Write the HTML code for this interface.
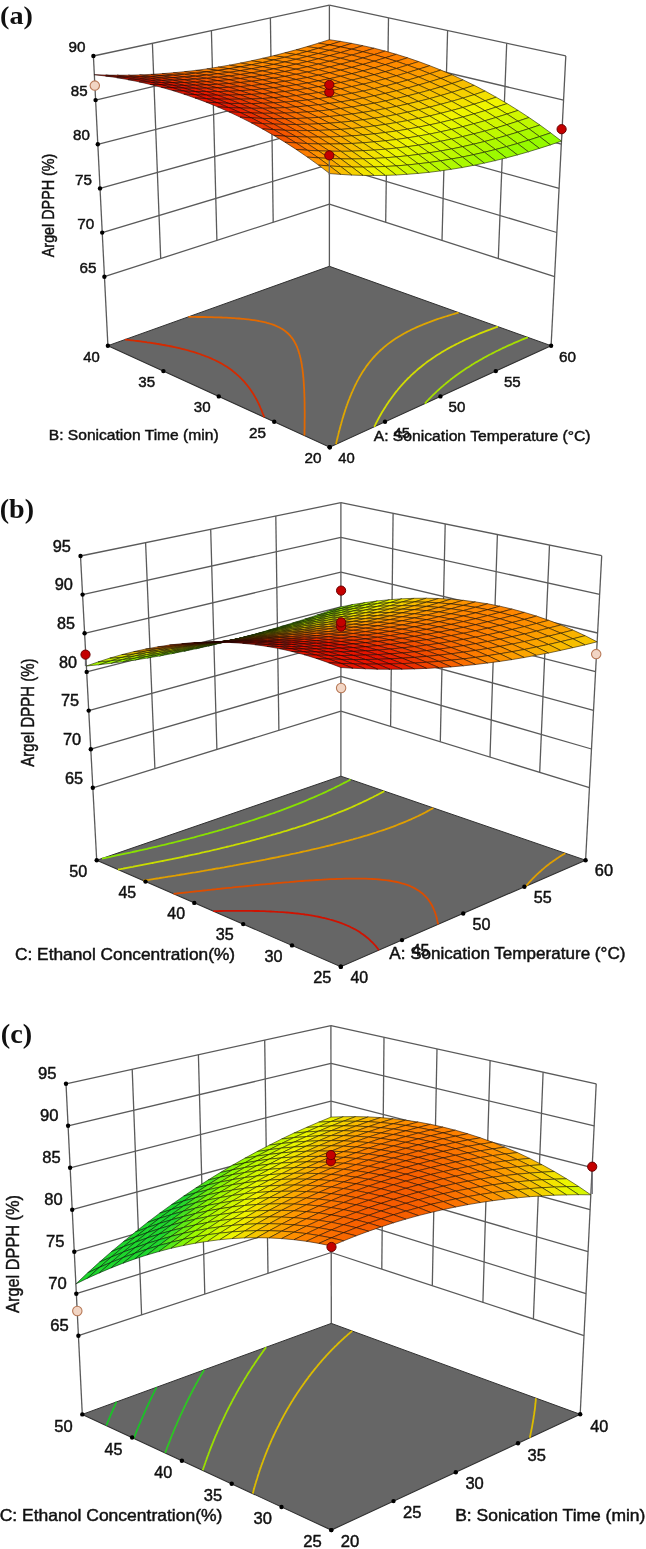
<!DOCTYPE html>
<html><head><meta charset="utf-8"><style>html,body{margin:0;padding:0;background:#fff}svg{display:block;filter:blur(0.35px)}</style></head>
<body><svg width="646" height="1549" viewBox="0 0 646 1549">
<rect width="646" height="1549" fill="#fff"/>
<polygon points="329.7,447.2 551.1,345.7 329.4,266.3 107.9,345.7" fill="#666666"/>
<line x1="160.7" y1="258.6" x2="152.4" y2="43.3" stroke="#5a5a5a" stroke-width="1.3"/>
<line x1="216.9" y1="240.4" x2="211.4" y2="30.6" stroke="#5a5a5a" stroke-width="1.3"/>
<line x1="273.2" y1="222.3" x2="270.4" y2="17.9" stroke="#5a5a5a" stroke-width="1.3"/>
<line x1="498.3" y1="258.6" x2="506.7" y2="43.2" stroke="#5a5a5a" stroke-width="1.3"/>
<line x1="442" y1="240.4" x2="447.6" y2="30.5" stroke="#5a5a5a" stroke-width="1.3"/>
<line x1="385.7" y1="222.3" x2="388.5" y2="17.9" stroke="#5a5a5a" stroke-width="1.3"/>
<line x1="104.4" y1="276.7" x2="329.4" y2="204.1" stroke="#5a5a5a" stroke-width="1.3"/>
<line x1="329.4" y1="204.1" x2="554.6" y2="276.7" stroke="#5a5a5a" stroke-width="1.3"/>
<line x1="102.2" y1="232.6" x2="329.4" y2="164.3" stroke="#5a5a5a" stroke-width="1.3"/>
<line x1="329.4" y1="164.3" x2="556.8" y2="232.5" stroke="#5a5a5a" stroke-width="1.3"/>
<line x1="100" y1="188.4" x2="329.4" y2="124.6" stroke="#5a5a5a" stroke-width="1.3"/>
<line x1="329.4" y1="124.6" x2="559.1" y2="188.4" stroke="#5a5a5a" stroke-width="1.3"/>
<line x1="97.8" y1="144.3" x2="329.4" y2="84.8" stroke="#5a5a5a" stroke-width="1.3"/>
<line x1="329.4" y1="84.8" x2="561.3" y2="144.2" stroke="#5a5a5a" stroke-width="1.3"/>
<line x1="95.6" y1="100.1" x2="329.4" y2="45" stroke="#5a5a5a" stroke-width="1.3"/>
<line x1="329.4" y1="45" x2="563.6" y2="100.1" stroke="#5a5a5a" stroke-width="1.3"/>
<line x1="93.4" y1="56" x2="329.4" y2="5.2" stroke="#5a5a5a" stroke-width="1.3"/>
<line x1="329.4" y1="5.2" x2="565.8" y2="55.9" stroke="#5a5a5a" stroke-width="1.3"/>
<line x1="107.9" y1="345.7" x2="93.4" y2="56" stroke="#5a5a5a" stroke-width="1.3"/>
<line x1="329.4" y1="266.3" x2="329.4" y2="5.2" stroke="#5a5a5a" stroke-width="1.3"/>
<line x1="551.1" y1="345.7" x2="565.8" y2="55.9" stroke="#5a5a5a" stroke-width="1.3"/>
<polyline points="107.9,345.7 329.7,447.2 551.1,345.7" fill="none" stroke="#303030" stroke-width="1.1"/>
<polyline points="107.9,345.7 329.4,266.3 551.1,345.7" fill="none" stroke="#303030" stroke-width="1.0"/>
<polyline points="424.8,403.6 425.3,403.1 426.3,401.9 427.3,400.8 427.4,400.7 428.5,399.6 429.6,398.4 430.1,398 430.7,397.3 431.9,396.2 433,395 433,395 434.2,393.9 435.3,392.8 436.2,392 436.5,391.7 437.7,390.6 438.9,389.5 439.6,388.8 440.1,388.4 441.4,387.3 442.6,386.2 443.4,385.6 443.8,385.1 445.1,384.1 446.4,383 447.5,382.1 447.7,382 449,380.9 450.3,379.9 451.6,378.8 452.2,378.4 453,377.8 454.4,376.8 455.7,375.8 457.1,374.7 457.5,374.4 458.5,373.7 459.9,372.7 461.4,371.7 462.8,370.8 463.9,370 464.3,369.8 465.7,368.8 467.2,367.8 468.7,366.9 470.2,365.9 471.7,365 471.7,364.9 473.3,364 474.8,363.1 476.4,362.1 478,361.2 479.6,360.3 481.2,359.4 482.7,358.5 482.8,358.4 484.4,357.5 486.1,356.6 487.7,355.7 489.4,354.8 491.1,354 492.8,353.1 494.5,352.2 496.3,351.3 498,350.5 499.8,349.6 501.5,348.8 503.3,347.9 505.1,347.1 506.9,346.2 508.8,345.4 510.6,344.6 512.5,343.8 514.3,342.9 516.2,342.1 518.1,341.3 520,340.5 521.9,339.7 523.9,338.9 525.8,338.1 527.8,337.3" fill="none" stroke="rgb(166,223,0)" stroke-width="1.8" stroke-linejoin="round"/>
<polyline points="374.3,426.8 374.8,425.6 375.4,424.6 375.5,424.3 376.2,422.9 376.4,422.5 376.9,421.6 377.6,420.3 377.6,420.2 378.3,418.9 378.8,418.1 379,417.6 379.8,416.3 380,415.9 380.5,415 381.2,413.7 381.3,413.6 382,412.3 382.5,411.5 382.8,411 383.6,409.8 383.9,409.3 384.4,408.5 385.2,407.2 385.3,407 386,405.9 386.7,404.7 386.8,404.7 387.6,403.4 388.3,402.4 388.5,402.2 389.3,400.9 389.9,400.1 390.2,399.7 391.1,398.4 391.6,397.8 392,397.2 392.9,396 393.3,395.4 393.8,394.8 394.7,393.6 395.2,392.9 395.6,392.4 396.6,391.2 397.2,390.5 397.6,390 398.5,388.8 399.2,388 399.5,387.6 400.5,386.5 401.5,385.4 401.5,385.3 402.6,384.2 403.6,383 403.8,382.8 404.7,381.9 405.7,380.7 406.4,380.1 406.8,379.6 407.9,378.5 409.1,377.4 409.2,377.3 410.2,376.3 411.3,375.2 412.2,374.4 412.5,374.1 413.7,373 414.9,372 415.5,371.4 416.1,370.9 417.3,369.8 418.5,368.8 419.2,368.2 419.8,367.7 421.1,366.7 422.3,365.7 423.5,364.8 423.6,364.7 425,363.6 426.3,362.6 427.7,361.6 428.4,361.1 429,360.6 430.4,359.7 431.8,358.7 433.2,357.7 434.3,357 434.7,356.8 436.1,355.8 437.6,354.8 439.1,353.9 440.6,353 442,352.1 442.1,352 443.7,351.1 445.2,350.2 446.8,349.3 448.4,348.4 450,347.5 451.6,346.6 453.3,345.8 453.8,345.5 455,344.9 456.6,344 458.3,343.2 460.1,342.3 461.8,341.5 463.5,340.6 465.3,339.8 467.1,339 468.9,338.2 470.7,337.4 472.5,336.6 474.4,335.8 476.3,335 478.1,334.2 480,333.4 482,332.6 483.9,331.9 485.8,331.1 487.8,330.3 489.8,329.6 491.8,328.8 493.8,328.1 494.2,328 495.8,327.4 497.9,326.6" fill="none" stroke="rgb(211,221,0)" stroke-width="1.8" stroke-linejoin="round"/>
<polyline points="336,444.3 336.2,443.4 336.4,442.4 336.5,441.9 336.8,440.6 336.9,440.4 337.2,438.8 337.3,438.7 337.6,437.3 337.7,436.8 338,435.8 338.2,434.9 338.3,434.3 338.7,433 338.7,432.8 339.1,431.3 339.1,431.2 339.5,429.9 339.6,429.3 339.9,428.4 340.1,427.4 340.3,426.9 340.6,425.5 340.7,425.4 341.1,423.9 341.2,423.6 341.5,422.5 341.7,421.7 341.9,421 342.2,419.8 342.3,419.6 342.7,418.1 342.8,417.9 343.2,416.7 343.4,416.1 343.6,415.2 344,414.2 344.1,413.8 344.5,412.4 344.6,412.3 345,411 345.2,410.4 345.4,409.5 345.8,408.5 345.9,408.1 346.4,406.7 346.5,406.5 346.9,405.3 347.1,404.6 347.4,403.9 347.8,402.7 347.9,402.5 348.4,401.1 348.6,400.8 348.9,399.8 349.3,398.9 349.5,398.4 350,397 350.1,396.9 350.6,395.7 350.9,395 351.1,394.3 351.7,393 351.7,393 352.3,391.6 352.5,391.1 352.9,390.3 353.4,389.1 353.5,389 354.1,387.6 354.3,387.1 354.7,386.3 355.3,385.1 355.3,385 356,383.7 356.3,383.1 356.6,382.4 357.3,381.1 357.3,381.1 358,379.9 358.4,379.1 358.7,378.6 359.4,377.3 359.6,377 360.1,376.1 360.8,374.9 360.9,374.8 361.6,373.6 362.1,372.8 362.4,372.3 363.2,371.1 363.4,370.7 364,369.9 364.8,368.7 364.9,368.5 365.6,367.5 366.4,366.3 366.4,366.3 367.3,365.1 368.1,364.1 368.2,363.9 369.1,362.8 369.9,361.8 370,361.6 370.9,360.5 371.8,359.5 371.9,359.3 372.9,358.2 373.9,357.1 373.9,357 374.9,356 375.9,354.9 376.2,354.5 377,353.8 378.1,352.7 378.8,351.9 379.2,351.6 380.3,350.5 381.4,349.5 381.8,349.2 382.6,348.5 383.8,347.4 385,346.4 385.2,346.3 386.2,345.4 387.5,344.4 388.8,343.4 389.2,343.1 390.1,342.4 391.4,341.5 392.8,340.5 394.2,339.6 394.3,339.4 395.6,338.6 397,337.7 398.5,336.8 400,335.9 401.5,335 401.5,335 403.1,334.1 404.6,333.2 406.2,332.4 407.8,331.5 409.5,330.7 411.2,329.8 412.9,329 414.6,328.2 416.4,327.4 418.1,326.6 418.7,326.4 419.9,325.8 421.8,325.1 423.6,324.3 425.4,323.6 425.5,323.6 427.4,322.8 429.3,322.1 431.3,321.3 433.3,320.6 435.3,319.9 437.3,319.2 439.3,318.5 441.4,317.8 443.5,317.2 445.6,316.5 447,316.1 447.7,315.8 449.9,315.2 452.1,314.5 454.3,313.9 456.5,313.2 458.7,312.6 458.7,312.6" fill="none" stroke="rgb(223,166,0)" stroke-width="1.8" stroke-linejoin="round"/>
<polyline points="188.3,316.9 189.9,316.9 192.2,316.9 193.3,316.9 196.1,316.9 196.8,317 200,317 200.4,317 203.9,317 203.9,317 207.5,317.1 207.6,317.1 211.2,317.2 211.4,317.2 214.9,317.3 215.1,317.3 218.6,317.4 218.7,317.4 222.3,317.5 222.5,317.6 225.8,317.7 226.4,317.7 229.2,317.9 230.4,317.9 232.6,318.1 234.5,318.2 235.9,318.3 238.7,318.5 239.2,318.5 242.3,318.8 243.2,318.9 245.4,319.1 247.9,319.4 248.4,319.4 251.3,319.8 253.1,320.1 254.1,320.2 256.8,320.6 259,321 259.4,321.1 261.9,321.6 264.3,322.1 266.6,322.7 266.9,322.8 268.9,323.3 271,324 273,324.7 274.9,325.4 276.7,326.2 278.4,327 280,327.8 281.6,328.7 281.8,328.8 283,329.6 284.4,330.5 285.7,331.5 286.6,332.2 286.9,332.5 288,333.5 289.1,334.6 289.3,334.8 290.1,335.6 291,336.8 291.3,337.1 291.9,337.9 292.7,339 292.9,339.2 293.5,340.2 294.1,341.2 294.3,341.4 294.9,342.6 295.2,343.2 295.6,343.9 296.2,345 296.2,345.1 296.8,346.4 297,346.9 297.3,347.7 297.7,348.7 297.8,349 298.3,350.3 298.3,350.4 298.7,351.6 298.9,352.2 299.1,353 299.4,353.9 299.5,354.3 299.9,355.6 299.9,355.7 300.2,357.1 300.3,357.3 300.6,358.5 300.7,359 300.9,359.9 301,360.7 301.2,361.3 301.4,362.3 301.4,362.7 301.7,364 301.7,364.1 301.9,365.6 301.9,365.6 302.1,367 302.2,367.3 302.4,368.5 302.4,368.9 302.6,369.9 302.6,370.5 302.7,371.4 302.8,372.2 302.9,372.9 303,373.8 303.1,374.4 303.2,375.4 303.2,375.9 303.3,377.1 303.4,377.4 303.5,378.7 303.5,378.9 303.6,380.3 303.6,380.4 303.7,381.9 303.7,381.9 303.8,383.4 303.8,383.5 303.9,385 303.9,385.1 304,386.5 304,386.8 304.1,388.1 304.1,388.4 304.2,389.6 304.2,390 304.2,391.2 304.2,391.6 304.3,392.7 304.3,393.2 304.4,394.3 304.4,394.8 304.4,395.9 304.4,396.5 304.5,397.5 304.5,398.1 304.5,399 304.5,399.7 304.5,400.6 304.5,401.3 304.6,402.2 304.6,402.9 304.6,403.8 304.6,404.5 304.6,405.4 304.6,406.2 304.6,407 304.6,407.8 304.6,408.7 304.6,409.4 304.7,410.3 304.7,411 304.7,411.9 304.7,412.7 304.7,413.5 304.7,414.3 304.7,415.2 304.7,415.9 304.7,416.8 304.7,417.6 304.7,418.4 304.6,419.2 304.6,420.1 304.6,420.8 304.6,421.7 304.6,422.5 304.6,423.4 304.6,424.1 304.6,425 304.6,425.7 304.6,426.7 304.6,427.4 304.6,428.4 304.5,429 304.5,430 304.5,430.7 304.5,431.7 304.5,432.3 304.5,433.4 304.5,434 304.4,435.1 304.4,435.6" fill="none" stroke="rgb(226,105,0)" stroke-width="1.8" stroke-linejoin="round"/>
<polyline points="125,339.6 128.2,339.9 128.3,339.9 131.3,340.3 132.7,340.4 134.5,340.7 137.3,341 137.6,341 140.6,341.4 142,341.6 143.6,341.8 146.6,342.2 146.8,342.3 149.6,342.7 151.8,343 152.5,343.1 155.3,343.5 157,343.8 158.2,344 161,344.5 162.5,344.8 163.7,345 166.4,345.5 168.3,345.8 169.1,346 171.7,346.5 174.3,347.1 174.7,347.1 176.8,347.6 179.3,348.2 181.8,348.8 181.8,348.8 184.2,349.4 186.6,350 188.9,350.6 190.4,351.1 191.2,351.3 193.4,351.9 195.6,352.6 197.7,353.3 199.9,354 201.9,354.8 203.9,355.5 204.1,355.6 205.9,356.3 207.9,357 209.8,357.8 211.6,358.6 213.4,359.5 215.2,360.3 216.9,361.2 217.4,361.4 218.6,362 220.3,362.9 221.9,363.8 223.5,364.8 225,365.7 226.5,366.6 227.9,367.6 228,367.6 229.4,368.6 230.8,369.6 232.2,370.6 233.3,371.5 233.5,371.6 234.8,372.7 236,373.7 237.2,374.8 237.3,374.8 238.4,375.8 239.6,376.9 240.4,377.8 240.7,378 241.8,379.2 242.9,380.3 243.1,380.5 244,381.4 245,382.6 245.4,383.1 246,383.8 247,385 247.4,385.6 247.9,386.1 248.8,387.3 249.3,388 249.7,388.6 250.6,389.8 250.9,390.3 251.4,391 252.2,392.3 252.4,392.5 253.1,393.5 253.8,394.7 253.8,394.8 254.6,396.1 255.1,396.9 255.3,397.4 256.1,398.7 256.2,399 256.8,400 257.4,401.1 257.4,401.3 258.1,402.6 258.4,403.2 258.8,404 259.4,405.3 259.4,405.3 260,406.7 260.3,407.3 260.6,408.1 261.1,409.3 261.2,409.4 261.8,410.8 261.9,411.3 262.3,412.2 262.7,413.3 262.8,413.6 263.4,415 263.4,415.2 263.9,416.4 264.1,417.2" fill="none" stroke="rgb(212,42,0)" stroke-width="1.8" stroke-linejoin="round"/>
<circle cx="104.4" cy="276.7" r="2.2" fill="#000"/>
<circle cx="102.2" cy="232.6" r="2.2" fill="#000"/>
<circle cx="100" cy="188.4" r="2.2" fill="#000"/>
<circle cx="97.8" cy="144.3" r="2.2" fill="#000"/>
<circle cx="95.6" cy="100.1" r="2.2" fill="#000"/>
<circle cx="93.4" cy="56" r="2.2" fill="#000"/>
<circle cx="329.7" cy="447.2" r="2.2" fill="#000"/>
<circle cx="274.2" cy="421.8" r="2.2" fill="#000"/>
<circle cx="218.8" cy="396.4" r="2.2" fill="#000"/>
<circle cx="163.4" cy="371.1" r="2.2" fill="#000"/>
<circle cx="107.9" cy="345.7" r="2.2" fill="#000"/>
<circle cx="329.7" cy="447.2" r="2.2" fill="#000"/>
<circle cx="385" cy="421.8" r="2.2" fill="#000"/>
<circle cx="440.4" cy="396.4" r="2.2" fill="#000"/>
<circle cx="495.8" cy="371.1" r="2.2" fill="#000"/>
<circle cx="551.1" cy="345.7" r="2.2" fill="#000"/>
<polygon points="329.4,44.9 340.6,41.4 329.4,39.7 318.3,43.2" fill="rgb(254,130,0)" stroke="rgb(38,20,0)" stroke-width="0.6" stroke-linejoin="round"/>
<polygon points="318.3,48.3 329.4,44.9 318.3,43.2 307.1,46.6" fill="rgb(255,135,0)" stroke="rgb(38,20,0)" stroke-width="0.6" stroke-linejoin="round"/>
<polygon points="340.6,46.9 351.7,43.4 340.6,41.4 329.4,44.9" fill="rgb(253,126,0)" stroke="rgb(38,19,0)" stroke-width="0.6" stroke-linejoin="round"/>
<polygon points="307.1,51.5 318.3,48.3 307.1,46.6 296,49.8" fill="rgb(254,139,0)" stroke="rgb(38,21,0)" stroke-width="0.6" stroke-linejoin="round"/>
<polygon points="329.4,50.3 340.6,46.9 329.4,44.9 318.3,48.3" fill="rgb(254,131,0)" stroke="rgb(38,20,0)" stroke-width="0.6" stroke-linejoin="round"/>
<polygon points="351.8,49.2 362.9,45.7 351.7,43.4 340.6,46.9" fill="rgb(252,123,0)" stroke="rgb(38,18,0)" stroke-width="0.6" stroke-linejoin="round"/>
<polygon points="362.9,51.8 374.1,48.2 362.9,45.7 351.8,49.2" fill="rgb(252,122,0)" stroke="rgb(38,18,0)" stroke-width="0.6" stroke-linejoin="round"/>
<polygon points="296,54.5 307.1,51.5 296,49.8 284.8,52.8" fill="rgb(254,142,0)" stroke="rgb(38,21,0)" stroke-width="0.6" stroke-linejoin="round"/>
<polygon points="318.3,53.5 329.4,50.3 318.3,48.3 307.1,51.5" fill="rgb(255,134,0)" stroke="rgb(38,20,0)" stroke-width="0.6" stroke-linejoin="round"/>
<polygon points="340.6,52.6 351.8,49.2 340.6,46.9 329.4,50.3" fill="rgb(253,127,0)" stroke="rgb(38,19,0)" stroke-width="0.6" stroke-linejoin="round"/>
<polygon points="284.8,57.3 296,54.5 284.8,52.8 273.7,55.7" fill="rgb(254,144,0)" stroke="rgb(38,22,0)" stroke-width="0.6" stroke-linejoin="round"/>
<polygon points="307.1,56.5 318.3,53.5 307.1,51.5 296,54.5" fill="rgb(255,137,0)" stroke="rgb(38,21,0)" stroke-width="0.6" stroke-linejoin="round"/>
<polygon points="329.5,55.7 340.6,52.6 329.4,50.3 318.3,53.5" fill="rgb(254,131,0)" stroke="rgb(38,20,0)" stroke-width="0.6" stroke-linejoin="round"/>
<polygon points="351.8,55.1 362.9,51.8 351.8,49.2 340.6,52.6" fill="rgb(253,126,0)" stroke="rgb(38,19,0)" stroke-width="0.6" stroke-linejoin="round"/>
<polygon points="374.1,54.6 385.2,51.1 374.1,48.2 362.9,51.8" fill="rgb(252,122,0)" stroke="rgb(38,18,0)" stroke-width="0.6" stroke-linejoin="round"/>
<polygon points="296,59.3 307.1,56.5 296,54.5 284.8,57.3" fill="rgb(255,139,0)" stroke="rgb(38,21,0)" stroke-width="0.6" stroke-linejoin="round"/>
<polygon points="273.7,60 284.8,57.3 273.7,55.7 262.6,58.3" fill="rgb(254,145,0)" stroke="rgb(38,22,0)" stroke-width="0.6" stroke-linejoin="round"/>
<polygon points="318.3,58.8 329.5,55.7 318.3,53.5 307.1,56.5" fill="rgb(255,133,0)" stroke="rgb(38,20,0)" stroke-width="0.6" stroke-linejoin="round"/>
<polygon points="340.6,58.3 351.8,55.1 340.6,52.6 329.5,55.7" fill="rgb(254,129,0)" stroke="rgb(38,19,0)" stroke-width="0.6" stroke-linejoin="round"/>
<polygon points="385.2,57.8 396.4,54.3 385.2,51.1 374.1,54.6" fill="rgb(253,125,0)" stroke="rgb(38,19,0)" stroke-width="0.6" stroke-linejoin="round"/>
<polygon points="362.9,58 374.1,54.6 362.9,51.8 351.8,55.1" fill="rgb(253,127,0)" stroke="rgb(38,19,0)" stroke-width="0.6" stroke-linejoin="round"/>
<polygon points="329.5,61.3 340.6,58.3 329.5,55.7 318.3,58.8" fill="rgb(254,132,0)" stroke="rgb(38,20,0)" stroke-width="0.6" stroke-linejoin="round"/>
<polygon points="262.6,62.5 273.7,60 262.6,58.3 251.4,60.8" fill="rgb(254,144,0)" stroke="rgb(38,22,0)" stroke-width="0.6" stroke-linejoin="round"/>
<polygon points="284.9,62 296,59.3 284.8,57.3 273.7,60" fill="rgb(254,139,0)" stroke="rgb(38,21,0)" stroke-width="0.6" stroke-linejoin="round"/>
<polygon points="307.2,61.6 318.3,58.8 307.1,56.5 296,59.3" fill="rgb(255,135,0)" stroke="rgb(38,20,0)" stroke-width="0.6" stroke-linejoin="round"/>
<polygon points="351.8,61.2 362.9,58 351.8,55.1 340.6,58.3" fill="rgb(254,130,0)" stroke="rgb(38,19,0)" stroke-width="0.6" stroke-linejoin="round"/>
<polygon points="374.1,61.2 385.2,57.8 374.1,54.6 362.9,58" fill="rgb(254,129,0)" stroke="rgb(38,19,0)" stroke-width="0.6" stroke-linejoin="round"/>
<polygon points="396.4,61.3 407.6,57.8 396.4,54.3 385.2,57.8" fill="rgb(254,129,0)" stroke="rgb(38,19,0)" stroke-width="0.6" stroke-linejoin="round"/>
<polygon points="251.4,64.8 262.6,62.5 251.4,60.8 240.3,63.1" fill="rgb(254,143,0)" stroke="rgb(38,21,0)" stroke-width="0.6" stroke-linejoin="round"/>
<polygon points="273.7,64.4 284.9,62 273.7,60 262.6,62.5" fill="rgb(255,138,0)" stroke="rgb(38,21,0)" stroke-width="0.6" stroke-linejoin="round"/>
<polygon points="318.3,64.1 329.5,61.3 318.3,58.8 307.2,61.6" fill="rgb(255,133,0)" stroke="rgb(38,20,0)" stroke-width="0.6" stroke-linejoin="round"/>
<polygon points="340.6,64.2 351.8,61.2 340.6,58.3 329.5,61.3" fill="rgb(254,132,0)" stroke="rgb(38,20,0)" stroke-width="0.6" stroke-linejoin="round"/>
<polygon points="362.9,64.4 374.1,61.2 362.9,58 351.8,61.2" fill="rgb(254,132,0)" stroke="rgb(38,20,0)" stroke-width="0.6" stroke-linejoin="round"/>
<polygon points="385.2,64.7 396.4,61.3 385.2,57.8 374.1,61.2" fill="rgb(255,133,0)" stroke="rgb(38,20,0)" stroke-width="0.6" stroke-linejoin="round"/>
<polygon points="296,64.2 307.2,61.6 296,59.3 284.9,62" fill="rgb(255,135,0)" stroke="rgb(38,20,0)" stroke-width="0.6" stroke-linejoin="round"/>
<polygon points="407.5,65.1 418.7,61.6 407.6,57.8 396.4,61.3" fill="rgb(255,135,0)" stroke="rgb(38,20,0)" stroke-width="0.6" stroke-linejoin="round"/>
<polygon points="240.3,66.9 251.4,64.8 240.3,63.1 229.1,65.2" fill="rgb(254,140,0)" stroke="rgb(38,21,0)" stroke-width="0.6" stroke-linejoin="round"/>
<polygon points="284.9,66.7 296,64.2 284.9,62 273.7,64.4" fill="rgb(255,134,0)" stroke="rgb(38,20,0)" stroke-width="0.6" stroke-linejoin="round"/>
<polygon points="307.2,66.8 318.3,64.1 307.2,61.6 296,64.2" fill="rgb(255,133,0)" stroke="rgb(38,20,0)" stroke-width="0.6" stroke-linejoin="round"/>
<polygon points="396.4,68.5 407.5,65.1 396.4,61.3 385.2,64.7" fill="rgb(255,139,0)" stroke="rgb(38,21,0)" stroke-width="0.6" stroke-linejoin="round"/>
<polygon points="418.7,69.2 429.8,65.7 418.7,61.6 407.5,65.1" fill="rgb(254,143,0)" stroke="rgb(38,21,0)" stroke-width="0.6" stroke-linejoin="round"/>
<polygon points="262.6,66.7 273.7,64.4 262.6,62.5 251.4,64.8" fill="rgb(255,137,0)" stroke="rgb(38,21,0)" stroke-width="0.6" stroke-linejoin="round"/>
<polygon points="329.5,67 340.6,64.2 329.5,61.3 318.3,64.1" fill="rgb(254,132,0)" stroke="rgb(38,20,0)" stroke-width="0.6" stroke-linejoin="round"/>
<polygon points="351.8,67.4 362.9,64.4 351.8,61.2 340.6,64.2" fill="rgb(255,133,0)" stroke="rgb(38,20,0)" stroke-width="0.6" stroke-linejoin="round"/>
<polygon points="374.1,67.9 385.2,64.7 374.1,61.2 362.9,64.4" fill="rgb(255,135,0)" stroke="rgb(38,20,0)" stroke-width="0.6" stroke-linejoin="round"/>
<polygon points="296,69.2 307.2,66.8 296,64.2 284.9,66.7" fill="rgb(254,132,0)" stroke="rgb(38,20,0)" stroke-width="0.6" stroke-linejoin="round"/>
<polygon points="229.1,68.7 240.3,66.9 229.1,65.2 218,67.1" fill="rgb(255,137,0)" stroke="rgb(38,21,0)" stroke-width="0.6" stroke-linejoin="round"/>
<polygon points="251.4,68.8 262.6,66.7 251.4,64.8 240.3,66.9" fill="rgb(255,134,0)" stroke="rgb(38,20,0)" stroke-width="0.6" stroke-linejoin="round"/>
<polygon points="273.7,68.9 284.9,66.7 273.7,64.4 262.6,66.7" fill="rgb(254,132,0)" stroke="rgb(38,20,0)" stroke-width="0.6" stroke-linejoin="round"/>
<polygon points="318.3,69.6 329.5,67 318.3,64.1 307.2,66.8" fill="rgb(254,132,0)" stroke="rgb(38,20,0)" stroke-width="0.6" stroke-linejoin="round"/>
<polygon points="340.6,70.2 351.8,67.4 340.6,64.2 329.5,67" fill="rgb(255,134,0)" stroke="rgb(38,20,0)" stroke-width="0.6" stroke-linejoin="round"/>
<polygon points="362.9,70.9 374.1,67.9 362.9,64.4 351.8,67.4" fill="rgb(255,137,0)" stroke="rgb(38,21,0)" stroke-width="0.6" stroke-linejoin="round"/>
<polygon points="385.2,71.7 396.4,68.5 385.2,64.7 374.1,67.9" fill="rgb(254,141,0)" stroke="rgb(38,21,0)" stroke-width="0.6" stroke-linejoin="round"/>
<polygon points="407.5,72.6 418.7,69.2 407.5,65.1 396.4,68.5" fill="rgb(254,146,0)" stroke="rgb(38,22,0)" stroke-width="0.6" stroke-linejoin="round"/>
<polygon points="429.8,73.6 440.9,70.1 429.8,65.7 418.7,69.2" fill="rgb(253,152,0)" stroke="rgb(38,23,0)" stroke-width="0.6" stroke-linejoin="round"/>
<polygon points="307.2,72.1 318.3,69.6 307.2,66.8 296,69.2" fill="rgb(254,131,0)" stroke="rgb(38,20,0)" stroke-width="0.6" stroke-linejoin="round"/>
<polygon points="351.8,73.7 362.9,70.9 351.8,67.4 340.6,70.2" fill="rgb(255,137,0)" stroke="rgb(38,21,0)" stroke-width="0.6" stroke-linejoin="round"/>
<polygon points="217.9,70.4 229.1,68.7 218,67.1 206.8,68.9" fill="rgb(254,132,0)" stroke="rgb(38,20,0)" stroke-width="0.6" stroke-linejoin="round"/>
<polygon points="240.2,70.7 251.4,68.8 240.3,66.9 229.1,68.7" fill="rgb(254,130,0)" stroke="rgb(38,20,0)" stroke-width="0.6" stroke-linejoin="round"/>
<polygon points="262.6,71 273.7,68.9 262.6,66.7 251.4,68.8" fill="rgb(254,129,0)" stroke="rgb(38,19,0)" stroke-width="0.6" stroke-linejoin="round"/>
<polygon points="284.9,71.5 296,69.2 284.9,66.7 273.7,68.9" fill="rgb(254,129,0)" stroke="rgb(38,19,0)" stroke-width="0.6" stroke-linejoin="round"/>
<polygon points="329.5,72.8 340.6,70.2 329.5,67 318.3,69.6" fill="rgb(255,134,0)" stroke="rgb(38,20,0)" stroke-width="0.6" stroke-linejoin="round"/>
<polygon points="374.1,74.7 385.2,71.7 374.1,67.9 362.9,70.9" fill="rgb(254,142,0)" stroke="rgb(38,21,0)" stroke-width="0.6" stroke-linejoin="round"/>
<polygon points="396.4,75.8 407.5,72.6 396.4,68.5 385.2,71.7" fill="rgb(253,148,0)" stroke="rgb(38,22,0)" stroke-width="0.6" stroke-linejoin="round"/>
<polygon points="440.9,78.4 452,74.8 440.9,70.1 429.8,73.6" fill="rgb(251,163,0)" stroke="rgb(38,24,0)" stroke-width="0.6" stroke-linejoin="round"/>
<polygon points="418.6,77 429.8,73.6 418.7,69.2 407.5,72.6" fill="rgb(252,155,0)" stroke="rgb(38,23,0)" stroke-width="0.6" stroke-linejoin="round"/>
<polygon points="273.7,73.5 284.9,71.5 273.7,68.9 262.6,71" fill="rgb(253,126,0)" stroke="rgb(38,19,0)" stroke-width="0.6" stroke-linejoin="round"/>
<polygon points="363,77.5 374.1,74.7 362.9,70.9 351.8,73.7" fill="rgb(254,142,0)" stroke="rgb(38,21,0)" stroke-width="0.6" stroke-linejoin="round"/>
<polygon points="385.2,78.8 396.4,75.8 385.2,71.7 374.1,74.7" fill="rgb(253,149,0)" stroke="rgb(38,22,0)" stroke-width="0.6" stroke-linejoin="round"/>
<polygon points="452,83.5 463.1,79.9 452,74.8 440.9,78.4" fill="rgb(249,176,0)" stroke="rgb(37,26,0)" stroke-width="0.6" stroke-linejoin="round"/>
<polygon points="206.7,71.9 217.9,70.4 206.8,68.9 195.6,70.4" fill="rgb(253,126,0)" stroke="rgb(38,19,0)" stroke-width="0.6" stroke-linejoin="round"/>
<polygon points="229.1,72.3 240.2,70.7 229.1,68.7 217.9,70.4" fill="rgb(253,125,0)" stroke="rgb(38,19,0)" stroke-width="0.6" stroke-linejoin="round"/>
<polygon points="251.4,72.9 262.6,71 251.4,68.8 240.2,70.7" fill="rgb(253,125,0)" stroke="rgb(38,19,0)" stroke-width="0.6" stroke-linejoin="round"/>
<polygon points="296,74.3 307.2,72.1 296,69.2 284.9,71.5" fill="rgb(254,128,0)" stroke="rgb(38,19,0)" stroke-width="0.6" stroke-linejoin="round"/>
<polygon points="318.4,75.2 329.5,72.8 318.3,69.6 307.2,72.1" fill="rgb(254,132,0)" stroke="rgb(38,20,0)" stroke-width="0.6" stroke-linejoin="round"/>
<polygon points="340.7,76.3 351.8,73.7 340.6,70.2 329.5,72.8" fill="rgb(255,137,0)" stroke="rgb(38,20,0)" stroke-width="0.6" stroke-linejoin="round"/>
<polygon points="407.5,80.2 418.6,77 407.5,72.6 396.4,75.8" fill="rgb(252,157,0)" stroke="rgb(38,24,0)" stroke-width="0.6" stroke-linejoin="round"/>
<polygon points="429.7,81.8 440.9,78.4 429.8,73.6 418.6,77" fill="rgb(251,166,0)" stroke="rgb(38,25,0)" stroke-width="0.6" stroke-linejoin="round"/>
<polygon points="195.6,73.2 206.7,71.9 195.6,70.4 184.4,71.7" fill="rgb(252,119,0)" stroke="rgb(38,18,0)" stroke-width="0.6" stroke-linejoin="round"/>
<polygon points="217.9,73.8 229.1,72.3 217.9,70.4 206.7,71.9" fill="rgb(252,119,0)" stroke="rgb(38,18,0)" stroke-width="0.6" stroke-linejoin="round"/>
<polygon points="240.2,74.5 251.4,72.9 240.2,70.7 229.1,72.3" fill="rgb(252,120,0)" stroke="rgb(38,18,0)" stroke-width="0.6" stroke-linejoin="round"/>
<polygon points="262.6,75.4 273.7,73.5 262.6,71 251.4,72.9" fill="rgb(252,122,0)" stroke="rgb(38,18,0)" stroke-width="0.6" stroke-linejoin="round"/>
<polygon points="284.9,76.4 296,74.3 284.9,71.5 273.7,73.5" fill="rgb(253,125,0)" stroke="rgb(38,19,0)" stroke-width="0.6" stroke-linejoin="round"/>
<polygon points="307.2,77.5 318.4,75.2 307.2,72.1 296,74.3" fill="rgb(254,129,0)" stroke="rgb(38,19,0)" stroke-width="0.6" stroke-linejoin="round"/>
<polygon points="329.5,78.7 340.7,76.3 329.5,72.8 318.4,75.2" fill="rgb(255,135,0)" stroke="rgb(38,20,0)" stroke-width="0.6" stroke-linejoin="round"/>
<polygon points="374.1,81.6 385.2,78.8 374.1,74.7 363,77.5" fill="rgb(253,149,0)" stroke="rgb(38,22,0)" stroke-width="0.6" stroke-linejoin="round"/>
<polygon points="396.4,83.2 407.5,80.2 396.4,75.8 385.2,78.8" fill="rgb(252,157,0)" stroke="rgb(38,24,0)" stroke-width="0.6" stroke-linejoin="round"/>
<polygon points="418.6,85 429.7,81.8 418.6,77 407.5,80.2" fill="rgb(251,167,0)" stroke="rgb(38,25,0)" stroke-width="0.6" stroke-linejoin="round"/>
<polygon points="440.8,86.9 452,83.5 440.9,78.4 429.7,81.8" fill="rgb(249,178,0)" stroke="rgb(37,27,0)" stroke-width="0.6" stroke-linejoin="round"/>
<polygon points="351.8,80.1 363,77.5 351.8,73.7 340.7,76.3" fill="rgb(254,141,0)" stroke="rgb(38,21,0)" stroke-width="0.6" stroke-linejoin="round"/>
<polygon points="463,88.9 474.2,85.3 463.1,79.9 452,83.5" fill="rgb(247,190,0)" stroke="rgb(37,29,0)" stroke-width="0.6" stroke-linejoin="round"/>
<polygon points="184.4,74.3 195.6,73.2 184.4,71.7 173.2,72.8" fill="rgb(250,111,0)" stroke="rgb(37,17,0)" stroke-width="0.6" stroke-linejoin="round"/>
<polygon points="206.7,75.1 217.9,73.8 206.7,71.9 195.6,73.2" fill="rgb(250,112,0)" stroke="rgb(37,17,0)" stroke-width="0.6" stroke-linejoin="round"/>
<polygon points="229,76 240.2,74.5 229.1,72.3 217.9,73.8" fill="rgb(250,113,0)" stroke="rgb(38,17,0)" stroke-width="0.6" stroke-linejoin="round"/>
<polygon points="251.4,77 262.6,75.4 251.4,72.9 240.2,74.5" fill="rgb(251,116,0)" stroke="rgb(38,17,0)" stroke-width="0.6" stroke-linejoin="round"/>
<polygon points="273.7,78.2 284.9,76.4 273.7,73.5 262.6,75.4" fill="rgb(252,120,0)" stroke="rgb(38,18,0)" stroke-width="0.6" stroke-linejoin="round"/>
<polygon points="296,79.5 307.2,77.5 296,74.3 284.9,76.4" fill="rgb(253,125,0)" stroke="rgb(38,19,0)" stroke-width="0.6" stroke-linejoin="round"/>
<polygon points="340.7,82.5 351.8,80.1 340.7,76.3 329.5,78.7" fill="rgb(254,139,0)" stroke="rgb(38,21,0)" stroke-width="0.6" stroke-linejoin="round"/>
<polygon points="363,84.2 374.1,81.6 363,77.5 351.8,80.1" fill="rgb(253,148,0)" stroke="rgb(38,22,0)" stroke-width="0.6" stroke-linejoin="round"/>
<polygon points="407.5,88 418.6,85 407.5,80.2 396.4,83.2" fill="rgb(251,168,0)" stroke="rgb(38,25,0)" stroke-width="0.6" stroke-linejoin="round"/>
<polygon points="429.7,90.1 440.8,86.9 429.7,81.8 418.6,85" fill="rgb(249,179,0)" stroke="rgb(37,27,0)" stroke-width="0.6" stroke-linejoin="round"/>
<polygon points="451.9,92.3 463,88.9 452,83.5 440.8,86.9" fill="rgb(247,192,0)" stroke="rgb(37,29,0)" stroke-width="0.6" stroke-linejoin="round"/>
<polygon points="474.1,94.7 485.2,91.1 474.2,85.3 463,88.9" fill="rgb(245,206,0)" stroke="rgb(37,31,0)" stroke-width="0.6" stroke-linejoin="round"/>
<polygon points="318.4,80.9 329.5,78.7 318.4,75.2 307.2,77.5" fill="rgb(254,132,0)" stroke="rgb(38,20,0)" stroke-width="0.6" stroke-linejoin="round"/>
<polygon points="385.2,86 396.4,83.2 385.2,78.8 374.1,81.6" fill="rgb(252,157,0)" stroke="rgb(38,24,0)" stroke-width="0.6" stroke-linejoin="round"/>
<polygon points="485.1,100.8 496.2,97.2 485.2,91.1 474.1,94.7" fill="rgb(243,224,0)" stroke="rgb(36,34,0)" stroke-width="0.6" stroke-linejoin="round"/>
<polygon points="173.1,75.2 184.4,74.3 173.2,72.8 162,73.7" fill="rgb(248,102,0)" stroke="rgb(37,15,0)" stroke-width="0.6" stroke-linejoin="round"/>
<polygon points="195.5,76.2 206.7,75.1 195.6,73.2 184.4,74.3" fill="rgb(248,103,0)" stroke="rgb(37,16,0)" stroke-width="0.6" stroke-linejoin="round"/>
<polygon points="217.8,77.3 229,76 217.9,73.8 206.7,75.1" fill="rgb(249,106,0)" stroke="rgb(37,16,0)" stroke-width="0.6" stroke-linejoin="round"/>
<polygon points="240.2,78.5 251.4,77 240.2,74.5 229,76" fill="rgb(249,110,0)" stroke="rgb(37,16,0)" stroke-width="0.6" stroke-linejoin="round"/>
<polygon points="262.5,79.8 273.7,78.2 262.6,75.4 251.4,77" fill="rgb(251,114,0)" stroke="rgb(38,17,0)" stroke-width="0.6" stroke-linejoin="round"/>
<polygon points="284.9,81.3 296,79.5 284.9,76.4 273.7,78.2" fill="rgb(252,121,0)" stroke="rgb(38,18,0)" stroke-width="0.6" stroke-linejoin="round"/>
<polygon points="307.2,83 318.4,80.9 307.2,77.5 296,79.5" fill="rgb(253,128,0)" stroke="rgb(38,19,0)" stroke-width="0.6" stroke-linejoin="round"/>
<polygon points="329.5,84.7 340.7,82.5 329.5,78.7 318.4,80.9" fill="rgb(255,136,0)" stroke="rgb(38,20,0)" stroke-width="0.6" stroke-linejoin="round"/>
<polygon points="351.8,86.6 363,84.2 351.8,80.1 340.7,82.5" fill="rgb(254,145,0)" stroke="rgb(38,22,0)" stroke-width="0.6" stroke-linejoin="round"/>
<polygon points="374.1,88.6 385.2,86 374.1,81.6 363,84.2" fill="rgb(252,156,0)" stroke="rgb(38,23,0)" stroke-width="0.6" stroke-linejoin="round"/>
<polygon points="396.4,90.8 407.5,88 396.4,83.2 385.2,86" fill="rgb(251,167,0)" stroke="rgb(38,25,0)" stroke-width="0.6" stroke-linejoin="round"/>
<polygon points="418.6,93.1 429.7,90.1 418.6,85 407.5,88" fill="rgb(249,180,0)" stroke="rgb(37,27,0)" stroke-width="0.6" stroke-linejoin="round"/>
<polygon points="440.8,95.5 451.9,92.3 440.8,86.9 429.7,90.1" fill="rgb(247,193,0)" stroke="rgb(37,29,0)" stroke-width="0.6" stroke-linejoin="round"/>
<polygon points="462.9,98.1 474.1,94.7 463,88.9 451.9,92.3" fill="rgb(245,208,0)" stroke="rgb(37,31,0)" stroke-width="0.6" stroke-linejoin="round"/>
<polygon points="161.9,75.9 173.1,75.2 162,73.7 150.8,74.4" fill="rgb(246,92,0)" stroke="rgb(37,14,0)" stroke-width="0.6" stroke-linejoin="round"/>
<polygon points="184.3,77 195.5,76.2 184.4,74.3 173.1,75.2" fill="rgb(246,94,0)" stroke="rgb(37,14,0)" stroke-width="0.6" stroke-linejoin="round"/>
<polygon points="229,79.7 240.2,78.5 229,76 217.8,77.3" fill="rgb(248,102,0)" stroke="rgb(37,15,0)" stroke-width="0.6" stroke-linejoin="round"/>
<polygon points="251.4,81.3 262.5,79.8 251.4,77 240.2,78.5" fill="rgb(249,108,0)" stroke="rgb(37,16,0)" stroke-width="0.6" stroke-linejoin="round"/>
<polygon points="296.1,84.8 307.2,83 296,79.5 284.9,81.3" fill="rgb(252,123,0)" stroke="rgb(38,18,0)" stroke-width="0.6" stroke-linejoin="round"/>
<polygon points="318.4,86.7 329.5,84.7 318.4,80.9 307.2,83" fill="rgb(254,132,0)" stroke="rgb(38,20,0)" stroke-width="0.6" stroke-linejoin="round"/>
<polygon points="340.7,88.8 351.8,86.6 340.7,82.5 329.5,84.7" fill="rgb(254,142,0)" stroke="rgb(38,21,0)" stroke-width="0.6" stroke-linejoin="round"/>
<polygon points="363,91.1 374.1,88.6 363,84.2 351.8,86.6" fill="rgb(253,153,0)" stroke="rgb(38,23,0)" stroke-width="0.6" stroke-linejoin="round"/>
<polygon points="407.5,95.9 418.6,93.1 407.5,88 396.4,90.8" fill="rgb(249,179,0)" stroke="rgb(37,27,0)" stroke-width="0.6" stroke-linejoin="round"/>
<polygon points="451.8,101.3 462.9,98.1 451.9,92.3 440.8,95.5" fill="rgb(245,209,0)" stroke="rgb(37,31,0)" stroke-width="0.6" stroke-linejoin="round"/>
<polygon points="474,104.2 485.1,100.8 474.1,94.7 462.9,98.1" fill="rgb(243,226,0)" stroke="rgb(36,34,0)" stroke-width="0.6" stroke-linejoin="round"/>
<polygon points="206.6,78.3 217.8,77.3 206.7,75.1 195.5,76.2" fill="rgb(247,97,0)" stroke="rgb(37,15,0)" stroke-width="0.6" stroke-linejoin="round"/>
<polygon points="273.7,82.9 284.9,81.3 273.7,78.2 262.5,79.8" fill="rgb(251,114,0)" stroke="rgb(38,17,0)" stroke-width="0.6" stroke-linejoin="round"/>
<polygon points="385.2,93.4 396.4,90.8 385.2,86 374.1,88.6" fill="rgb(251,165,0)" stroke="rgb(38,25,0)" stroke-width="0.6" stroke-linejoin="round"/>
<polygon points="429.7,98.6 440.8,95.5 429.7,90.1 418.6,93.1" fill="rgb(247,193,0)" stroke="rgb(37,29,0)" stroke-width="0.6" stroke-linejoin="round"/>
<polygon points="496,107.2 507.1,103.6 496.2,97.2 485.1,100.8" fill="rgb(240,244,0)" stroke="rgb(36,37,0)" stroke-width="0.6" stroke-linejoin="round"/>
<polygon points="150.7,76.4 161.9,75.9 150.8,74.4 139.5,74.9" fill="rgb(243,80,0)" stroke="rgb(36,12,0)" stroke-width="0.6" stroke-linejoin="round"/>
<polygon points="195.4,79.1 206.6,78.3 195.5,76.2 184.3,77" fill="rgb(245,88,0)" stroke="rgb(37,13,0)" stroke-width="0.6" stroke-linejoin="round"/>
<polygon points="217.8,80.7 229,79.7 217.8,77.3 206.6,78.3" fill="rgb(246,93,0)" stroke="rgb(37,14,0)" stroke-width="0.6" stroke-linejoin="round"/>
<polygon points="240.2,82.5 251.4,81.3 240.2,78.5 229,79.7" fill="rgb(247,100,0)" stroke="rgb(37,15,0)" stroke-width="0.6" stroke-linejoin="round"/>
<polygon points="307.2,88.5 318.4,86.7 307.2,83 296.1,84.8" fill="rgb(253,126,0)" stroke="rgb(38,19,0)" stroke-width="0.6" stroke-linejoin="round"/>
<polygon points="329.5,90.8 340.7,88.8 329.5,84.7 318.4,86.7" fill="rgb(255,138,0)" stroke="rgb(38,21,0)" stroke-width="0.6" stroke-linejoin="round"/>
<polygon points="374.1,95.8 385.2,93.4 374.1,88.6 363,91.1" fill="rgb(251,163,0)" stroke="rgb(38,24,0)" stroke-width="0.6" stroke-linejoin="round"/>
<polygon points="396.3,98.5 407.5,95.9 396.4,90.8 385.2,93.4" fill="rgb(249,177,0)" stroke="rgb(37,27,0)" stroke-width="0.6" stroke-linejoin="round"/>
<polygon points="418.5,101.4 429.7,98.6 418.6,93.1 407.5,95.9" fill="rgb(247,192,0)" stroke="rgb(37,29,0)" stroke-width="0.6" stroke-linejoin="round"/>
<polygon points="462.9,107.5 474,104.2 462.9,98.1 451.8,101.3" fill="rgb(243,226,0)" stroke="rgb(36,34,0)" stroke-width="0.6" stroke-linejoin="round"/>
<polygon points="507,114 518.1,110.4 507.1,103.6 496,107.2" fill="rgb(225,246,0)" stroke="rgb(34,37,0)" stroke-width="0.6" stroke-linejoin="round"/>
<polygon points="173,77.7 184.3,77 173.1,75.2 161.9,75.9" fill="rgb(244,83,0)" stroke="rgb(37,13,0)" stroke-width="0.6" stroke-linejoin="round"/>
<polygon points="262.5,84.4 273.7,82.9 262.5,79.8 251.4,81.3" fill="rgb(249,107,0)" stroke="rgb(37,16,0)" stroke-width="0.6" stroke-linejoin="round"/>
<polygon points="284.9,86.4 296.1,84.8 284.9,81.3 273.7,82.9" fill="rgb(251,116,0)" stroke="rgb(38,17,0)" stroke-width="0.6" stroke-linejoin="round"/>
<polygon points="351.8,93.3 363,91.1 351.8,86.6 340.7,88.8" fill="rgb(253,150,0)" stroke="rgb(38,22,0)" stroke-width="0.6" stroke-linejoin="round"/>
<polygon points="440.7,104.3 451.8,101.3 440.8,95.5 429.7,98.6" fill="rgb(245,209,0)" stroke="rgb(37,31,0)" stroke-width="0.6" stroke-linejoin="round"/>
<polygon points="484.9,110.7 496,107.2 485.1,100.8 474,104.2" fill="rgb(240,245,0)" stroke="rgb(36,37,0)" stroke-width="0.6" stroke-linejoin="round"/>
<polygon points="139.4,76.6 150.7,76.4 139.5,74.9 128.3,75.2" fill="rgb(240,68,0)" stroke="rgb(36,10,0)" stroke-width="0.6" stroke-linejoin="round"/>
<polygon points="161.8,78.1 173,77.7 161.9,75.9 150.7,76.4" fill="rgb(241,72,0)" stroke="rgb(36,11,0)" stroke-width="0.6" stroke-linejoin="round"/>
<polygon points="184.2,79.8 195.4,79.1 184.3,77 173,77.7" fill="rgb(242,77,0)" stroke="rgb(36,12,0)" stroke-width="0.6" stroke-linejoin="round"/>
<polygon points="206.6,81.6 217.8,80.7 206.6,78.3 195.4,79.1" fill="rgb(244,83,0)" stroke="rgb(37,12,0)" stroke-width="0.6" stroke-linejoin="round"/>
<polygon points="229,83.5 240.2,82.5 229,79.7 217.8,80.7" fill="rgb(245,91,0)" stroke="rgb(37,14,0)" stroke-width="0.6" stroke-linejoin="round"/>
<polygon points="251.4,85.6 262.5,84.4 251.4,81.3 240.2,82.5" fill="rgb(247,99,0)" stroke="rgb(37,15,0)" stroke-width="0.6" stroke-linejoin="round"/>
<polygon points="273.7,87.8 284.9,86.4 273.7,82.9 262.5,84.4" fill="rgb(249,109,0)" stroke="rgb(37,16,0)" stroke-width="0.6" stroke-linejoin="round"/>
<polygon points="296.1,90.1 307.2,88.5 296.1,84.8 284.9,86.4" fill="rgb(252,120,0)" stroke="rgb(38,18,0)" stroke-width="0.6" stroke-linejoin="round"/>
<polygon points="318.4,92.6 329.5,90.8 318.4,86.7 307.2,88.5" fill="rgb(254,132,0)" stroke="rgb(38,20,0)" stroke-width="0.6" stroke-linejoin="round"/>
<polygon points="340.7,95.3 351.8,93.3 340.7,88.8 329.5,90.8" fill="rgb(254,145,0)" stroke="rgb(38,22,0)" stroke-width="0.6" stroke-linejoin="round"/>
<polygon points="363,98.1 374.1,95.8 363,91.1 351.8,93.3" fill="rgb(252,159,0)" stroke="rgb(38,24,0)" stroke-width="0.6" stroke-linejoin="round"/>
<polygon points="385.2,101 396.3,98.5 385.2,93.4 374.1,95.8" fill="rgb(250,174,0)" stroke="rgb(37,26,0)" stroke-width="0.6" stroke-linejoin="round"/>
<polygon points="407.4,104 418.5,101.4 407.5,95.9 396.3,98.5" fill="rgb(247,190,0)" stroke="rgb(37,29,0)" stroke-width="0.6" stroke-linejoin="round"/>
<polygon points="429.6,107.2 440.7,104.3 429.7,98.6 418.5,101.4" fill="rgb(245,207,0)" stroke="rgb(37,31,0)" stroke-width="0.6" stroke-linejoin="round"/>
<polygon points="451.8,110.5 462.9,107.5 451.8,101.3 440.7,104.3" fill="rgb(243,226,0)" stroke="rgb(36,34,0)" stroke-width="0.6" stroke-linejoin="round"/>
<polygon points="473.9,113.9 484.9,110.7 474,104.2 462.9,107.5" fill="rgb(240,245,0)" stroke="rgb(36,37,0)" stroke-width="0.6" stroke-linejoin="round"/>
<polygon points="495.9,117.5 507,114 496,107.2 484.9,110.7" fill="rgb(224,246,0)" stroke="rgb(34,37,0)" stroke-width="0.6" stroke-linejoin="round"/>
<polygon points="517.9,121.2 529,117.5 518.1,110.4 507,114" fill="rgb(208,247,0)" stroke="rgb(31,37,0)" stroke-width="0.6" stroke-linejoin="round"/>
<polygon points="128.1,76.6 139.4,76.6 128.3,75.2 117,75.2" fill="rgb(237,54,0)" stroke="rgb(36,8,0)" stroke-width="0.6" stroke-linejoin="round"/>
<polygon points="217.8,84.3 229,83.5 217.8,80.7 206.6,81.6" fill="rgb(243,80,0)" stroke="rgb(36,12,0)" stroke-width="0.6" stroke-linejoin="round"/>
<polygon points="262.5,89 273.7,87.8 262.5,84.4 251.4,85.6" fill="rgb(247,100,0)" stroke="rgb(37,15,0)" stroke-width="0.6" stroke-linejoin="round"/>
<polygon points="440.7,113.3 451.8,110.5 440.7,104.3 429.6,107.2" fill="rgb(243,224,0)" stroke="rgb(36,34,0)" stroke-width="0.6" stroke-linejoin="round"/>
<polygon points="150.5,78.3 161.8,78.1 150.7,76.4 139.4,76.6" fill="rgb(238,59,0)" stroke="rgb(36,9,0)" stroke-width="0.6" stroke-linejoin="round"/>
<polygon points="172.9,80.2 184.2,79.8 173,77.7 161.8,78.1" fill="rgb(240,65,0)" stroke="rgb(36,10,0)" stroke-width="0.6" stroke-linejoin="round"/>
<polygon points="195.4,82.2 206.6,81.6 195.4,79.1 184.2,79.8" fill="rgb(241,72,0)" stroke="rgb(36,11,0)" stroke-width="0.6" stroke-linejoin="round"/>
<polygon points="240.2,86.6 251.4,85.6 240.2,82.5 229,83.5" fill="rgb(245,90,0)" stroke="rgb(37,13,0)" stroke-width="0.6" stroke-linejoin="round"/>
<polygon points="284.9,91.5 296.1,90.1 284.9,86.4 273.7,87.8" fill="rgb(250,112,0)" stroke="rgb(38,17,0)" stroke-width="0.6" stroke-linejoin="round"/>
<polygon points="307.2,94.2 318.4,92.6 307.2,88.5 296.1,90.1" fill="rgb(253,125,0)" stroke="rgb(38,19,0)" stroke-width="0.6" stroke-linejoin="round"/>
<polygon points="329.6,97.1 340.7,95.3 329.5,90.8 318.4,92.6" fill="rgb(254,139,0)" stroke="rgb(38,21,0)" stroke-width="0.6" stroke-linejoin="round"/>
<polygon points="351.8,100.1 363,98.1 351.8,93.3 340.7,95.3" fill="rgb(252,154,0)" stroke="rgb(38,23,0)" stroke-width="0.6" stroke-linejoin="round"/>
<polygon points="374.1,103.2 385.2,101 374.1,95.8 363,98.1" fill="rgb(250,170,0)" stroke="rgb(38,26,0)" stroke-width="0.6" stroke-linejoin="round"/>
<polygon points="396.3,106.4 407.4,104 396.3,98.5 385.2,101" fill="rgb(248,187,0)" stroke="rgb(37,28,0)" stroke-width="0.6" stroke-linejoin="round"/>
<polygon points="418.5,109.8 429.6,107.2 418.5,101.4 407.4,104" fill="rgb(245,205,0)" stroke="rgb(37,31,0)" stroke-width="0.6" stroke-linejoin="round"/>
<polygon points="462.8,117 473.9,113.9 462.9,107.5 451.8,110.5" fill="rgb(240,245,0)" stroke="rgb(36,37,0)" stroke-width="0.6" stroke-linejoin="round"/>
<polygon points="484.8,120.8 495.9,117.5 484.9,110.7 473.9,113.9" fill="rgb(224,246,0)" stroke="rgb(34,37,0)" stroke-width="0.6" stroke-linejoin="round"/>
<polygon points="506.8,124.7 517.9,121.2 507,114 495.9,117.5" fill="rgb(207,247,0)" stroke="rgb(31,37,0)" stroke-width="0.6" stroke-linejoin="round"/>
<polygon points="528.8,128.7 539.9,125 529,117.5 517.9,121.2" fill="rgb(190,248,0)" stroke="rgb(28,37,0)" stroke-width="0.6" stroke-linejoin="round"/>
<polygon points="184.1,82.5 195.4,82.2 184.2,79.8 172.9,80.2" fill="rgb(239,60,0)" stroke="rgb(36,9,0)" stroke-width="0.6" stroke-linejoin="round"/>
<polygon points="273.7,92.7 284.9,91.5 273.7,87.8 262.5,89" fill="rgb(248,104,0)" stroke="rgb(37,16,0)" stroke-width="0.6" stroke-linejoin="round"/>
<polygon points="363,105.2 374.1,103.2 363,98.1 351.8,100.1" fill="rgb(251,165,0)" stroke="rgb(38,25,0)" stroke-width="0.6" stroke-linejoin="round"/>
<polygon points="429.6,116 440.7,113.3 429.6,107.2 418.5,109.8" fill="rgb(243,222,0)" stroke="rgb(36,33,0)" stroke-width="0.6" stroke-linejoin="round"/>
<polygon points="451.7,119.8 462.8,117 451.8,110.5 440.7,113.3" fill="rgb(240,243,0)" stroke="rgb(36,36,0)" stroke-width="0.6" stroke-linejoin="round"/>
<polygon points="539.6,136.6 550.7,132.9 539.9,125 528.8,128.7" fill="rgb(170,249,0)" stroke="rgb(26,37,0)" stroke-width="0.6" stroke-linejoin="round"/>
<polygon points="116.8,76.4 128.1,76.6 117,75.2 105.7,75.1" fill="rgb(234,39,0)" stroke="rgb(35,6,0)" stroke-width="0.6" stroke-linejoin="round"/>
<polygon points="139.2,78.3 150.5,78.3 139.4,76.6 128.1,76.6" fill="rgb(235,45,0)" stroke="rgb(35,7,0)" stroke-width="0.6" stroke-linejoin="round"/>
<polygon points="161.7,80.4 172.9,80.2 161.8,78.1 150.5,78.3" fill="rgb(237,52,0)" stroke="rgb(36,8,0)" stroke-width="0.6" stroke-linejoin="round"/>
<polygon points="206.5,84.9 217.8,84.3 206.6,81.6 195.4,82.2" fill="rgb(241,69,0)" stroke="rgb(36,10,0)" stroke-width="0.6" stroke-linejoin="round"/>
<polygon points="229,87.3 240.2,86.6 229,83.5 217.8,84.3" fill="rgb(243,79,0)" stroke="rgb(36,12,0)" stroke-width="0.6" stroke-linejoin="round"/>
<polygon points="251.4,90 262.5,89 251.4,85.6 240.2,86.6" fill="rgb(245,91,0)" stroke="rgb(37,14,0)" stroke-width="0.6" stroke-linejoin="round"/>
<polygon points="296.1,95.6 307.2,94.2 296.1,90.1 284.9,91.5" fill="rgb(251,118,0)" stroke="rgb(38,18,0)" stroke-width="0.6" stroke-linejoin="round"/>
<polygon points="318.4,98.7 329.6,97.1 318.4,92.6 307.2,94.2" fill="rgb(254,133,0)" stroke="rgb(38,20,0)" stroke-width="0.6" stroke-linejoin="round"/>
<polygon points="340.7,101.9 351.8,100.1 340.7,95.3 329.6,97.1" fill="rgb(253,148,0)" stroke="rgb(38,22,0)" stroke-width="0.6" stroke-linejoin="round"/>
<polygon points="385.2,108.6 396.3,106.4 385.2,101 374.1,103.2" fill="rgb(248,183,0)" stroke="rgb(37,27,0)" stroke-width="0.6" stroke-linejoin="round"/>
<polygon points="407.4,112.2 418.5,109.8 407.4,104 396.3,106.4" fill="rgb(246,202,0)" stroke="rgb(37,30,0)" stroke-width="0.6" stroke-linejoin="round"/>
<polygon points="473.7,123.8 484.8,120.8 473.9,113.9 462.8,117" fill="rgb(225,246,0)" stroke="rgb(34,37,0)" stroke-width="0.6" stroke-linejoin="round"/>
<polygon points="495.8,128 506.8,124.7 495.9,117.5 484.8,120.8" fill="rgb(208,247,0)" stroke="rgb(31,37,0)" stroke-width="0.6" stroke-linejoin="round"/>
<polygon points="517.7,132.2 528.8,128.7 517.9,121.2 506.8,124.7" fill="rgb(189,248,0)" stroke="rgb(28,37,0)" stroke-width="0.6" stroke-linejoin="round"/>
<polygon points="105.5,76 116.8,76.4 105.7,75.1 94.3,74.7" fill="rgb(231,24,0)" stroke="rgb(35,4,0)" stroke-width="0.6" stroke-linejoin="round"/>
<polygon points="172.8,82.7 184.1,82.5 172.9,80.2 161.7,80.4" fill="rgb(236,47,0)" stroke="rgb(35,7,0)" stroke-width="0.6" stroke-linejoin="round"/>
<polygon points="195.3,85.2 206.5,84.9 195.4,82.2 184.1,82.5" fill="rgb(238,57,0)" stroke="rgb(36,8,0)" stroke-width="0.6" stroke-linejoin="round"/>
<polygon points="262.5,93.7 273.7,92.7 262.5,89 251.4,90" fill="rgb(246,94,0)" stroke="rgb(37,14,0)" stroke-width="0.6" stroke-linejoin="round"/>
<polygon points="284.9,96.8 296.1,95.6 284.9,91.5 273.7,92.7" fill="rgb(249,109,0)" stroke="rgb(37,16,0)" stroke-width="0.6" stroke-linejoin="round"/>
<polygon points="351.9,107 363,105.2 351.8,100.1 340.7,101.9" fill="rgb(252,159,0)" stroke="rgb(38,24,0)" stroke-width="0.6" stroke-linejoin="round"/>
<polygon points="374.1,110.6 385.2,108.6 374.1,103.2 363,105.2" fill="rgb(249,177,0)" stroke="rgb(37,27,0)" stroke-width="0.6" stroke-linejoin="round"/>
<polygon points="440.6,122.5 451.7,119.8 440.7,113.3 429.6,116" fill="rgb(241,240,0)" stroke="rgb(36,36,0)" stroke-width="0.6" stroke-linejoin="round"/>
<polygon points="462.7,126.7 473.7,123.8 462.8,117 451.7,119.8" fill="rgb(226,246,0)" stroke="rgb(34,37,0)" stroke-width="0.6" stroke-linejoin="round"/>
<polygon points="506.7,135.5 517.7,132.2 506.8,124.7 495.8,128" fill="rgb(190,248,0)" stroke="rgb(28,37,0)" stroke-width="0.6" stroke-linejoin="round"/>
<polygon points="528.6,140.2 539.6,136.6 528.8,128.7 517.7,132.2" fill="rgb(170,249,0)" stroke="rgb(25,37,0)" stroke-width="0.6" stroke-linejoin="round"/>
<polygon points="550.4,144.9 561.5,141.1 550.7,132.9 539.6,136.6" fill="rgb(149,250,0)" stroke="rgb(22,37,0)" stroke-width="0.6" stroke-linejoin="round"/>
<polygon points="127.9,78.1 139.2,78.3 128.1,76.6 116.8,76.4" fill="rgb(232,30,0)" stroke="rgb(35,5,0)" stroke-width="0.6" stroke-linejoin="round"/>
<polygon points="150.4,80.3 161.7,80.4 150.5,78.3 139.2,78.3" fill="rgb(234,38,0)" stroke="rgb(35,6,0)" stroke-width="0.6" stroke-linejoin="round"/>
<polygon points="217.7,87.9 229,87.3 217.8,84.3 206.5,84.9" fill="rgb(240,68,0)" stroke="rgb(36,10,0)" stroke-width="0.6" stroke-linejoin="round"/>
<polygon points="240.1,90.7 251.4,90 240.2,86.6 229,87.3" fill="rgb(243,80,0)" stroke="rgb(36,12,0)" stroke-width="0.6" stroke-linejoin="round"/>
<polygon points="307.3,100 318.4,98.7 307.2,94.2 296.1,95.6" fill="rgb(253,124,0)" stroke="rgb(38,19,0)" stroke-width="0.6" stroke-linejoin="round"/>
<polygon points="329.6,103.4 340.7,101.9 329.6,97.1 318.4,98.7" fill="rgb(254,141,0)" stroke="rgb(38,21,0)" stroke-width="0.6" stroke-linejoin="round"/>
<polygon points="396.3,114.5 407.4,112.2 396.3,106.4 385.2,108.6" fill="rgb(247,197,0)" stroke="rgb(37,30,0)" stroke-width="0.6" stroke-linejoin="round"/>
<polygon points="418.5,118.4 429.6,116 418.5,109.8 407.4,112.2" fill="rgb(244,218,0)" stroke="rgb(37,33,0)" stroke-width="0.6" stroke-linejoin="round"/>
<polygon points="484.7,131.1 495.8,128 484.8,120.8 473.7,123.8" fill="rgb(208,247,0)" stroke="rgb(31,37,0)" stroke-width="0.6" stroke-linejoin="round"/>
<polygon points="116.6,77.6 127.9,78.1 116.8,76.4 105.5,76" fill="rgb(230,20,0)" stroke="rgb(34,3,0)" stroke-width="0.6" stroke-linejoin="round"/>
<polygon points="139.1,80.1 150.4,80.3 139.2,78.3 127.9,78.1" fill="rgb(231,22,0)" stroke="rgb(35,3,0)" stroke-width="0.6" stroke-linejoin="round"/>
<polygon points="161.6,82.6 172.8,82.7 161.7,80.4 150.4,80.3" fill="rgb(233,32,0)" stroke="rgb(35,5,0)" stroke-width="0.6" stroke-linejoin="round"/>
<polygon points="184,85.4 195.3,85.2 184.1,82.5 172.8,82.7" fill="rgb(235,43,0)" stroke="rgb(35,6,0)" stroke-width="0.6" stroke-linejoin="round"/>
<polygon points="206.5,88.2 217.7,87.9 206.5,84.9 195.3,85.2" fill="rgb(238,55,0)" stroke="rgb(36,8,0)" stroke-width="0.6" stroke-linejoin="round"/>
<polygon points="251.3,94.4 262.5,93.7 251.4,90 240.1,90.7" fill="rgb(244,83,0)" stroke="rgb(37,12,0)" stroke-width="0.6" stroke-linejoin="round"/>
<polygon points="273.7,97.7 284.9,96.8 273.7,92.7 262.5,93.7" fill="rgb(247,98,0)" stroke="rgb(37,15,0)" stroke-width="0.6" stroke-linejoin="round"/>
<polygon points="296.1,101.2 307.3,100 296.1,95.6 284.9,96.8" fill="rgb(251,115,0)" stroke="rgb(38,17,0)" stroke-width="0.6" stroke-linejoin="round"/>
<polygon points="318.4,104.8 329.6,103.4 318.4,98.7 307.3,100" fill="rgb(255,133,0)" stroke="rgb(38,20,0)" stroke-width="0.6" stroke-linejoin="round"/>
<polygon points="340.7,108.5 351.9,107 340.7,101.9 329.6,103.4" fill="rgb(253,152,0)" stroke="rgb(38,23,0)" stroke-width="0.6" stroke-linejoin="round"/>
<polygon points="363,112.4 374.1,110.6 363,105.2 351.9,107" fill="rgb(250,171,0)" stroke="rgb(38,26,0)" stroke-width="0.6" stroke-linejoin="round"/>
<polygon points="385.2,116.5 396.3,114.5 385.2,108.6 374.1,110.6" fill="rgb(247,192,0)" stroke="rgb(37,29,0)" stroke-width="0.6" stroke-linejoin="round"/>
<polygon points="429.5,124.9 440.6,122.5 429.6,116 418.5,118.4" fill="rgb(241,236,0)" stroke="rgb(36,35,0)" stroke-width="0.6" stroke-linejoin="round"/>
<polygon points="451.6,129.4 462.7,126.7 451.7,119.8 440.6,122.5" fill="rgb(229,246,0)" stroke="rgb(34,37,0)" stroke-width="0.6" stroke-linejoin="round"/>
<polygon points="473.6,133.9 484.7,131.1 473.7,123.8 462.7,126.7" fill="rgb(210,247,0)" stroke="rgb(32,37,0)" stroke-width="0.6" stroke-linejoin="round"/>
<polygon points="495.6,138.6 506.7,135.5 495.8,128 484.7,131.1" fill="rgb(191,248,0)" stroke="rgb(29,37,0)" stroke-width="0.6" stroke-linejoin="round"/>
<polygon points="517.5,143.5 528.6,140.2 517.7,132.2 506.7,135.5" fill="rgb(170,249,0)" stroke="rgb(26,37,0)" stroke-width="0.6" stroke-linejoin="round"/>
<polygon points="539.4,148.4 550.4,144.9 539.6,136.6 528.6,140.2" fill="rgb(149,250,0)" stroke="rgb(22,37,0)" stroke-width="0.6" stroke-linejoin="round"/>
<polygon points="228.9,91.3 240.1,90.7 229,87.3 217.7,87.9" fill="rgb(241,68,0)" stroke="rgb(36,10,0)" stroke-width="0.6" stroke-linejoin="round"/>
<polygon points="407.4,120.6 418.5,118.4 407.4,112.2 396.3,114.5" fill="rgb(244,213,0)" stroke="rgb(37,32,0)" stroke-width="0.6" stroke-linejoin="round"/>
<polygon points="172.8,85.3 184,85.4 172.8,82.7 161.6,82.6" fill="rgb(232,28,0)" stroke="rgb(35,4,0)" stroke-width="0.6" stroke-linejoin="round"/>
<polygon points="262.5,98.5 273.7,97.7 262.5,93.7 251.3,94.4" fill="rgb(245,87,0)" stroke="rgb(37,13,0)" stroke-width="0.6" stroke-linejoin="round"/>
<polygon points="351.9,114 363,112.4 351.9,107 340.7,108.5" fill="rgb(251,164,0)" stroke="rgb(38,25,0)" stroke-width="0.6" stroke-linejoin="round"/>
<polygon points="396.3,122.6 407.4,120.6 396.3,114.5 385.2,116.5" fill="rgb(245,208,0)" stroke="rgb(37,31,0)" stroke-width="0.6" stroke-linejoin="round"/>
<polygon points="440.5,131.8 451.6,129.4 440.6,122.5 429.5,124.9" fill="rgb(232,245,0)" stroke="rgb(35,37,0)" stroke-width="0.6" stroke-linejoin="round"/>
<polygon points="528.4,151.8 539.4,148.4 528.6,140.2 517.5,143.5" fill="rgb(150,250,0)" stroke="rgb(22,37,0)" stroke-width="0.6" stroke-linejoin="round"/>
<polygon points="127.8,79.6 139.1,80.1 127.9,78.1 116.6,77.6" fill="rgb(230,20,0)" stroke="rgb(34,3,0)" stroke-width="0.6" stroke-linejoin="round"/>
<polygon points="150.3,82.3 161.6,82.6 150.4,80.3 139.1,80.1" fill="rgb(230,20,0)" stroke="rgb(34,3,0)" stroke-width="0.6" stroke-linejoin="round"/>
<polygon points="195.2,88.3 206.5,88.2 195.3,85.2 184,85.4" fill="rgb(235,41,0)" stroke="rgb(35,6,0)" stroke-width="0.6" stroke-linejoin="round"/>
<polygon points="217.7,91.6 228.9,91.3 217.7,87.9 206.5,88.2" fill="rgb(238,56,0)" stroke="rgb(36,8,0)" stroke-width="0.6" stroke-linejoin="round"/>
<polygon points="240.1,94.9 251.3,94.4 240.1,90.7 228.9,91.3" fill="rgb(241,71,0)" stroke="rgb(36,11,0)" stroke-width="0.6" stroke-linejoin="round"/>
<polygon points="284.9,102.1 296.1,101.2 284.9,96.8 273.7,97.7" fill="rgb(248,105,0)" stroke="rgb(37,16,0)" stroke-width="0.6" stroke-linejoin="round"/>
<polygon points="307.3,105.9 318.4,104.8 307.3,100 296.1,101.2" fill="rgb(253,124,0)" stroke="rgb(38,19,0)" stroke-width="0.6" stroke-linejoin="round"/>
<polygon points="329.6,109.9 340.7,108.5 329.6,103.4 318.4,104.8" fill="rgb(254,143,0)" stroke="rgb(38,22,0)" stroke-width="0.6" stroke-linejoin="round"/>
<polygon points="374.1,118.2 385.2,116.5 374.1,110.6 363,112.4" fill="rgb(248,185,0)" stroke="rgb(37,28,0)" stroke-width="0.6" stroke-linejoin="round"/>
<polygon points="418.4,127.2 429.5,124.9 418.5,118.4 407.4,120.6" fill="rgb(242,231,0)" stroke="rgb(36,35,0)" stroke-width="0.6" stroke-linejoin="round"/>
<polygon points="462.6,136.6 473.6,133.9 462.7,126.7 451.6,129.4" fill="rgb(212,247,0)" stroke="rgb(32,37,0)" stroke-width="0.6" stroke-linejoin="round"/>
<polygon points="484.6,141.5 495.6,138.6 484.7,131.1 473.6,133.9" fill="rgb(192,248,0)" stroke="rgb(29,37,0)" stroke-width="0.6" stroke-linejoin="round"/>
<polygon points="506.5,146.6 517.5,143.5 506.7,135.5 495.6,138.6" fill="rgb(171,249,0)" stroke="rgb(26,37,0)" stroke-width="0.6" stroke-linejoin="round"/>
<polygon points="138.9,81.8 150.3,82.3 139.1,80.1 127.8,79.6" fill="rgb(230,20,0)" stroke="rgb(34,3,0)" stroke-width="0.6" stroke-linejoin="round"/>
<polygon points="228.9,95.2 240.1,94.9 228.9,91.3 217.7,91.6" fill="rgb(238,58,0)" stroke="rgb(36,9,0)" stroke-width="0.6" stroke-linejoin="round"/>
<polygon points="318.4,111 329.6,109.9 318.4,104.8 307.3,105.9" fill="rgb(255,134,0)" stroke="rgb(38,20,0)" stroke-width="0.6" stroke-linejoin="round"/>
<polygon points="407.4,129.2 418.4,127.2 407.4,120.6 396.3,122.6" fill="rgb(243,225,0)" stroke="rgb(36,34,0)" stroke-width="0.6" stroke-linejoin="round"/>
<polygon points="495.5,149.5 506.5,146.6 495.6,138.6 484.6,141.5" fill="rgb(174,249,0)" stroke="rgb(26,37,0)" stroke-width="0.6" stroke-linejoin="round"/>
<polygon points="161.5,84.9 172.8,85.3 161.6,82.6 150.3,82.3" fill="rgb(230,20,0)" stroke="rgb(34,3,0)" stroke-width="0.6" stroke-linejoin="round"/>
<polygon points="184,88.2 195.2,88.3 184,85.4 172.8,85.3" fill="rgb(231,27,0)" stroke="rgb(35,4,0)" stroke-width="0.6" stroke-linejoin="round"/>
<polygon points="206.4,91.6 217.7,91.6 206.5,88.2 195.2,88.3" fill="rgb(235,41,0)" stroke="rgb(35,6,0)" stroke-width="0.6" stroke-linejoin="round"/>
<polygon points="251.3,99 262.5,98.5 251.3,94.4 240.1,94.9" fill="rgb(242,75,0)" stroke="rgb(36,11,0)" stroke-width="0.6" stroke-linejoin="round"/>
<polygon points="273.7,102.8 284.9,102.1 273.7,97.7 262.5,98.5" fill="rgb(246,94,0)" stroke="rgb(37,14,0)" stroke-width="0.6" stroke-linejoin="round"/>
<polygon points="340.7,115.4 351.9,114 340.7,108.5 329.6,109.9" fill="rgb(252,155,0)" stroke="rgb(38,23,0)" stroke-width="0.6" stroke-linejoin="round"/>
<polygon points="363,119.8 374.1,118.2 363,112.4 351.9,114" fill="rgb(249,177,0)" stroke="rgb(37,27,0)" stroke-width="0.6" stroke-linejoin="round"/>
<polygon points="385.2,124.4 396.3,122.6 385.2,116.5 374.1,118.2" fill="rgb(246,201,0)" stroke="rgb(37,30,0)" stroke-width="0.6" stroke-linejoin="round"/>
<polygon points="429.5,134.1 440.5,131.8 429.5,124.9 418.4,127.2" fill="rgb(236,245,0)" stroke="rgb(35,37,0)" stroke-width="0.6" stroke-linejoin="round"/>
<polygon points="451.5,139.1 462.6,136.6 451.6,129.4 440.5,131.8" fill="rgb(216,246,0)" stroke="rgb(32,37,0)" stroke-width="0.6" stroke-linejoin="round"/>
<polygon points="517.4,154.9 528.4,151.8 517.5,143.5 506.5,146.6" fill="rgb(151,250,0)" stroke="rgb(23,37,0)" stroke-width="0.6" stroke-linejoin="round"/>
<polygon points="296.1,106.9 307.3,105.9 296.1,101.2 284.9,102.1" fill="rgb(250,113,0)" stroke="rgb(38,17,0)" stroke-width="0.6" stroke-linejoin="round"/>
<polygon points="473.5,144.2 484.6,141.5 473.6,133.9 462.6,136.6" fill="rgb(195,247,0)" stroke="rgb(29,37,0)" stroke-width="0.6" stroke-linejoin="round"/>
<polygon points="150.1,84.4 161.5,84.9 150.3,82.3 138.9,81.8" fill="rgb(230,20,0)" stroke="rgb(34,3,0)" stroke-width="0.6" stroke-linejoin="round"/>
<polygon points="217.7,95.3 228.9,95.2 217.7,91.6 206.4,91.6" fill="rgb(235,43,0)" stroke="rgb(35,7,0)" stroke-width="0.6" stroke-linejoin="round"/>
<polygon points="240.1,99.2 251.3,99 240.1,94.9 228.9,95.2" fill="rgb(239,62,0)" stroke="rgb(36,9,0)" stroke-width="0.6" stroke-linejoin="round"/>
<polygon points="284.9,107.6 296.1,106.9 284.9,102.1 273.7,102.8" fill="rgb(248,102,0)" stroke="rgb(37,15,0)" stroke-width="0.6" stroke-linejoin="round"/>
<polygon points="307.3,112 318.4,111 307.3,105.9 296.1,106.9" fill="rgb(252,123,0)" stroke="rgb(38,18,0)" stroke-width="0.6" stroke-linejoin="round"/>
<polygon points="329.6,116.5 340.7,115.4 329.6,109.9 318.4,111" fill="rgb(254,146,0)" stroke="rgb(38,22,0)" stroke-width="0.6" stroke-linejoin="round"/>
<polygon points="396.3,131 407.4,129.2 396.3,122.6 385.2,124.4" fill="rgb(244,218,0)" stroke="rgb(37,33,0)" stroke-width="0.6" stroke-linejoin="round"/>
<polygon points="418.4,136.1 429.5,134.1 418.4,127.2 407.4,129.2" fill="rgb(240,245,0)" stroke="rgb(36,37,0)" stroke-width="0.6" stroke-linejoin="round"/>
<polygon points="462.5,146.7 473.5,144.2 462.6,136.6 451.5,139.1" fill="rgb(198,247,0)" stroke="rgb(30,37,0)" stroke-width="0.6" stroke-linejoin="round"/>
<polygon points="484.5,152.2 495.5,149.5 484.6,141.5 473.5,144.2" fill="rgb(176,249,0)" stroke="rgb(26,37,0)" stroke-width="0.6" stroke-linejoin="round"/>
<polygon points="506.3,157.9 517.4,154.9 506.5,146.6 495.5,149.5" fill="rgb(153,250,0)" stroke="rgb(23,37,0)" stroke-width="0.6" stroke-linejoin="round"/>
<polygon points="172.7,87.9 184,88.2 172.8,85.3 161.5,84.9" fill="rgb(230,20,0)" stroke="rgb(34,3,0)" stroke-width="0.6" stroke-linejoin="round"/>
<polygon points="195.2,91.5 206.4,91.6 195.2,88.3 184,88.2" fill="rgb(231,26,0)" stroke="rgb(35,4,0)" stroke-width="0.6" stroke-linejoin="round"/>
<polygon points="262.5,103.3 273.7,102.8 262.5,98.5 251.3,99" fill="rgb(243,81,0)" stroke="rgb(36,12,0)" stroke-width="0.6" stroke-linejoin="round"/>
<polygon points="351.9,121.2 363,119.8 351.9,114 340.7,115.4" fill="rgb(250,169,0)" stroke="rgb(38,25,0)" stroke-width="0.6" stroke-linejoin="round"/>
<polygon points="374.1,126 385.2,124.4 374.1,118.2 363,119.8" fill="rgb(247,193,0)" stroke="rgb(37,29,0)" stroke-width="0.6" stroke-linejoin="round"/>
<polygon points="440.5,141.3 451.5,139.1 440.5,131.8 429.5,134.1" fill="rgb(220,246,0)" stroke="rgb(33,37,0)" stroke-width="0.6" stroke-linejoin="round"/>
<polygon points="161.3,87.3 172.7,87.9 161.5,84.9 150.1,84.4" fill="rgb(230,20,0)" stroke="rgb(34,3,0)" stroke-width="0.6" stroke-linejoin="round"/>
<polygon points="183.9,91.1 195.2,91.5 184,88.2 172.7,87.9" fill="rgb(230,20,0)" stroke="rgb(34,3,0)" stroke-width="0.6" stroke-linejoin="round"/>
<polygon points="206.4,95.1 217.7,95.3 206.4,91.6 195.2,91.5" fill="rgb(232,28,0)" stroke="rgb(35,4,0)" stroke-width="0.6" stroke-linejoin="round"/>
<polygon points="228.9,99.3 240.1,99.2 228.9,95.2 217.7,95.3" fill="rgb(236,47,0)" stroke="rgb(35,7,0)" stroke-width="0.6" stroke-linejoin="round"/>
<polygon points="251.3,103.6 262.5,103.3 251.3,99 240.1,99.2" fill="rgb(240,67,0)" stroke="rgb(36,10,0)" stroke-width="0.6" stroke-linejoin="round"/>
<polygon points="273.7,108 284.9,107.6 273.7,102.8 262.5,103.3" fill="rgb(245,89,0)" stroke="rgb(37,13,0)" stroke-width="0.6" stroke-linejoin="round"/>
<polygon points="296.1,112.6 307.3,112 296.1,106.9 284.9,107.6" fill="rgb(250,111,0)" stroke="rgb(37,17,0)" stroke-width="0.6" stroke-linejoin="round"/>
<polygon points="318.5,117.4 329.6,116.5 318.4,111 307.3,112" fill="rgb(255,135,0)" stroke="rgb(38,20,0)" stroke-width="0.6" stroke-linejoin="round"/>
<polygon points="340.8,122.3 351.9,121.2 340.7,115.4 329.6,116.5" fill="rgb(252,159,0)" stroke="rgb(38,24,0)" stroke-width="0.6" stroke-linejoin="round"/>
<polygon points="385.2,132.5 396.3,131 385.2,124.4 374.1,126" fill="rgb(245,210,0)" stroke="rgb(37,32,0)" stroke-width="0.6" stroke-linejoin="round"/>
<polygon points="407.3,137.9 418.4,136.1 407.4,129.2 396.3,131" fill="rgb(241,237,0)" stroke="rgb(36,36,0)" stroke-width="0.6" stroke-linejoin="round"/>
<polygon points="429.4,143.4 440.5,141.3 429.5,134.1 418.4,136.1" fill="rgb(225,246,0)" stroke="rgb(34,37,0)" stroke-width="0.6" stroke-linejoin="round"/>
<polygon points="451.5,149 462.5,146.7 451.5,139.1 440.5,141.3" fill="rgb(203,247,0)" stroke="rgb(30,37,0)" stroke-width="0.6" stroke-linejoin="round"/>
<polygon points="473.4,154.7 484.5,152.2 473.5,144.2 462.5,146.7" fill="rgb(180,248,0)" stroke="rgb(27,37,0)" stroke-width="0.6" stroke-linejoin="round"/>
<polygon points="495.3,160.6 506.3,157.9 495.5,149.5 484.5,152.2" fill="rgb(156,250,0)" stroke="rgb(23,37,0)" stroke-width="0.6" stroke-linejoin="round"/>
<polygon points="363,127.3 374.1,126 363,119.8 351.9,121.2" fill="rgb(248,184,0)" stroke="rgb(37,28,0)" stroke-width="0.6" stroke-linejoin="round"/>
<polygon points="217.6,99.1 228.9,99.3 217.7,95.3 206.4,95.1" fill="rgb(232,31,0)" stroke="rgb(35,5,0)" stroke-width="0.6" stroke-linejoin="round"/>
<polygon points="307.3,118.1 318.5,117.4 307.3,112 296.1,112.6" fill="rgb(252,123,0)" stroke="rgb(38,18,0)" stroke-width="0.6" stroke-linejoin="round"/>
<polygon points="351.9,128.5 363,127.3 351.9,121.2 340.8,122.3" fill="rgb(250,174,0)" stroke="rgb(37,26,0)" stroke-width="0.6" stroke-linejoin="round"/>
<polygon points="484.3,163.1 495.3,160.6 484.5,152.2 473.4,154.7" fill="rgb(160,249,0)" stroke="rgb(24,37,0)" stroke-width="0.6" stroke-linejoin="round"/>
<polygon points="172.6,90.5 183.9,91.1 172.7,87.9 161.3,87.3" fill="rgb(230,20,0)" stroke="rgb(34,3,0)" stroke-width="0.6" stroke-linejoin="round"/>
<polygon points="195.1,94.7 206.4,95.1 195.2,91.5 183.9,91.1" fill="rgb(230,20,0)" stroke="rgb(34,3,0)" stroke-width="0.6" stroke-linejoin="round"/>
<polygon points="240.1,103.6 251.3,103.6 240.1,99.2 228.9,99.3" fill="rgb(237,53,0)" stroke="rgb(36,8,0)" stroke-width="0.6" stroke-linejoin="round"/>
<polygon points="262.5,108.3 273.7,108 262.5,103.3 251.3,103.6" fill="rgb(242,75,0)" stroke="rgb(36,11,0)" stroke-width="0.6" stroke-linejoin="round"/>
<polygon points="284.9,113.1 296.1,112.6 284.9,107.6 273.7,108" fill="rgb(247,98,0)" stroke="rgb(37,15,0)" stroke-width="0.6" stroke-linejoin="round"/>
<polygon points="329.6,123.2 340.8,122.3 329.6,116.5 318.5,117.4" fill="rgb(253,148,0)" stroke="rgb(38,22,0)" stroke-width="0.6" stroke-linejoin="round"/>
<polygon points="374.1,133.9 385.2,132.5 374.1,126 363,127.3" fill="rgb(246,201,0)" stroke="rgb(37,30,0)" stroke-width="0.6" stroke-linejoin="round"/>
<polygon points="396.3,139.5 407.3,137.9 396.3,131 385.2,132.5" fill="rgb(242,229,0)" stroke="rgb(36,34,0)" stroke-width="0.6" stroke-linejoin="round"/>
<polygon points="418.4,145.2 429.4,143.4 418.4,136.1 407.3,137.9" fill="rgb(230,246,0)" stroke="rgb(35,37,0)" stroke-width="0.6" stroke-linejoin="round"/>
<polygon points="440.4,151 451.5,149 440.5,141.3 429.4,143.4" fill="rgb(208,247,0)" stroke="rgb(31,37,0)" stroke-width="0.6" stroke-linejoin="round"/>
<polygon points="462.4,157 473.4,154.7 462.5,146.7 451.5,149" fill="rgb(184,248,0)" stroke="rgb(28,37,0)" stroke-width="0.6" stroke-linejoin="round"/>
<polygon points="183.8,94.1 195.1,94.7 183.9,91.1 172.6,90.5" fill="rgb(230,20,0)" stroke="rgb(34,3,0)" stroke-width="0.6" stroke-linejoin="round"/>
<polygon points="363,135 374.1,133.9 363,127.3 351.9,128.5" fill="rgb(247,191,0)" stroke="rgb(37,29,0)" stroke-width="0.6" stroke-linejoin="round"/>
<polygon points="451.4,159 462.4,157 451.5,149 440.4,151" fill="rgb(189,248,0)" stroke="rgb(28,37,0)" stroke-width="0.6" stroke-linejoin="round"/>
<polygon points="206.3,98.6 217.6,99.1 206.4,95.1 195.1,94.7" fill="rgb(230,20,0)" stroke="rgb(34,3,0)" stroke-width="0.6" stroke-linejoin="round"/>
<polygon points="228.8,103.4 240.1,103.6 228.9,99.3 217.6,99.1" fill="rgb(234,37,0)" stroke="rgb(35,6,0)" stroke-width="0.6" stroke-linejoin="round"/>
<polygon points="251.3,108.3 262.5,108.3 251.3,103.6 240.1,103.6" fill="rgb(239,60,0)" stroke="rgb(36,9,0)" stroke-width="0.6" stroke-linejoin="round"/>
<polygon points="273.7,113.3 284.9,113.1 273.7,108 262.5,108.3" fill="rgb(244,84,0)" stroke="rgb(37,13,0)" stroke-width="0.6" stroke-linejoin="round"/>
<polygon points="296.1,118.5 307.3,118.1 296.1,112.6 284.9,113.1" fill="rgb(249,110,0)" stroke="rgb(37,16,0)" stroke-width="0.6" stroke-linejoin="round"/>
<polygon points="318.5,123.9 329.6,123.2 318.5,117.4 307.3,118.1" fill="rgb(255,136,0)" stroke="rgb(38,20,0)" stroke-width="0.6" stroke-linejoin="round"/>
<polygon points="340.8,129.4 351.9,128.5 340.8,122.3 329.6,123.2" fill="rgb(251,163,0)" stroke="rgb(38,24,0)" stroke-width="0.6" stroke-linejoin="round"/>
<polygon points="385.2,140.8 396.3,139.5 385.2,132.5 374.1,133.9" fill="rgb(243,220,0)" stroke="rgb(37,33,0)" stroke-width="0.6" stroke-linejoin="round"/>
<polygon points="407.3,146.7 418.4,145.2 407.3,137.9 396.3,139.5" fill="rgb(237,245,0)" stroke="rgb(35,37,0)" stroke-width="0.6" stroke-linejoin="round"/>
<polygon points="473.3,165.4 484.3,163.1 473.4,154.7 462.4,157" fill="rgb(165,249,0)" stroke="rgb(25,37,0)" stroke-width="0.6" stroke-linejoin="round"/>
<polygon points="429.4,152.8 440.4,151 429.4,143.4 418.4,145.2" fill="rgb(213,246,0)" stroke="rgb(32,37,0)" stroke-width="0.6" stroke-linejoin="round"/>
<polygon points="195,98 206.3,98.6 195.1,94.7 183.8,94.1" fill="rgb(230,20,0)" stroke="rgb(34,3,0)" stroke-width="0.6" stroke-linejoin="round"/>
<polygon points="262.5,113.3 273.7,113.3 262.5,108.3 251.3,108.3" fill="rgb(241,69,0)" stroke="rgb(36,10,0)" stroke-width="0.6" stroke-linejoin="round"/>
<polygon points="284.9,118.7 296.1,118.5 284.9,113.1 273.7,113.3" fill="rgb(246,95,0)" stroke="rgb(37,14,0)" stroke-width="0.6" stroke-linejoin="round"/>
<polygon points="329.6,130 340.8,129.4 329.6,123.2 318.5,123.9" fill="rgb(253,151,0)" stroke="rgb(38,23,0)" stroke-width="0.6" stroke-linejoin="round"/>
<polygon points="351.9,135.9 363,135 351.9,128.5 340.8,129.4" fill="rgb(249,179,0)" stroke="rgb(37,27,0)" stroke-width="0.6" stroke-linejoin="round"/>
<polygon points="374.1,141.9 385.2,140.8 374.1,133.9 363,135" fill="rgb(245,209,0)" stroke="rgb(37,31,0)" stroke-width="0.6" stroke-linejoin="round"/>
<polygon points="440.4,160.9 451.4,159 440.4,151 429.4,152.8" fill="rgb(195,247,0)" stroke="rgb(29,37,0)" stroke-width="0.6" stroke-linejoin="round"/>
<polygon points="462.3,167.5 473.3,165.4 462.4,157 451.4,159" fill="rgb(170,249,0)" stroke="rgb(25,37,0)" stroke-width="0.6" stroke-linejoin="round"/>
<polygon points="217.6,102.9 228.8,103.4 217.6,99.1 206.3,98.6" fill="rgb(230,20,0)" stroke="rgb(34,3,0)" stroke-width="0.6" stroke-linejoin="round"/>
<polygon points="240.1,108 251.3,108.3 240.1,103.6 228.8,103.4" fill="rgb(235,44,0)" stroke="rgb(35,7,0)" stroke-width="0.6" stroke-linejoin="round"/>
<polygon points="307.3,124.3 318.5,123.9 307.3,118.1 296.1,118.5" fill="rgb(252,123,0)" stroke="rgb(38,18,0)" stroke-width="0.6" stroke-linejoin="round"/>
<polygon points="396.3,148.1 407.3,146.7 396.3,139.5 385.2,140.8" fill="rgb(241,240,0)" stroke="rgb(36,36,0)" stroke-width="0.6" stroke-linejoin="round"/>
<polygon points="418.3,154.4 429.4,152.8 418.4,145.2 407.3,146.7" fill="rgb(220,246,0)" stroke="rgb(33,37,0)" stroke-width="0.6" stroke-linejoin="round"/>
<polygon points="206.3,102.2 217.6,102.9 206.3,98.6 195,98" fill="rgb(230,20,0)" stroke="rgb(34,3,0)" stroke-width="0.6" stroke-linejoin="round"/>
<polygon points="228.8,107.6 240.1,108 228.8,103.4 217.6,102.9" fill="rgb(231,27,0)" stroke="rgb(35,4,0)" stroke-width="0.6" stroke-linejoin="round"/>
<polygon points="251.3,113 262.5,113.3 251.3,108.3 240.1,108" fill="rgb(237,53,0)" stroke="rgb(36,8,0)" stroke-width="0.6" stroke-linejoin="round"/>
<polygon points="273.7,118.7 284.9,118.7 273.7,113.3 262.5,113.3" fill="rgb(243,80,0)" stroke="rgb(36,12,0)" stroke-width="0.6" stroke-linejoin="round"/>
<polygon points="296.1,124.5 307.3,124.3 296.1,118.5 284.9,118.7" fill="rgb(249,108,0)" stroke="rgb(37,16,0)" stroke-width="0.6" stroke-linejoin="round"/>
<polygon points="318.5,130.4 329.6,130 318.5,123.9 307.3,124.3" fill="rgb(255,138,0)" stroke="rgb(38,21,0)" stroke-width="0.6" stroke-linejoin="round"/>
<polygon points="340.8,136.5 351.9,135.9 340.8,129.4 329.6,130" fill="rgb(251,167,0)" stroke="rgb(38,25,0)" stroke-width="0.6" stroke-linejoin="round"/>
<polygon points="363,142.8 374.1,141.9 363,135 351.9,135.9" fill="rgb(246,198,0)" stroke="rgb(37,30,0)" stroke-width="0.6" stroke-linejoin="round"/>
<polygon points="385.2,149.2 396.3,148.1 385.2,140.8 374.1,141.9" fill="rgb(242,229,0)" stroke="rgb(36,34,0)" stroke-width="0.6" stroke-linejoin="round"/>
<polygon points="407.3,155.8 418.3,154.4 407.3,146.7 396.3,148.1" fill="rgb(227,246,0)" stroke="rgb(34,37,0)" stroke-width="0.6" stroke-linejoin="round"/>
<polygon points="429.3,162.5 440.4,160.9 429.4,152.8 418.3,154.4" fill="rgb(202,247,0)" stroke="rgb(30,37,0)" stroke-width="0.6" stroke-linejoin="round"/>
<polygon points="451.3,169.3 462.3,167.5 451.4,159 440.4,160.9" fill="rgb(176,249,0)" stroke="rgb(26,37,0)" stroke-width="0.6" stroke-linejoin="round"/>
<polygon points="262.5,118.4 273.7,118.7 262.5,113.3 251.3,113" fill="rgb(239,63,0)" stroke="rgb(36,9,0)" stroke-width="0.6" stroke-linejoin="round"/>
<polygon points="351.9,143.5 363,142.8 351.9,135.9 340.8,136.5" fill="rgb(248,185,0)" stroke="rgb(37,28,0)" stroke-width="0.6" stroke-linejoin="round"/>
<polygon points="396.2,156.9 407.3,155.8 396.3,148.1 385.2,149.2" fill="rgb(235,245,0)" stroke="rgb(35,37,0)" stroke-width="0.6" stroke-linejoin="round"/>
<polygon points="217.5,106.8 228.8,107.6 217.6,102.9 206.3,102.2" fill="rgb(230,20,0)" stroke="rgb(34,3,0)" stroke-width="0.6" stroke-linejoin="round"/>
<polygon points="240.1,112.5 251.3,113 240.1,108 228.8,107.6" fill="rgb(233,35,0)" stroke="rgb(35,5,0)" stroke-width="0.6" stroke-linejoin="round"/>
<polygon points="285,124.4 296.1,124.5 284.9,118.7 273.7,118.7" fill="rgb(246,92,0)" stroke="rgb(37,14,0)" stroke-width="0.6" stroke-linejoin="round"/>
<polygon points="307.3,130.6 318.5,130.4 307.3,124.3 296.1,124.5" fill="rgb(252,123,0)" stroke="rgb(38,18,0)" stroke-width="0.6" stroke-linejoin="round"/>
<polygon points="329.6,137 340.8,136.5 329.6,130 318.5,130.4" fill="rgb(252,154,0)" stroke="rgb(38,23,0)" stroke-width="0.6" stroke-linejoin="round"/>
<polygon points="374.1,150.1 385.2,149.2 374.1,141.9 363,142.8" fill="rgb(244,218,0)" stroke="rgb(37,33,0)" stroke-width="0.6" stroke-linejoin="round"/>
<polygon points="418.3,163.8 429.3,162.5 418.3,154.4 407.3,155.8" fill="rgb(210,247,0)" stroke="rgb(31,37,0)" stroke-width="0.6" stroke-linejoin="round"/>
<polygon points="440.3,170.9 451.3,169.3 440.4,160.9 429.3,162.5" fill="rgb(183,248,0)" stroke="rgb(27,37,0)" stroke-width="0.6" stroke-linejoin="round"/>
<polygon points="407.3,165 418.3,163.8 407.3,155.8 396.2,156.9" fill="rgb(218,246,0)" stroke="rgb(33,37,0)" stroke-width="0.6" stroke-linejoin="round"/>
<polygon points="228.8,111.8 240.1,112.5 228.8,107.6 217.5,106.8" fill="rgb(230,20,0)" stroke="rgb(34,3,0)" stroke-width="0.6" stroke-linejoin="round"/>
<polygon points="251.3,117.9 262.5,118.4 251.3,113 240.1,112.5" fill="rgb(236,45,0)" stroke="rgb(35,7,0)" stroke-width="0.6" stroke-linejoin="round"/>
<polygon points="273.7,124.1 285,124.4 273.7,118.7 262.5,118.4" fill="rgb(242,76,0)" stroke="rgb(36,11,0)" stroke-width="0.6" stroke-linejoin="round"/>
<polygon points="296.2,130.6 307.3,130.6 296.1,124.5 285,124.4" fill="rgb(249,107,0)" stroke="rgb(37,16,0)" stroke-width="0.6" stroke-linejoin="round"/>
<polygon points="318.5,137.1 329.6,137 318.5,130.4 307.3,130.6" fill="rgb(254,139,0)" stroke="rgb(38,21,0)" stroke-width="0.6" stroke-linejoin="round"/>
<polygon points="340.8,143.9 351.9,143.5 340.8,136.5 329.6,137" fill="rgb(250,171,0)" stroke="rgb(38,26,0)" stroke-width="0.6" stroke-linejoin="round"/>
<polygon points="363,150.7 374.1,150.1 363,142.8 351.9,143.5" fill="rgb(245,205,0)" stroke="rgb(37,31,0)" stroke-width="0.6" stroke-linejoin="round"/>
<polygon points="385.2,157.8 396.2,156.9 385.2,149.2 374.1,150.1" fill="rgb(241,239,0)" stroke="rgb(36,36,0)" stroke-width="0.6" stroke-linejoin="round"/>
<polygon points="429.3,172.3 440.3,170.9 429.3,162.5 418.3,163.8" fill="rgb(191,248,0)" stroke="rgb(29,37,0)" stroke-width="0.6" stroke-linejoin="round"/>
<polygon points="329.7,144 340.8,143.9 329.6,137 318.5,137.1" fill="rgb(252,157,0)" stroke="rgb(38,24,0)" stroke-width="0.6" stroke-linejoin="round"/>
<polygon points="374.1,158.4 385.2,157.8 374.1,150.1 363,150.7" fill="rgb(243,226,0)" stroke="rgb(36,34,0)" stroke-width="0.6" stroke-linejoin="round"/>
<polygon points="418.3,173.4 429.3,172.3 418.3,163.8 407.3,165" fill="rgb(199,247,0)" stroke="rgb(30,37,0)" stroke-width="0.6" stroke-linejoin="round"/>
<polygon points="240,117.1 251.3,117.9 240.1,112.5 228.8,111.8" fill="rgb(231,27,0)" stroke="rgb(35,4,0)" stroke-width="0.6" stroke-linejoin="round"/>
<polygon points="262.5,123.6 273.7,124.1 262.5,118.4 251.3,117.9" fill="rgb(238,58,0)" stroke="rgb(36,9,0)" stroke-width="0.6" stroke-linejoin="round"/>
<polygon points="307.3,137.1 318.5,137.1 307.3,130.6 296.2,130.6" fill="rgb(252,123,0)" stroke="rgb(38,18,0)" stroke-width="0.6" stroke-linejoin="round"/>
<polygon points="396.2,165.9 407.3,165 396.2,156.9 385.2,157.8" fill="rgb(227,246,0)" stroke="rgb(34,37,0)" stroke-width="0.6" stroke-linejoin="round"/>
<polygon points="285,130.3 296.2,130.6 285,124.4 273.7,124.1" fill="rgb(245,90,0)" stroke="rgb(37,13,0)" stroke-width="0.6" stroke-linejoin="round"/>
<polygon points="351.9,151.2 363,150.7 351.9,143.5 340.8,143.9" fill="rgb(247,191,0)" stroke="rgb(37,29,0)" stroke-width="0.6" stroke-linejoin="round"/>
<polygon points="385.2,166.5 396.2,165.9 385.2,157.8 374.1,158.4" fill="rgb(237,245,0)" stroke="rgb(36,37,0)" stroke-width="0.6" stroke-linejoin="round"/>
<polygon points="251.3,122.8 262.5,123.6 251.3,117.9 240,117.1" fill="rgb(234,39,0)" stroke="rgb(35,6,0)" stroke-width="0.6" stroke-linejoin="round"/>
<polygon points="273.8,129.7 285,130.3 273.7,124.1 262.5,123.6" fill="rgb(241,72,0)" stroke="rgb(36,11,0)" stroke-width="0.6" stroke-linejoin="round"/>
<polygon points="296.2,136.7 307.3,137.1 296.2,130.6 285,130.3" fill="rgb(249,106,0)" stroke="rgb(37,16,0)" stroke-width="0.6" stroke-linejoin="round"/>
<polygon points="318.5,144 329.7,144 318.5,137.1 307.3,137.1" fill="rgb(254,141,0)" stroke="rgb(38,21,0)" stroke-width="0.6" stroke-linejoin="round"/>
<polygon points="340.8,151.3 351.9,151.2 340.8,143.9 329.7,144" fill="rgb(249,176,0)" stroke="rgb(37,26,0)" stroke-width="0.6" stroke-linejoin="round"/>
<polygon points="363,158.8 374.1,158.4 363,150.7 351.9,151.2" fill="rgb(244,212,0)" stroke="rgb(37,32,0)" stroke-width="0.6" stroke-linejoin="round"/>
<polygon points="407.2,174.3 418.3,173.4 407.3,165 396.2,165.9" fill="rgb(208,247,0)" stroke="rgb(31,37,0)" stroke-width="0.6" stroke-linejoin="round"/>
<polygon points="396.2,175 407.2,174.3 396.2,165.9 385.2,166.5" fill="rgb(218,246,0)" stroke="rgb(33,37,0)" stroke-width="0.6" stroke-linejoin="round"/>
<polygon points="262.5,128.9 273.8,129.7 262.5,123.6 251.3,122.8" fill="rgb(237,52,0)" stroke="rgb(36,8,0)" stroke-width="0.6" stroke-linejoin="round"/>
<polygon points="285,136.2 296.2,136.7 285,130.3 273.8,129.7" fill="rgb(245,87,0)" stroke="rgb(37,13,0)" stroke-width="0.6" stroke-linejoin="round"/>
<polygon points="307.3,143.6 318.5,144 307.3,137.1 296.2,136.7" fill="rgb(253,124,0)" stroke="rgb(38,19,0)" stroke-width="0.6" stroke-linejoin="round"/>
<polygon points="329.7,151.2 340.8,151.3 329.7,144 318.5,144" fill="rgb(252,160,0)" stroke="rgb(38,24,0)" stroke-width="0.6" stroke-linejoin="round"/>
<polygon points="374.1,166.9 385.2,166.5 374.1,158.4 363,158.8" fill="rgb(241,235,0)" stroke="rgb(36,35,0)" stroke-width="0.6" stroke-linejoin="round"/>
<polygon points="351.9,159 363,158.8 351.9,151.2 340.8,151.3" fill="rgb(247,197,0)" stroke="rgb(37,30,0)" stroke-width="0.6" stroke-linejoin="round"/>
<polygon points="273.8,135.4 285,136.2 273.8,129.7 262.5,128.9" fill="rgb(240,68,0)" stroke="rgb(36,10,0)" stroke-width="0.6" stroke-linejoin="round"/>
<polygon points="296.2,143 307.3,143.6 296.2,136.7 285,136.2" fill="rgb(248,105,0)" stroke="rgb(37,16,0)" stroke-width="0.6" stroke-linejoin="round"/>
<polygon points="318.5,150.9 329.7,151.2 318.5,144 307.3,143.6" fill="rgb(254,143,0)" stroke="rgb(38,21,0)" stroke-width="0.6" stroke-linejoin="round"/>
<polygon points="340.8,158.9 351.9,159 340.8,151.3 329.7,151.2" fill="rgb(249,181,0)" stroke="rgb(37,27,0)" stroke-width="0.6" stroke-linejoin="round"/>
<polygon points="363,167.1 374.1,166.9 363,158.8 351.9,159" fill="rgb(243,219,0)" stroke="rgb(37,33,0)" stroke-width="0.6" stroke-linejoin="round"/>
<polygon points="385.1,175.4 396.2,175 385.2,166.5 374.1,166.9" fill="rgb(229,246,0)" stroke="rgb(34,37,0)" stroke-width="0.6" stroke-linejoin="round"/>
<polygon points="285,142.2 296.2,143 285,136.2 273.8,135.4" fill="rgb(244,85,0)" stroke="rgb(37,13,0)" stroke-width="0.6" stroke-linejoin="round"/>
<polygon points="307.4,150.3 318.5,150.9 307.3,143.6 296.2,143" fill="rgb(253,124,0)" stroke="rgb(38,19,0)" stroke-width="0.6" stroke-linejoin="round"/>
<polygon points="329.7,158.5 340.8,158.9 329.7,151.2 318.5,150.9" fill="rgb(251,163,0)" stroke="rgb(38,24,0)" stroke-width="0.6" stroke-linejoin="round"/>
<polygon points="351.9,167 363,167.1 351.9,159 340.8,158.9" fill="rgb(246,203,0)" stroke="rgb(37,30,0)" stroke-width="0.6" stroke-linejoin="round"/>
<polygon points="374.1,175.5 385.1,175.4 374.1,166.9 363,167.1" fill="rgb(240,244,0)" stroke="rgb(36,37,0)" stroke-width="0.6" stroke-linejoin="round"/>
<polygon points="296.2,149.4 307.4,150.3 296.2,143 285,142.2" fill="rgb(248,104,0)" stroke="rgb(37,16,0)" stroke-width="0.6" stroke-linejoin="round"/>
<polygon points="318.5,157.9 329.7,158.5 318.5,150.9 307.4,150.3" fill="rgb(254,145,0)" stroke="rgb(38,22,0)" stroke-width="0.6" stroke-linejoin="round"/>
<polygon points="340.8,166.6 351.9,167 340.8,158.9 329.7,158.5" fill="rgb(248,185,0)" stroke="rgb(37,28,0)" stroke-width="0.6" stroke-linejoin="round"/>
<polygon points="363,175.4 374.1,175.5 363,167.1 351.9,167" fill="rgb(242,227,0)" stroke="rgb(36,34,0)" stroke-width="0.6" stroke-linejoin="round"/>
<polygon points="307.4,157.1 318.5,157.9 307.4,150.3 296.2,149.4" fill="rgb(253,125,0)" stroke="rgb(38,19,0)" stroke-width="0.6" stroke-linejoin="round"/>
<polygon points="329.7,166 340.8,166.6 329.7,158.5 318.5,157.9" fill="rgb(251,167,0)" stroke="rgb(38,25,0)" stroke-width="0.6" stroke-linejoin="round"/>
<polygon points="351.9,175.1 363,175.4 351.9,167 340.8,166.6" fill="rgb(245,209,0)" stroke="rgb(37,31,0)" stroke-width="0.6" stroke-linejoin="round"/>
<polygon points="318.5,165.1 329.7,166 318.5,157.9 307.4,157.1" fill="rgb(253,147,0)" stroke="rgb(38,22,0)" stroke-width="0.6" stroke-linejoin="round"/>
<polygon points="340.8,174.4 351.9,175.1 340.8,166.6 329.7,166" fill="rgb(247,191,0)" stroke="rgb(37,29,0)" stroke-width="0.6" stroke-linejoin="round"/>
<polygon points="329.7,173.6 340.8,174.4 329.7,166 318.5,165.1" fill="rgb(250,171,0)" stroke="rgb(38,26,0)" stroke-width="0.6" stroke-linejoin="round"/>
<line x1="329.3" y1="155.4" x2="329.3" y2="174.7" stroke="#6a6a70" stroke-width="1.3"/>
<line x1="561.6" y1="129.2" x2="561.6" y2="137.4" stroke="#6a6a70" stroke-width="1.3"/>
<circle cx="94.8" cy="85.6" r="4.7" fill="#f2d5c4" stroke="#b87a58" stroke-width="1.1"/>
<circle cx="329.3" cy="155.4" r="4.6" fill="#c40000" stroke="#6a0000" stroke-width="1"/>
<circle cx="561.6" cy="129.2" r="4.6" fill="#c40000" stroke="#6a0000" stroke-width="1"/>
<circle cx="329.3" cy="92.2" r="4.6" fill="#c40000" stroke="#6a0000" stroke-width="1"/>
<circle cx="329.3" cy="84.8" r="4.6" fill="#c40000" stroke="#6a0000" stroke-width="1"/>
<text x="79.5" y="272.8" font-size="14.9" font-family="Liberation Sans, sans-serif" fill="#111" stroke="#111" stroke-width="0.45" textLength="17" lengthAdjust="spacingAndGlyphs">65</text>
<text x="77.3" y="228.7" font-size="14.9" font-family="Liberation Sans, sans-serif" fill="#111" stroke="#111" stroke-width="0.45" textLength="17" lengthAdjust="spacingAndGlyphs">70</text>
<text x="75.1" y="184.5" font-size="14.9" font-family="Liberation Sans, sans-serif" fill="#111" stroke="#111" stroke-width="0.45" textLength="17" lengthAdjust="spacingAndGlyphs">75</text>
<text x="73" y="140.4" font-size="14.9" font-family="Liberation Sans, sans-serif" fill="#111" stroke="#111" stroke-width="0.45" textLength="16.8" lengthAdjust="spacingAndGlyphs">80</text>
<text x="70.8" y="96.2" font-size="14.9" font-family="Liberation Sans, sans-serif" fill="#111" stroke="#111" stroke-width="0.45" textLength="16.8" lengthAdjust="spacingAndGlyphs">85</text>
<text x="68.4" y="52.1" font-size="14.9" font-family="Liberation Sans, sans-serif" fill="#111" stroke="#111" stroke-width="0.45" textLength="17" lengthAdjust="spacingAndGlyphs">90</text>
<text x="304.5" y="463.2" font-size="14.9" font-family="Liberation Sans, sans-serif" fill="#111" stroke="#111" stroke-width="0.45" textLength="17" lengthAdjust="spacingAndGlyphs">20</text>
<text x="249.1" y="437.8" font-size="14.9" font-family="Liberation Sans, sans-serif" fill="#111" stroke="#111" stroke-width="0.45" textLength="17" lengthAdjust="spacingAndGlyphs">25</text>
<text x="193.8" y="412.4" font-size="14.9" font-family="Liberation Sans, sans-serif" fill="#111" stroke="#111" stroke-width="0.45" textLength="16.8" lengthAdjust="spacingAndGlyphs">30</text>
<text x="138.3" y="387.1" font-size="14.9" font-family="Liberation Sans, sans-serif" fill="#111" stroke="#111" stroke-width="0.45" textLength="16.8" lengthAdjust="spacingAndGlyphs">35</text>
<text x="83.2" y="361.7" font-size="14.9" font-family="Liberation Sans, sans-serif" fill="#111" stroke="#111" stroke-width="0.45" textLength="16.5" lengthAdjust="spacingAndGlyphs">40</text>
<text x="338.2" y="463.2" font-size="14.9" font-family="Liberation Sans, sans-serif" fill="#111" stroke="#111" stroke-width="0.45" textLength="16.5" lengthAdjust="spacingAndGlyphs">40</text>
<text x="393.6" y="437.8" font-size="14.9" font-family="Liberation Sans, sans-serif" fill="#111" stroke="#111" stroke-width="0.45" textLength="16.5" lengthAdjust="spacingAndGlyphs">45</text>
<text x="448.6" y="412.4" font-size="14.9" font-family="Liberation Sans, sans-serif" fill="#111" stroke="#111" stroke-width="0.45" textLength="16.8" lengthAdjust="spacingAndGlyphs">50</text>
<text x="503.9" y="387.1" font-size="14.9" font-family="Liberation Sans, sans-serif" fill="#111" stroke="#111" stroke-width="0.45" textLength="16.8" lengthAdjust="spacingAndGlyphs">55</text>
<text x="559.1" y="361.7" font-size="14.9" font-family="Liberation Sans, sans-serif" fill="#111" stroke="#111" stroke-width="0.45" textLength="17" lengthAdjust="spacingAndGlyphs">60</text>
<polygon points="340.8,966.7 585.6,860.2 340.9,776.2 96.7,860.3" fill="#666666"/>
<line x1="154.9" y1="768.7" x2="145.6" y2="542.7" stroke="#5a5a5a" stroke-width="1.3"/>
<line x1="216.9" y1="749.5" x2="210.7" y2="529.4" stroke="#5a5a5a" stroke-width="1.3"/>
<line x1="278.9" y1="730.3" x2="275.8" y2="516" stroke="#5a5a5a" stroke-width="1.3"/>
<line x1="539.7" y1="772.4" x2="549.5" y2="545.1" stroke="#5a5a5a" stroke-width="1.3"/>
<line x1="490" y1="757.1" x2="497.4" y2="534.5" stroke="#5a5a5a" stroke-width="1.3"/>
<line x1="440.3" y1="741.7" x2="445.2" y2="523.9" stroke="#5a5a5a" stroke-width="1.3"/>
<line x1="390.6" y1="726.4" x2="393.1" y2="513.3" stroke="#5a5a5a" stroke-width="1.3"/>
<line x1="92.8" y1="787.8" x2="340.9" y2="711.1" stroke="#5a5a5a" stroke-width="1.3"/>
<line x1="340.9" y1="711.1" x2="589.4" y2="787.7" stroke="#5a5a5a" stroke-width="1.3"/>
<line x1="90.8" y1="749.2" x2="340.9" y2="676.4" stroke="#5a5a5a" stroke-width="1.3"/>
<line x1="340.9" y1="676.4" x2="591.5" y2="749" stroke="#5a5a5a" stroke-width="1.3"/>
<line x1="88.7" y1="710.6" x2="340.9" y2="641.6" stroke="#5a5a5a" stroke-width="1.3"/>
<line x1="340.9" y1="641.6" x2="593.5" y2="710.4" stroke="#5a5a5a" stroke-width="1.3"/>
<line x1="86.7" y1="671.9" x2="340.9" y2="606.9" stroke="#5a5a5a" stroke-width="1.3"/>
<line x1="340.9" y1="606.9" x2="595.6" y2="671.7" stroke="#5a5a5a" stroke-width="1.3"/>
<line x1="84.6" y1="633.3" x2="340.9" y2="572.2" stroke="#5a5a5a" stroke-width="1.3"/>
<line x1="340.9" y1="572.2" x2="597.6" y2="633" stroke="#5a5a5a" stroke-width="1.3"/>
<line x1="82.6" y1="594.6" x2="340.9" y2="537.4" stroke="#5a5a5a" stroke-width="1.3"/>
<line x1="340.9" y1="537.4" x2="599.7" y2="594.4" stroke="#5a5a5a" stroke-width="1.3"/>
<line x1="80.5" y1="556" x2="340.9" y2="502.7" stroke="#5a5a5a" stroke-width="1.3"/>
<line x1="340.9" y1="502.7" x2="601.7" y2="555.7" stroke="#5a5a5a" stroke-width="1.3"/>
<line x1="96.7" y1="860.3" x2="80.5" y2="556" stroke="#5a5a5a" stroke-width="1.3"/>
<line x1="340.9" y1="776.2" x2="340.9" y2="502.7" stroke="#5a5a5a" stroke-width="1.3"/>
<line x1="585.6" y1="860.2" x2="601.7" y2="555.7" stroke="#5a5a5a" stroke-width="1.3"/>
<polyline points="96.7,860.3 340.8,966.7 585.6,860.2" fill="none" stroke="#303030" stroke-width="1.1"/>
<polyline points="96.7,860.3 340.9,776.2 585.6,860.2" fill="none" stroke="#303030" stroke-width="1.0"/>
<polyline points="350.6,779.5 349,780.4 348.9,780.5 347.4,781.3 345.8,782.1 344.1,782.9 342.5,783.8 340.8,784.6 340.5,784.8 339.2,785.5 337.5,786.3 335.8,787.1 334.1,788 332.4,788.8 330.7,789.6 330.2,789.8 328.9,790.4 327.2,791.2 325.5,792.1 323.7,792.9 321.9,793.7 320.1,794.5 318.3,795.3 316.8,796 316.5,796.1 314.7,796.9 312.9,797.7 311.1,798.4 309.2,799.2 307.4,800 305.5,800.8 303.6,801.6 301.8,802.3 299.9,803.1 298,803.9 296,804.6 294.2,805.3 294.1,805.4 292.2,806.1 290.3,806.9 288.3,807.6 286.3,808.4 284.4,809.1 282.4,809.8 280.4,810.6 278.4,811.3 276.4,812 274.4,812.8 272.4,813.5 270.3,814.2 268.3,814.9 266.3,815.6 264.2,816.3 262.1,817 260,817.7 258,818.4 255.9,819.1 253.8,819.8 251.7,820.5 249.5,821.2 247.4,821.9 245.3,822.5 245,822.6 243.1,823.2 241,823.9 238.8,824.5 236.7,825.2 234.5,825.9 232.3,826.5 230.1,827.2 227.9,827.8 225.7,828.5 223.5,829.1 221.3,829.8 219.1,830.4 216.9,831.1 215.8,831.3 214.6,831.7 212.4,832.3 210.1,832.9 207.9,833.6 205.6,834.2 203.3,834.8 201.1,835.4 198.8,836 196.5,836.6 195.8,836.8 194.2,837.3 191.9,837.9 189.6,838.5 187.3,839.1 185,839.6 182.6,840.2 180.3,840.8 179.1,841.1 178,841.4 175.6,842 173.3,842.6 170.9,843.2 168.6,843.7 166.2,844.3 164.1,844.8 163.8,844.9 161.4,845.4 159.1,846 156.7,846.6 154.3,847.1 151.9,847.7 150.3,848.1 149.5,848.2 147.1,848.8 144.7,849.3 142.3,849.9 139.8,850.4 137.4,851 137.4,851 135,851.5 132.5,852 130.1,852.6 127.7,853.1 125.2,853.6 125.1,853.7 122.8,854.2 120.3,854.7 117.8,855.2 115.4,855.7 113.3,856.2 112.9,856.2 110.4,856.8 108,857.3 105.5,857.8 103,858.3 102,858.5" fill="none" stroke="rgb(136,225,0)" stroke-width="1.8" stroke-linejoin="round"/>
<polyline points="384.3,791.1 382.7,792 381.1,792.9 379.4,793.7 378.6,794.2 377.8,794.6 376.1,795.5 374.5,796.3 372.8,797.2 371.1,798 369.4,798.9 368.9,799.1 367.7,799.7 365.9,800.6 364.2,801.4 362.4,802.3 360.6,803.1 358.8,803.9 357,804.7 355.2,805.5 355.2,805.6 353.4,806.4 351.6,807.2 349.7,808 347.8,808.8 346,809.6 344.1,810.4 342.2,811.1 340.2,811.9 338.3,812.7 336.4,813.5 334.4,814.2 332.4,815 330.5,815.8 328.5,816.5 326.5,817.3 324.5,818 322.4,818.8 320.4,819.5 318.3,820.2 316.3,821 314.2,821.7 312.1,822.4 310,823.1 307.9,823.9 305.8,824.6 303.7,825.3 301.6,826 299.4,826.7 297.3,827.4 295.1,828.1 292.9,828.7 290.7,829.4 288.5,830.1 286.3,830.8 284.1,831.4 282.2,832 281.9,832.1 279.7,832.8 277.4,833.4 275.2,834.1 272.9,834.7 270.7,835.4 268.4,836 266.1,836.7 263.8,837.3 262,837.8 261.5,837.9 259.2,838.6 256.9,839.2 254.6,839.8 252.2,840.4 249.9,841.1 247.6,841.7 245.8,842.1 245.2,842.3 242.8,842.9 240.5,843.5 238.1,844.1 235.7,844.7 233.3,845.3 231.5,845.7 230.9,845.9 228.5,846.5 226.1,847 223.7,847.6 221.3,848.2 218.9,848.8 218.5,848.9 216.5,849.4 214,849.9 211.6,850.5 209.1,851.1 206.7,851.6 206.3,851.7 204.2,852.2 201.7,852.7 199.3,853.3 196.8,853.8 194.7,854.3 194.3,854.4 191.8,854.9 189.3,855.4 186.8,856 184.3,856.5 183.6,856.7 181.8,857.1 179.3,857.6 176.8,858.1 174.3,858.6 172.9,858.9 171.8,859.2 169.2,859.7 166.7,860.2 164.2,860.7 162.6,861 161.6,861.2 159.1,861.7 156.5,862.2 154,862.7 152.5,863 151.4,863.2 148.9,863.7 146.3,864.2 143.7,864.7 142.6,864.9 141.2,865.2 138.6,865.7 136,866.2 133.4,866.7 133,866.8 130.8,867.1 128.3,867.6 125.7,868.1 123.5,868.5 123.1,868.6 120.5,869.1 117.9,869.5" fill="none" stroke="rgb(201,221,0)" stroke-width="1.8" stroke-linejoin="round"/>
<polyline points="525.9,886.2 526.2,885.8 527.2,884.6 528.2,883.6 528.3,883.4 529.4,882.1 530.5,880.9 530.6,880.9 531.7,879.7 532.8,878.5 533.2,878.1 534,877.3 535.2,876.1 536.1,875.3 536.4,874.9 537.6,873.8 538.9,872.6 539.3,872.3 540.2,871.5 541.5,870.3 542.8,869.2 542.9,869.1 544.1,868.1 545.5,866.9 546.9,865.8 546.9,865.8 548.3,864.7 549.7,863.6 551.2,862.6 551.8,862.1 552.6,861.5 554.1,860.4 555.6,859.4 557.2,858.3 557.7,858 558.8,857.3 560.3,856.3 562,855.2 563.6,854.2 565.3,853.2" fill="none" stroke="rgb(224,159,0)" stroke-width="1.8" stroke-linejoin="round"/>
<polyline points="433.3,807.9 431.7,808.9 430.1,809.8 428.5,810.7 428,810.9 426.8,811.6 425.2,812.5 423.5,813.4 421.7,814.3 420,815.1 418.2,816 416.5,816.8 416.4,816.8 414.6,817.7 412.7,818.5 410.9,819.4 409,820.2 407.1,821 405.1,821.8 403.2,822.6 401.2,823.4 399.2,824.2 397.2,825 395.2,825.8 393.1,826.6 391,827.3 388.9,828.1 386.8,828.8 384.7,829.6 382.5,830.3 380.4,831 378.2,831.7 376,832.5 373.8,833.2 371.7,833.8 371.5,833.9 369.3,834.6 367,835.3 364.8,835.9 362.5,836.6 360.2,837.3 357.8,838 355.5,838.6 353.6,839.1 353.2,839.3 350.8,839.9 348.4,840.6 346.1,841.2 343.7,841.9 341.3,842.5 339.7,842.9 338.8,843.1 336.4,843.7 334,844.4 331.5,845 329.1,845.6 327.4,846 326.6,846.2 324.1,846.8 321.6,847.4 319.2,848 316.6,848.6 316.2,848.7 314.1,849.1 311.6,849.7 309.1,850.3 306.6,850.9 305.7,851.1 304,851.4 301.5,852 298.9,852.6 296.3,853.1 295.6,853.3 293.8,853.7 291.2,854.2 288.6,854.8 286,855.3 285.9,855.4 283.4,855.9 280.8,856.4 278.2,857 276.5,857.3 275.6,857.5 273,858 270.4,858.5 267.8,859.1 267.4,859.1 265.1,859.6 262.5,860.1 259.9,860.6 258.5,860.9 257.2,861.1 254.6,861.7 251.9,862.2 249.7,862.6 249.3,862.7 246.6,863.2 243.9,863.7 241.3,864.2 241.1,864.2 238.6,864.7 235.9,865.2 233.2,865.6 232.6,865.8 230.5,866.1 227.9,866.6 225.2,867.1 224.2,867.3 222.5,867.6 219.8,868.1 217.1,868.5 215.9,868.7 214.4,869 211.7,869.5 209,869.9 207.6,870.2 206.3,870.4 203.5,870.9 200.8,871.3 199.5,871.6 198.1,871.8 195.4,872.3 192.7,872.7 191.4,872.9 189.9,873.2 187.2,873.6 184.5,874.1 183.4,874.3 181.7,874.5 179,875 176.3,875.4 175.4,875.6 173.5,875.9 170.8,876.3 168,876.7 167.5,876.8 165.3,877.2 162.6,877.6 159.8,878 159.7,878.1 157.1,878.5 154.3,878.9 151.9,879.3 151.5,879.3 148.8,879.8 146,880.2 144.1,880.5 143.3,880.6" fill="none" stroke="rgb(224,159,0)" stroke-width="1.8" stroke-linejoin="round"/>
<polyline points="438.1,924.4 438,923.8 437.8,922.8 437.6,922 437.5,921.3 437.2,920.1 437.1,919.7 436.8,918.2 436.8,918.2 436.4,916.7 436.3,916.3 435.9,915.2 435.7,914.4 435.5,913.7 435,912.5 435,912.2 434.4,910.8 434.3,910.5 433.8,909.4 433.5,908.5 433.2,908 432.6,906.6 432.5,906.5 431.9,905.2 431.4,904.4 431.1,903.9 430.3,902.5 430.1,902.2 429.4,901.3 428.5,900 428.5,899.9 427.6,898.7 426.5,897.5 426.5,897.5 425.4,896.3 424.3,895.2 423.9,894.9 423.1,894 421.8,892.9 420.4,891.9 420.2,891.8 418.9,890.8 417.4,889.9 415.8,888.9 414.1,888 412.3,887.1 412.1,887 410.4,886.2 408.4,885.4 406.3,884.7 404.5,884.1 404.1,883.9 401.8,883.3 399.4,882.6 396.9,882 394.2,881.5 393.1,881.3 391.5,881 388.6,880.5 386.2,880.2 385.6,880.1 382.5,879.8 380.4,879.6 379.3,879.5 376,879.2 375.2,879.2 372.5,879 370.3,878.9 368.9,878.8 365.7,878.7 365.2,878.7 361.4,878.6 361.4,878.6 357.4,878.6 357.1,878.6 353.4,878.6 353,878.6 349.2,878.6 349.1,878.6 345.2,878.7 345,878.7 341.4,878.8 340.6,878.8 337.6,878.9 336.1,879 333.9,879.1 331.5,879.2 330.3,879.2 326.8,879.4 326.7,879.4 323.1,879.6 322.1,879.7 319.6,879.8 317.2,880 316.1,880 312.6,880.3 312.3,880.3 309.2,880.5 307.2,880.6 305.8,880.7 302.4,881 302.1,881 299.1,881.2 296.9,881.4 295.7,881.5 292.4,881.8 291.7,881.8 289.1,882.1 286.3,882.3 285.8,882.3 282.5,882.6 280.9,882.8 279.3,882.9 276,883.2 275.4,883.3 272.8,883.5 269.9,883.8 269.6,883.8 266.4,884.1 264.3,884.3 263.2,884.4 260,884.7 258.7,884.8 256.8,885 253.7,885.3 253,885.4 250.5,885.7 247.4,886 247.2,886 244.2,886.3 241.4,886.6 241.1,886.6 238,886.9 235.6,887.2 234.8,887.2 231.7,887.6 229.7,887.8 228.6,887.9 225.5,888.2 223.7,888.4 222.4,888.5 219.3,888.9 217.7,889 216.2,889.2 213.2,889.5 211.7,889.7 210.1,889.8 207,890.2 205.7,890.3 204,890.5 200.9,890.8 199.6,891 197.9,891.2 194.8,891.5 193.5,891.6 191.8,891.8 188.7,892.2 187.3,892.3 185.7,892.5 182.6,892.8 181.1,893 179.6,893.1 176.6,893.5 174.9,893.6 173.6,893.8" fill="none" stroke="rgb(220,77,0)" stroke-width="1.8" stroke-linejoin="round"/>
<polyline points="378.9,950.1 378.3,949.3 377.9,948.8 376.9,947.5 376.2,946.7 375.9,946.2 374.8,945 373.8,943.9 373.6,943.7 372.5,942.5 371.2,941.3 370.9,941 370,940.1 368.7,938.9 367.4,937.8 367.3,937.8 366,936.7 364.5,935.5 363.1,934.5 362.4,934 361.5,933.4 360,932.3 358.4,931.3 356.7,930.3 355,929.3 353.5,928.6 353.2,928.4 351.3,927.5 349.5,926.5 347.5,925.7 345.5,924.8 343.5,924 341.3,923.1 339.2,922.4 336.9,921.6 336.3,921.4 334.6,920.9 332.2,920.1 329.8,919.5 327.3,918.8 324.8,918.2 324.2,918 322.1,917.6 319.4,917 316.7,916.4 316,916.3 313.8,915.9 310.9,915.4 309.2,915.1 308,914.9 304.9,914.5 303,914.2 301.8,914.1 298.7,913.7 297.3,913.5 295.4,913.3 292.1,913 292,913 288.7,912.7 286.9,912.5 285.3,912.4 282.1,912.1 281.7,912.1 278.1,911.9 277.4,911.8 274.5,911.7 272.8,911.6 270.7,911.5 268.4,911.4 266.9,911.3 264.1,911.2 263.1,911.2 259.8,911.1 259.1,911 255.7,911 255.1,911 251.6,910.9 251.1,910.9 247.6,910.8 246.9,910.8 243.6,910.8 242.8,910.8 239.7,910.8 238.5,910.8 235.8,910.8 234.2,910.8 232,910.8 229.8,910.9 228.2,910.9 225.4,910.9 224.5,910.9 220.9,911 220.7,911 217.1,911.1 216.3,911.1 213.4,911.2" fill="none" stroke="rgb(207,18,0)" stroke-width="1.8" stroke-linejoin="round"/>
<circle cx="92.8" cy="787.8" r="2.2" fill="#000"/>
<circle cx="90.8" cy="749.2" r="2.2" fill="#000"/>
<circle cx="88.7" cy="710.6" r="2.2" fill="#000"/>
<circle cx="86.7" cy="671.9" r="2.2" fill="#000"/>
<circle cx="84.6" cy="633.3" r="2.2" fill="#000"/>
<circle cx="82.6" cy="594.6" r="2.2" fill="#000"/>
<circle cx="80.5" cy="556" r="2.2" fill="#000"/>
<circle cx="340.8" cy="966.7" r="2.2" fill="#000"/>
<circle cx="292" cy="945.4" r="2.2" fill="#000"/>
<circle cx="243.2" cy="924.1" r="2.2" fill="#000"/>
<circle cx="194.3" cy="902.9" r="2.2" fill="#000"/>
<circle cx="145.5" cy="881.6" r="2.2" fill="#000"/>
<circle cx="96.7" cy="860.3" r="2.2" fill="#000"/>
<circle cx="340.8" cy="966.7" r="2.2" fill="#000"/>
<circle cx="402" cy="940.1" r="2.2" fill="#000"/>
<circle cx="463.2" cy="913.5" r="2.2" fill="#000"/>
<circle cx="524.4" cy="886.8" r="2.2" fill="#000"/>
<circle cx="585.6" cy="860.2" r="2.2" fill="#000"/>
<polygon points="340.9,608.7 353,604.5 340.9,606.9 328.8,611.1" fill="rgb(135,246,6)" stroke="rgb(20,37,1)" stroke-width="0.6" stroke-linejoin="round"/>
<polygon points="328.8,612.7 340.9,608.7 328.8,611.1 316.7,615.2" fill="rgb(128,243,8)" stroke="rgb(19,37,1)" stroke-width="0.6" stroke-linejoin="round"/>
<polygon points="353.1,606.6 365.2,602.6 353,604.5 340.9,608.7" fill="rgb(167,249,0)" stroke="rgb(25,37,0)" stroke-width="0.6" stroke-linejoin="round"/>
<polygon points="316.7,616.6 328.8,612.7 316.7,615.2 304.6,619.2" fill="rgb(121,242,11)" stroke="rgb(18,36,2)" stroke-width="0.6" stroke-linejoin="round"/>
<polygon points="340.9,610.6 353.1,606.6 340.9,608.7 328.8,612.7" fill="rgb(162,249,0)" stroke="rgb(24,37,0)" stroke-width="0.6" stroke-linejoin="round"/>
<polygon points="365.3,604.9 377.4,600.9 365.2,602.6 353.1,606.6" fill="rgb(193,248,0)" stroke="rgb(29,37,0)" stroke-width="0.6" stroke-linejoin="round"/>
<polygon points="377.5,603.6 389.6,599.7 377.4,600.9 365.3,604.9" fill="rgb(216,246,0)" stroke="rgb(32,37,0)" stroke-width="0.6" stroke-linejoin="round"/>
<polygon points="304.6,620.4 316.7,616.6 304.6,619.2 292.5,623" fill="rgb(116,240,13)" stroke="rgb(17,36,2)" stroke-width="0.6" stroke-linejoin="round"/>
<polygon points="328.8,614.4 340.9,610.6 328.8,612.7 316.7,616.6" fill="rgb(158,250,0)" stroke="rgb(24,37,0)" stroke-width="0.6" stroke-linejoin="round"/>
<polygon points="353.1,608.8 365.3,604.9 353.1,606.6 340.9,610.6" fill="rgb(188,248,0)" stroke="rgb(28,37,0)" stroke-width="0.6" stroke-linejoin="round"/>
<polygon points="292.5,624 304.6,620.4 292.5,623 280.4,626.7" fill="rgb(112,239,14)" stroke="rgb(17,36,2)" stroke-width="0.6" stroke-linejoin="round"/>
<polygon points="316.7,618.1 328.8,614.4 316.7,616.6 304.6,620.4" fill="rgb(154,250,0)" stroke="rgb(23,37,0)" stroke-width="0.6" stroke-linejoin="round"/>
<polygon points="341,612.6 353.1,608.8 340.9,610.6 328.8,614.4" fill="rgb(184,248,0)" stroke="rgb(28,37,0)" stroke-width="0.6" stroke-linejoin="round"/>
<polygon points="365.3,607.5 377.5,603.6 365.3,604.9 353.1,608.8" fill="rgb(212,247,0)" stroke="rgb(32,37,0)" stroke-width="0.6" stroke-linejoin="round"/>
<polygon points="389.7,602.7 401.9,598.8 389.6,599.7 377.5,603.6" fill="rgb(238,245,0)" stroke="rgb(36,37,0)" stroke-width="0.6" stroke-linejoin="round"/>
<polygon points="304.6,621.7 316.7,618.1 304.6,620.4 292.5,624" fill="rgb(151,250,0)" stroke="rgb(23,37,0)" stroke-width="0.6" stroke-linejoin="round"/>
<polygon points="280.4,627.5 292.5,624 280.4,626.7 268.3,630.3" fill="rgb(108,238,16)" stroke="rgb(16,36,2)" stroke-width="0.6" stroke-linejoin="round"/>
<polygon points="328.8,616.2 341,612.6 328.8,614.4 316.7,618.1" fill="rgb(181,248,0)" stroke="rgb(27,37,0)" stroke-width="0.6" stroke-linejoin="round"/>
<polygon points="353.1,611.1 365.3,607.5 353.1,608.8 341,612.6" fill="rgb(209,247,0)" stroke="rgb(31,37,0)" stroke-width="0.6" stroke-linejoin="round"/>
<polygon points="401.9,602.1 414.1,598.3 401.9,598.8 389.7,602.7" fill="rgb(243,224,0)" stroke="rgb(36,34,0)" stroke-width="0.6" stroke-linejoin="round"/>
<polygon points="377.5,606.4 389.7,602.7 377.5,603.6 365.3,607.5" fill="rgb(234,245,0)" stroke="rgb(35,37,0)" stroke-width="0.6" stroke-linejoin="round"/>
<polygon points="341,614.7 353.1,611.1 341,612.6 328.8,616.2" fill="rgb(206,247,0)" stroke="rgb(31,37,0)" stroke-width="0.6" stroke-linejoin="round"/>
<polygon points="268.3,630.9 280.4,627.5 268.3,630.3 256.3,633.8" fill="rgb(106,237,16)" stroke="rgb(16,36,2)" stroke-width="0.6" stroke-linejoin="round"/>
<polygon points="292.4,625.1 304.6,621.7 292.5,624 280.4,627.5" fill="rgb(149,250,0)" stroke="rgb(22,37,0)" stroke-width="0.6" stroke-linejoin="round"/>
<polygon points="316.7,619.7 328.8,616.2 316.7,618.1 304.6,621.7" fill="rgb(179,248,0)" stroke="rgb(27,37,0)" stroke-width="0.6" stroke-linejoin="round"/>
<polygon points="365.3,610.1 377.5,606.4 365.3,607.5 353.1,611.1" fill="rgb(231,245,0)" stroke="rgb(35,37,0)" stroke-width="0.6" stroke-linejoin="round"/>
<polygon points="389.7,605.8 401.9,602.1 389.7,602.7 377.5,606.4" fill="rgb(242,228,0)" stroke="rgb(36,34,0)" stroke-width="0.6" stroke-linejoin="round"/>
<polygon points="414.2,602 426.4,598.2 414.1,598.3 401.9,602.1" fill="rgb(246,203,0)" stroke="rgb(37,30,0)" stroke-width="0.6" stroke-linejoin="round"/>
<polygon points="256.1,634.1 268.3,630.9 256.3,633.8 244.2,637" fill="rgb(105,237,17)" stroke="rgb(16,36,3)" stroke-width="0.6" stroke-linejoin="round"/>
<polygon points="280.3,628.4 292.4,625.1 280.4,627.5 268.3,630.9" fill="rgb(147,249,1)" stroke="rgb(22,37,0)" stroke-width="0.6" stroke-linejoin="round"/>
<polygon points="328.8,618.1 341,614.7 328.8,616.2 316.7,619.7" fill="rgb(204,247,0)" stroke="rgb(31,37,0)" stroke-width="0.6" stroke-linejoin="round"/>
<polygon points="353.1,613.5 365.3,610.1 353.1,611.1 341,614.7" fill="rgb(229,246,0)" stroke="rgb(34,37,0)" stroke-width="0.6" stroke-linejoin="round"/>
<polygon points="377.5,609.4 389.7,605.8 377.5,606.4 365.3,610.1" fill="rgb(242,231,0)" stroke="rgb(36,35,0)" stroke-width="0.6" stroke-linejoin="round"/>
<polygon points="402,605.6 414.2,602 401.9,602.1 389.7,605.8" fill="rgb(245,207,0)" stroke="rgb(37,31,0)" stroke-width="0.6" stroke-linejoin="round"/>
<polygon points="304.5,623.1 316.7,619.7 304.6,621.7 292.4,625.1" fill="rgb(177,248,0)" stroke="rgb(27,37,0)" stroke-width="0.6" stroke-linejoin="round"/>
<polygon points="426.4,602.2 438.6,598.5 426.4,598.2 414.2,602" fill="rgb(248,185,0)" stroke="rgb(37,28,0)" stroke-width="0.6" stroke-linejoin="round"/>
<polygon points="244,637.2 256.1,634.1 244.2,637 232.1,640.2" fill="rgb(104,237,17)" stroke="rgb(16,36,3)" stroke-width="0.6" stroke-linejoin="round"/>
<polygon points="292.4,626.3 304.5,623.1 292.4,625.1 280.3,628.4" fill="rgb(177,249,0)" stroke="rgb(26,37,0)" stroke-width="0.6" stroke-linejoin="round"/>
<polygon points="316.6,621.4 328.8,618.1 316.7,619.7 304.5,623.1" fill="rgb(203,247,0)" stroke="rgb(31,37,0)" stroke-width="0.6" stroke-linejoin="round"/>
<polygon points="414.2,605.8 426.4,602.2 414.2,602 402,605.6" fill="rgb(248,188,0)" stroke="rgb(37,28,0)" stroke-width="0.6" stroke-linejoin="round"/>
<polygon points="438.7,602.9 450.9,599.2 438.6,598.5 426.4,602.2" fill="rgb(250,170,0)" stroke="rgb(38,25,0)" stroke-width="0.6" stroke-linejoin="round"/>
<polygon points="268.2,631.5 280.3,628.4 268.3,630.9 256.1,634.1" fill="rgb(146,249,1)" stroke="rgb(22,37,0)" stroke-width="0.6" stroke-linejoin="round"/>
<polygon points="341,616.9 353.1,613.5 341,614.7 328.8,618.1" fill="rgb(228,246,0)" stroke="rgb(34,37,0)" stroke-width="0.6" stroke-linejoin="round"/>
<polygon points="365.3,612.8 377.5,609.4 365.3,610.1 353.1,613.5" fill="rgb(242,233,0)" stroke="rgb(36,35,0)" stroke-width="0.6" stroke-linejoin="round"/>
<polygon points="389.8,609.1 402,605.6 389.7,605.8 377.5,609.4" fill="rgb(245,209,0)" stroke="rgb(37,31,0)" stroke-width="0.6" stroke-linejoin="round"/>
<polygon points="304.5,624.5 316.6,621.4 304.5,623.1 292.4,626.3" fill="rgb(203,247,0)" stroke="rgb(30,37,0)" stroke-width="0.6" stroke-linejoin="round"/>
<polygon points="231.9,640.1 244,637.2 232.1,640.2 220,643.2" fill="rgb(105,237,17)" stroke="rgb(16,36,3)" stroke-width="0.6" stroke-linejoin="round"/>
<polygon points="256,634.5 268.2,631.5 256.1,634.1 244,637.2" fill="rgb(147,249,1)" stroke="rgb(22,37,0)" stroke-width="0.6" stroke-linejoin="round"/>
<polygon points="280.2,629.3 292.4,626.3 280.3,628.4 268.2,631.5" fill="rgb(176,249,0)" stroke="rgb(26,37,0)" stroke-width="0.6" stroke-linejoin="round"/>
<polygon points="328.8,620.1 341,616.9 328.8,618.1 316.6,621.4" fill="rgb(227,246,0)" stroke="rgb(34,37,0)" stroke-width="0.6" stroke-linejoin="round"/>
<polygon points="353.2,616.1 365.3,612.8 353.1,613.5 341,616.9" fill="rgb(241,234,0)" stroke="rgb(36,35,0)" stroke-width="0.6" stroke-linejoin="round"/>
<polygon points="377.6,612.4 389.8,609.1 377.5,609.4 365.3,612.8" fill="rgb(245,211,0)" stroke="rgb(37,32,0)" stroke-width="0.6" stroke-linejoin="round"/>
<polygon points="402,609.2 414.2,605.8 402,605.6 389.8,609.1" fill="rgb(248,190,0)" stroke="rgb(37,28,0)" stroke-width="0.6" stroke-linejoin="round"/>
<polygon points="426.5,606.4 438.7,602.9 426.4,602.2 414.2,605.8" fill="rgb(250,172,0)" stroke="rgb(37,26,0)" stroke-width="0.6" stroke-linejoin="round"/>
<polygon points="450.9,603.9 463.2,600.3 450.9,599.2 438.7,602.9" fill="rgb(252,157,0)" stroke="rgb(38,24,0)" stroke-width="0.6" stroke-linejoin="round"/>
<polygon points="316.6,623.1 328.8,620.1 316.6,621.4 304.5,624.5" fill="rgb(227,246,0)" stroke="rgb(34,37,0)" stroke-width="0.6" stroke-linejoin="round"/>
<polygon points="365.4,615.6 377.6,612.4 365.3,612.8 353.2,616.1" fill="rgb(245,211,0)" stroke="rgb(37,32,0)" stroke-width="0.6" stroke-linejoin="round"/>
<polygon points="219.8,642.9 231.9,640.1 220,643.2 207.9,646.1" fill="rgb(107,237,16)" stroke="rgb(16,36,2)" stroke-width="0.6" stroke-linejoin="round"/>
<polygon points="243.9,637.3 256,634.5 244,637.2 231.9,640.1" fill="rgb(148,249,1)" stroke="rgb(22,37,0)" stroke-width="0.6" stroke-linejoin="round"/>
<polygon points="268.1,632.2 280.2,629.3 268.2,631.5 256,634.5" fill="rgb(177,248,0)" stroke="rgb(27,37,0)" stroke-width="0.6" stroke-linejoin="round"/>
<polygon points="292.3,627.5 304.5,624.5 292.4,626.3 280.2,629.3" fill="rgb(203,247,0)" stroke="rgb(30,37,0)" stroke-width="0.6" stroke-linejoin="round"/>
<polygon points="341,619.2 353.2,616.1 341,616.9 328.8,620.1" fill="rgb(241,234,0)" stroke="rgb(36,35,0)" stroke-width="0.6" stroke-linejoin="round"/>
<polygon points="389.8,612.5 402,609.2 389.8,609.1 377.6,612.4" fill="rgb(247,191,0)" stroke="rgb(37,29,0)" stroke-width="0.6" stroke-linejoin="round"/>
<polygon points="414.2,609.7 426.5,606.4 414.2,605.8 402,609.2" fill="rgb(250,173,0)" stroke="rgb(37,26,0)" stroke-width="0.6" stroke-linejoin="round"/>
<polygon points="463.2,605.4 475.4,601.9 463.2,600.3 450.9,603.9" fill="rgb(253,147,0)" stroke="rgb(38,22,0)" stroke-width="0.6" stroke-linejoin="round"/>
<polygon points="438.7,607.4 450.9,603.9 438.7,602.9 426.5,606.4" fill="rgb(252,159,0)" stroke="rgb(38,24,0)" stroke-width="0.6" stroke-linejoin="round"/>
<polygon points="280.2,630.3 292.3,627.5 280.2,629.3 268.1,632.2" fill="rgb(204,247,0)" stroke="rgb(31,37,0)" stroke-width="0.6" stroke-linejoin="round"/>
<polygon points="377.6,615.6 389.8,612.5 377.6,612.4 365.4,615.6" fill="rgb(247,191,0)" stroke="rgb(37,29,0)" stroke-width="0.6" stroke-linejoin="round"/>
<polygon points="402,612.9 414.2,609.7 402,609.2 389.8,612.5" fill="rgb(250,174,0)" stroke="rgb(37,26,0)" stroke-width="0.6" stroke-linejoin="round"/>
<polygon points="475.5,607.3 487.7,603.8 475.4,601.9 463.2,605.4" fill="rgb(254,140,0)" stroke="rgb(38,21,0)" stroke-width="0.6" stroke-linejoin="round"/>
<polygon points="207.7,645.5 219.8,642.9 207.9,646.1 195.8,648.8" fill="rgb(109,238,15)" stroke="rgb(16,36,2)" stroke-width="0.6" stroke-linejoin="round"/>
<polygon points="231.8,640 243.9,637.3 231.9,640.1 219.8,642.9" fill="rgb(150,250,0)" stroke="rgb(23,37,0)" stroke-width="0.6" stroke-linejoin="round"/>
<polygon points="255.9,635 268.1,632.2 256,634.5 243.9,637.3" fill="rgb(178,248,0)" stroke="rgb(27,37,0)" stroke-width="0.6" stroke-linejoin="round"/>
<polygon points="304.5,626 316.6,623.1 304.5,624.5 292.3,627.5" fill="rgb(228,246,0)" stroke="rgb(34,37,0)" stroke-width="0.6" stroke-linejoin="round"/>
<polygon points="328.8,622.2 341,619.2 328.8,620.1 316.6,623.1" fill="rgb(242,234,0)" stroke="rgb(36,35,0)" stroke-width="0.6" stroke-linejoin="round"/>
<polygon points="353.2,618.7 365.4,615.6 353.2,616.1 341,619.2" fill="rgb(245,211,0)" stroke="rgb(37,32,0)" stroke-width="0.6" stroke-linejoin="round"/>
<polygon points="426.5,610.7 438.7,607.4 426.5,606.4 414.2,609.7" fill="rgb(252,159,0)" stroke="rgb(38,24,0)" stroke-width="0.6" stroke-linejoin="round"/>
<polygon points="451,608.8 463.2,605.4 450.9,603.9 438.7,607.4" fill="rgb(253,148,0)" stroke="rgb(38,22,0)" stroke-width="0.6" stroke-linejoin="round"/>
<polygon points="195.5,647.9 207.7,645.5 195.8,648.8 183.7,651.3" fill="rgb(113,239,14)" stroke="rgb(17,36,2)" stroke-width="0.6" stroke-linejoin="round"/>
<polygon points="219.6,642.6 231.8,640 219.8,642.9 207.7,645.5" fill="rgb(153,250,0)" stroke="rgb(23,37,0)" stroke-width="0.6" stroke-linejoin="round"/>
<polygon points="243.8,637.6 255.9,635 243.9,637.3 231.8,640" fill="rgb(181,248,0)" stroke="rgb(27,37,0)" stroke-width="0.6" stroke-linejoin="round"/>
<polygon points="268,633 280.2,630.3 268.1,632.2 255.9,635" fill="rgb(206,247,0)" stroke="rgb(31,37,0)" stroke-width="0.6" stroke-linejoin="round"/>
<polygon points="292.3,628.8 304.5,626 292.3,627.5 280.2,630.3" fill="rgb(229,246,0)" stroke="rgb(34,37,0)" stroke-width="0.6" stroke-linejoin="round"/>
<polygon points="316.6,625 328.8,622.2 316.6,623.1 304.5,626" fill="rgb(242,232,0)" stroke="rgb(36,35,0)" stroke-width="0.6" stroke-linejoin="round"/>
<polygon points="341,621.6 353.2,618.7 341,619.2 328.8,622.2" fill="rgb(245,210,0)" stroke="rgb(37,31,0)" stroke-width="0.6" stroke-linejoin="round"/>
<polygon points="389.8,616 402,612.9 389.8,612.5 377.6,615.6" fill="rgb(250,173,0)" stroke="rgb(37,26,0)" stroke-width="0.6" stroke-linejoin="round"/>
<polygon points="414.3,613.8 426.5,610.7 414.2,609.7 402,612.9" fill="rgb(252,159,0)" stroke="rgb(38,24,0)" stroke-width="0.6" stroke-linejoin="round"/>
<polygon points="438.8,612 451,608.8 438.7,607.4 426.5,610.7" fill="rgb(253,148,0)" stroke="rgb(38,22,0)" stroke-width="0.6" stroke-linejoin="round"/>
<polygon points="463.2,610.6 475.5,607.3 463.2,605.4 451,608.8" fill="rgb(254,140,0)" stroke="rgb(38,21,0)" stroke-width="0.6" stroke-linejoin="round"/>
<polygon points="365.4,618.6 377.6,615.6 365.4,615.6 353.2,618.7" fill="rgb(247,190,0)" stroke="rgb(37,29,0)" stroke-width="0.6" stroke-linejoin="round"/>
<polygon points="487.7,609.7 499.9,606.2 487.7,603.8 475.5,607.3" fill="rgb(255,135,0)" stroke="rgb(38,20,0)" stroke-width="0.6" stroke-linejoin="round"/>
<polygon points="183.4,650.3 195.5,647.9 183.7,651.3 171.5,653.7" fill="rgb(117,240,12)" stroke="rgb(18,36,2)" stroke-width="0.6" stroke-linejoin="round"/>
<polygon points="207.5,644.9 219.6,642.6 207.7,645.5 195.5,647.9" fill="rgb(156,250,0)" stroke="rgb(23,37,0)" stroke-width="0.6" stroke-linejoin="round"/>
<polygon points="231.6,640 243.8,637.6 231.8,640 219.6,642.6" fill="rgb(183,248,0)" stroke="rgb(28,37,0)" stroke-width="0.6" stroke-linejoin="round"/>
<polygon points="255.8,635.5 268,633 255.9,635 243.8,637.6" fill="rgb(209,247,0)" stroke="rgb(31,37,0)" stroke-width="0.6" stroke-linejoin="round"/>
<polygon points="280.1,631.4 292.3,628.8 280.2,630.3 268,633" fill="rgb(232,245,0)" stroke="rgb(35,37,0)" stroke-width="0.6" stroke-linejoin="round"/>
<polygon points="304.4,627.7 316.6,625 304.5,626 292.3,628.8" fill="rgb(242,230,0)" stroke="rgb(36,34,0)" stroke-width="0.6" stroke-linejoin="round"/>
<polygon points="353.2,621.4 365.4,618.6 353.2,618.7 341,621.6" fill="rgb(248,188,0)" stroke="rgb(37,28,0)" stroke-width="0.6" stroke-linejoin="round"/>
<polygon points="377.6,618.9 389.8,616 377.6,615.6 365.4,618.6" fill="rgb(250,172,0)" stroke="rgb(37,26,0)" stroke-width="0.6" stroke-linejoin="round"/>
<polygon points="426.5,615.1 438.8,612 426.5,610.7 414.3,613.8" fill="rgb(253,148,0)" stroke="rgb(38,22,0)" stroke-width="0.6" stroke-linejoin="round"/>
<polygon points="451,613.8 463.2,610.6 451,608.8 438.8,612" fill="rgb(254,140,0)" stroke="rgb(38,21,0)" stroke-width="0.6" stroke-linejoin="round"/>
<polygon points="475.5,612.9 487.7,609.7 475.5,607.3 463.2,610.6" fill="rgb(255,135,0)" stroke="rgb(38,20,0)" stroke-width="0.6" stroke-linejoin="round"/>
<polygon points="499.9,612.4 512.2,609.1 499.9,606.2 487.7,609.7" fill="rgb(255,133,0)" stroke="rgb(38,20,0)" stroke-width="0.6" stroke-linejoin="round"/>
<polygon points="328.8,624.3 341,621.6 328.8,622.2 316.6,625" fill="rgb(245,208,0)" stroke="rgb(37,31,0)" stroke-width="0.6" stroke-linejoin="round"/>
<polygon points="402.1,616.8 414.3,613.8 402,612.9 389.8,616" fill="rgb(252,158,0)" stroke="rgb(38,24,0)" stroke-width="0.6" stroke-linejoin="round"/>
<polygon points="512.2,615.7 524.4,612.4 512.2,609.1 499.9,612.4" fill="rgb(255,134,0)" stroke="rgb(38,20,0)" stroke-width="0.6" stroke-linejoin="round"/>
<polygon points="171.2,652.4 183.4,650.3 171.5,653.7 159.4,656" fill="rgb(123,242,10)" stroke="rgb(18,36,2)" stroke-width="0.6" stroke-linejoin="round"/>
<polygon points="195.3,647.2 207.5,644.9 195.5,647.9 183.4,650.3" fill="rgb(160,249,0)" stroke="rgb(24,37,0)" stroke-width="0.6" stroke-linejoin="round"/>
<polygon points="219.4,642.3 231.6,640 219.6,642.6 207.5,644.9" fill="rgb(187,248,0)" stroke="rgb(28,37,0)" stroke-width="0.6" stroke-linejoin="round"/>
<polygon points="243.7,637.9 255.8,635.5 243.8,637.6 231.6,640" fill="rgb(212,247,0)" stroke="rgb(32,37,0)" stroke-width="0.6" stroke-linejoin="round"/>
<polygon points="267.9,633.8 280.1,631.4 268,633 255.8,635.5" fill="rgb(235,245,0)" stroke="rgb(35,37,0)" stroke-width="0.6" stroke-linejoin="round"/>
<polygon points="292.2,630.2 304.4,627.7 292.3,628.8 280.1,631.4" fill="rgb(243,227,0)" stroke="rgb(36,34,0)" stroke-width="0.6" stroke-linejoin="round"/>
<polygon points="316.6,626.9 328.8,624.3 316.6,625 304.4,627.7" fill="rgb(245,205,0)" stroke="rgb(37,31,0)" stroke-width="0.6" stroke-linejoin="round"/>
<polygon points="341,624.1 353.2,621.4 341,621.6 328.8,624.3" fill="rgb(248,186,0)" stroke="rgb(37,28,0)" stroke-width="0.6" stroke-linejoin="round"/>
<polygon points="365.4,621.7 377.6,618.9 365.4,618.6 353.2,621.4" fill="rgb(250,170,0)" stroke="rgb(38,25,0)" stroke-width="0.6" stroke-linejoin="round"/>
<polygon points="389.9,619.6 402.1,616.8 389.8,616 377.6,618.9" fill="rgb(252,156,0)" stroke="rgb(38,23,0)" stroke-width="0.6" stroke-linejoin="round"/>
<polygon points="414.3,618 426.5,615.1 414.3,613.8 402.1,616.8" fill="rgb(253,146,0)" stroke="rgb(38,22,0)" stroke-width="0.6" stroke-linejoin="round"/>
<polygon points="438.8,616.8 451,613.8 438.8,612 426.5,615.1" fill="rgb(254,139,0)" stroke="rgb(38,21,0)" stroke-width="0.6" stroke-linejoin="round"/>
<polygon points="463.3,616 475.5,612.9 463.2,610.6 451,613.8" fill="rgb(255,134,0)" stroke="rgb(38,20,0)" stroke-width="0.6" stroke-linejoin="round"/>
<polygon points="487.7,615.6 499.9,612.4 487.7,609.7 475.5,612.9" fill="rgb(254,133,0)" stroke="rgb(38,20,0)" stroke-width="0.6" stroke-linejoin="round"/>
<polygon points="159.1,654.4 171.2,652.4 159.4,656 147.3,658" fill="rgb(129,244,8)" stroke="rgb(19,37,1)" stroke-width="0.6" stroke-linejoin="round"/>
<polygon points="183.1,649.2 195.3,647.2 183.4,650.3 171.2,652.4" fill="rgb(164,249,0)" stroke="rgb(25,37,0)" stroke-width="0.6" stroke-linejoin="round"/>
<polygon points="231.5,640.1 243.7,637.9 231.6,640 219.4,642.3" fill="rgb(216,246,0)" stroke="rgb(32,37,0)" stroke-width="0.6" stroke-linejoin="round"/>
<polygon points="255.7,636.1 267.9,633.8 255.8,635.5 243.7,637.9" fill="rgb(239,245,0)" stroke="rgb(36,37,0)" stroke-width="0.6" stroke-linejoin="round"/>
<polygon points="304.4,629.4 316.6,626.9 304.4,627.7 292.2,630.2" fill="rgb(246,201,0)" stroke="rgb(37,30,0)" stroke-width="0.6" stroke-linejoin="round"/>
<polygon points="328.8,626.6 341,624.1 328.8,624.3 316.6,626.9" fill="rgb(249,182,0)" stroke="rgb(37,27,0)" stroke-width="0.6" stroke-linejoin="round"/>
<polygon points="353.2,624.3 365.4,621.7 353.2,621.4 341,624.1" fill="rgb(251,167,0)" stroke="rgb(38,25,0)" stroke-width="0.6" stroke-linejoin="round"/>
<polygon points="377.6,622.3 389.9,619.6 377.6,618.9 365.4,621.7" fill="rgb(252,154,0)" stroke="rgb(38,23,0)" stroke-width="0.6" stroke-linejoin="round"/>
<polygon points="426.6,619.7 438.8,616.8 426.5,615.1 414.3,618" fill="rgb(255,137,0)" stroke="rgb(38,21,0)" stroke-width="0.6" stroke-linejoin="round"/>
<polygon points="475.5,618.7 487.7,615.6 475.5,612.9 463.3,616" fill="rgb(254,131,0)" stroke="rgb(38,20,0)" stroke-width="0.6" stroke-linejoin="round"/>
<polygon points="499.9,618.8 512.2,615.7 499.9,612.4 487.7,615.6" fill="rgb(255,133,0)" stroke="rgb(38,20,0)" stroke-width="0.6" stroke-linejoin="round"/>
<polygon points="207.3,644.4 219.4,642.3 207.5,644.9 195.3,647.2" fill="rgb(191,248,0)" stroke="rgb(29,37,0)" stroke-width="0.6" stroke-linejoin="round"/>
<polygon points="280,632.5 292.2,630.2 280.1,631.4 267.9,633.8" fill="rgb(243,222,0)" stroke="rgb(36,33,0)" stroke-width="0.6" stroke-linejoin="round"/>
<polygon points="402.1,620.8 414.3,618 402.1,616.8 389.9,619.6" fill="rgb(254,144,0)" stroke="rgb(38,22,0)" stroke-width="0.6" stroke-linejoin="round"/>
<polygon points="451,619 463.3,616 451,613.8 438.8,616.8" fill="rgb(254,132,0)" stroke="rgb(38,20,0)" stroke-width="0.6" stroke-linejoin="round"/>
<polygon points="524.4,619.4 536.6,616.1 524.4,612.4 512.2,615.7" fill="rgb(255,138,0)" stroke="rgb(38,21,0)" stroke-width="0.6" stroke-linejoin="round"/>
<polygon points="146.9,656.2 159.1,654.4 147.3,658 135.1,660" fill="rgb(137,246,5)" stroke="rgb(21,37,1)" stroke-width="0.6" stroke-linejoin="round"/>
<polygon points="195.1,646.4 207.3,644.4 195.3,647.2 183.1,649.2" fill="rgb(196,247,0)" stroke="rgb(29,37,0)" stroke-width="0.6" stroke-linejoin="round"/>
<polygon points="219.3,642.1 231.5,640.1 219.4,642.3 207.3,644.4" fill="rgb(221,246,0)" stroke="rgb(33,37,0)" stroke-width="0.6" stroke-linejoin="round"/>
<polygon points="243.5,638.2 255.7,636.1 243.7,637.9 231.5,640.1" fill="rgb(240,241,0)" stroke="rgb(36,36,0)" stroke-width="0.6" stroke-linejoin="round"/>
<polygon points="316.6,629 328.8,626.6 316.6,626.9 304.4,629.4" fill="rgb(249,178,0)" stroke="rgb(37,27,0)" stroke-width="0.6" stroke-linejoin="round"/>
<polygon points="341,626.7 353.2,624.3 341,624.1 328.8,626.6" fill="rgb(251,162,0)" stroke="rgb(38,24,0)" stroke-width="0.6" stroke-linejoin="round"/>
<polygon points="389.9,623.4 402.1,620.8 389.9,619.6 377.6,622.3" fill="rgb(254,140,0)" stroke="rgb(38,21,0)" stroke-width="0.6" stroke-linejoin="round"/>
<polygon points="414.4,622.4 426.6,619.7 414.3,618 402.1,620.8" fill="rgb(255,134,0)" stroke="rgb(38,20,0)" stroke-width="0.6" stroke-linejoin="round"/>
<polygon points="438.8,621.8 451,619 438.8,616.8 426.6,619.7" fill="rgb(254,130,0)" stroke="rgb(38,19,0)" stroke-width="0.6" stroke-linejoin="round"/>
<polygon points="487.7,621.8 499.9,618.8 487.7,615.6 475.5,618.7" fill="rgb(254,131,0)" stroke="rgb(38,20,0)" stroke-width="0.6" stroke-linejoin="round"/>
<polygon points="536.5,623.5 548.8,620.3 536.6,616.1 524.4,619.4" fill="rgb(254,144,0)" stroke="rgb(38,22,0)" stroke-width="0.6" stroke-linejoin="round"/>
<polygon points="171,651.1 183.1,649.2 171.2,652.4 159.1,654.4" fill="rgb(170,249,0)" stroke="rgb(25,37,0)" stroke-width="0.6" stroke-linejoin="round"/>
<polygon points="267.8,634.7 280,632.5 267.9,633.8 255.7,636.1" fill="rgb(244,217,0)" stroke="rgb(37,33,0)" stroke-width="0.6" stroke-linejoin="round"/>
<polygon points="292.2,631.6 304.4,629.4 292.2,630.2 280,632.5" fill="rgb(247,196,0)" stroke="rgb(37,29,0)" stroke-width="0.6" stroke-linejoin="round"/>
<polygon points="365.4,624.9 377.6,622.3 365.4,621.7 353.2,624.3" fill="rgb(253,150,0)" stroke="rgb(38,22,0)" stroke-width="0.6" stroke-linejoin="round"/>
<polygon points="463.3,621.6 475.5,618.7 463.3,616 451,619" fill="rgb(254,129,0)" stroke="rgb(38,19,0)" stroke-width="0.6" stroke-linejoin="round"/>
<polygon points="512.2,622.5 524.4,619.4 512.2,615.7 499.9,618.8" fill="rgb(255,136,0)" stroke="rgb(38,20,0)" stroke-width="0.6" stroke-linejoin="round"/>
<polygon points="134.7,657.9 146.9,656.2 135.1,660 122.9,661.7" fill="rgb(146,249,2)" stroke="rgb(22,37,0)" stroke-width="0.6" stroke-linejoin="round"/>
<polygon points="158.8,652.9 171,651.1 159.1,654.4 146.9,656.2" fill="rgb(176,249,0)" stroke="rgb(26,37,0)" stroke-width="0.6" stroke-linejoin="round"/>
<polygon points="182.9,648.2 195.1,646.4 183.1,649.2 171,651.1" fill="rgb(202,247,0)" stroke="rgb(30,37,0)" stroke-width="0.6" stroke-linejoin="round"/>
<polygon points="207.1,644 219.3,642.1 207.3,644.4 195.1,646.4" fill="rgb(226,246,0)" stroke="rgb(34,37,0)" stroke-width="0.6" stroke-linejoin="round"/>
<polygon points="231.3,640.2 243.5,638.2 231.5,640.1 219.3,642.1" fill="rgb(241,235,0)" stroke="rgb(36,35,0)" stroke-width="0.6" stroke-linejoin="round"/>
<polygon points="255.6,636.7 267.8,634.7 255.7,636.1 243.5,638.2" fill="rgb(245,211,0)" stroke="rgb(37,32,0)" stroke-width="0.6" stroke-linejoin="round"/>
<polygon points="280,633.7 292.2,631.6 280,632.5 267.8,634.7" fill="rgb(247,190,0)" stroke="rgb(37,29,0)" stroke-width="0.6" stroke-linejoin="round"/>
<polygon points="304.3,631.2 316.6,629 304.4,629.4 292.2,631.6" fill="rgb(250,172,0)" stroke="rgb(37,26,0)" stroke-width="0.6" stroke-linejoin="round"/>
<polygon points="328.8,629 341,626.7 328.8,626.6 316.6,629" fill="rgb(252,157,0)" stroke="rgb(38,24,0)" stroke-width="0.6" stroke-linejoin="round"/>
<polygon points="353.2,627.2 365.4,624.9 353.2,624.3 341,626.7" fill="rgb(254,145,0)" stroke="rgb(38,22,0)" stroke-width="0.6" stroke-linejoin="round"/>
<polygon points="377.7,625.9 389.9,623.4 377.6,622.3 365.4,624.9" fill="rgb(255,136,0)" stroke="rgb(38,20,0)" stroke-width="0.6" stroke-linejoin="round"/>
<polygon points="402.1,625 414.4,622.4 402.1,620.8 389.9,623.4" fill="rgb(254,130,0)" stroke="rgb(38,19,0)" stroke-width="0.6" stroke-linejoin="round"/>
<polygon points="426.6,624.4 438.8,621.8 426.6,619.7 414.4,622.4" fill="rgb(253,126,0)" stroke="rgb(38,19,0)" stroke-width="0.6" stroke-linejoin="round"/>
<polygon points="451.1,624.4 463.3,621.6 451,619 438.8,621.8" fill="rgb(253,125,0)" stroke="rgb(38,19,0)" stroke-width="0.6" stroke-linejoin="round"/>
<polygon points="475.5,624.7 487.7,621.8 475.5,618.7 463.3,621.6" fill="rgb(253,128,0)" stroke="rgb(38,19,0)" stroke-width="0.6" stroke-linejoin="round"/>
<polygon points="499.9,625.4 512.2,622.5 499.9,618.8 487.7,621.8" fill="rgb(255,133,0)" stroke="rgb(38,20,0)" stroke-width="0.6" stroke-linejoin="round"/>
<polygon points="524.3,626.6 536.5,623.5 524.4,619.4 512.2,622.5" fill="rgb(254,142,0)" stroke="rgb(38,21,0)" stroke-width="0.6" stroke-linejoin="round"/>
<polygon points="548.7,628.1 560.9,625 548.8,620.3 536.5,623.5" fill="rgb(253,153,0)" stroke="rgb(38,23,0)" stroke-width="0.6" stroke-linejoin="round"/>
<polygon points="122.5,659.4 134.7,657.9 122.9,661.7 110.8,663.3" fill="rgb(154,250,0)" stroke="rgb(23,37,0)" stroke-width="0.6" stroke-linejoin="round"/>
<polygon points="219.1,642 231.3,640.2 219.3,642.1 207.1,644" fill="rgb(242,228,0)" stroke="rgb(36,34,0)" stroke-width="0.6" stroke-linejoin="round"/>
<polygon points="267.7,635.7 280,633.7 267.8,634.7 255.6,636.7" fill="rgb(248,184,0)" stroke="rgb(37,28,0)" stroke-width="0.6" stroke-linejoin="round"/>
<polygon points="463.3,627.4 475.5,624.7 463.3,621.6 451.1,624.4" fill="rgb(253,124,0)" stroke="rgb(38,19,0)" stroke-width="0.6" stroke-linejoin="round"/>
<polygon points="146.6,654.4 158.8,652.9 146.9,656.2 134.7,657.9" fill="rgb(182,248,0)" stroke="rgb(27,37,0)" stroke-width="0.6" stroke-linejoin="round"/>
<polygon points="170.7,649.9 182.9,648.2 171,651.1 158.8,652.9" fill="rgb(209,247,0)" stroke="rgb(31,37,0)" stroke-width="0.6" stroke-linejoin="round"/>
<polygon points="194.9,645.7 207.1,644 195.1,646.4 182.9,648.2" fill="rgb(233,245,0)" stroke="rgb(35,37,0)" stroke-width="0.6" stroke-linejoin="round"/>
<polygon points="243.4,638.6 255.6,636.7 243.5,638.2 231.3,640.2" fill="rgb(246,204,0)" stroke="rgb(37,31,0)" stroke-width="0.6" stroke-linejoin="round"/>
<polygon points="292.1,633.2 304.3,631.2 292.2,631.6 280,633.7" fill="rgb(251,166,0)" stroke="rgb(38,25,0)" stroke-width="0.6" stroke-linejoin="round"/>
<polygon points="316.5,631.1 328.8,629 316.6,629 304.3,631.2" fill="rgb(253,152,0)" stroke="rgb(38,23,0)" stroke-width="0.6" stroke-linejoin="round"/>
<polygon points="341,629.4 353.2,627.2 341,626.7 328.8,629" fill="rgb(254,140,0)" stroke="rgb(38,21,0)" stroke-width="0.6" stroke-linejoin="round"/>
<polygon points="365.4,628.2 377.7,625.9 365.4,624.9 353.2,627.2" fill="rgb(254,131,0)" stroke="rgb(38,20,0)" stroke-width="0.6" stroke-linejoin="round"/>
<polygon points="389.9,627.3 402.1,625 389.9,623.4 377.7,625.9" fill="rgb(253,125,0)" stroke="rgb(38,19,0)" stroke-width="0.6" stroke-linejoin="round"/>
<polygon points="414.4,626.9 426.6,624.4 414.4,622.4 402.1,625" fill="rgb(252,121,0)" stroke="rgb(38,18,0)" stroke-width="0.6" stroke-linejoin="round"/>
<polygon points="438.8,626.9 451.1,624.4 438.8,621.8 426.6,624.4" fill="rgb(252,121,0)" stroke="rgb(38,18,0)" stroke-width="0.6" stroke-linejoin="round"/>
<polygon points="487.7,628.2 499.9,625.4 487.7,621.8 475.5,624.7" fill="rgb(254,130,0)" stroke="rgb(38,19,0)" stroke-width="0.6" stroke-linejoin="round"/>
<polygon points="512.1,629.5 524.3,626.6 512.2,622.5 499.9,625.4" fill="rgb(255,139,0)" stroke="rgb(38,21,0)" stroke-width="0.6" stroke-linejoin="round"/>
<polygon points="536.5,631.1 548.7,628.1 536.5,623.5 524.3,626.6" fill="rgb(253,150,0)" stroke="rgb(38,23,0)" stroke-width="0.6" stroke-linejoin="round"/>
<polygon points="560.8,633.2 573,630.1 560.9,625 548.7,628.1" fill="rgb(251,164,0)" stroke="rgb(38,25,0)" stroke-width="0.6" stroke-linejoin="round"/>
<polygon points="182.6,647.2 194.9,645.7 182.9,648.2 170.7,649.9" fill="rgb(240,245,0)" stroke="rgb(36,37,0)" stroke-width="0.6" stroke-linejoin="round"/>
<polygon points="279.9,635 292.1,633.2 280,633.7 267.7,635.7" fill="rgb(252,159,0)" stroke="rgb(38,24,0)" stroke-width="0.6" stroke-linejoin="round"/>
<polygon points="377.7,629.6 389.9,627.3 377.7,625.9 365.4,628.2" fill="rgb(251,119,0)" stroke="rgb(38,18,0)" stroke-width="0.6" stroke-linejoin="round"/>
<polygon points="451.1,629.9 463.3,627.4 451.1,624.4 438.8,626.9" fill="rgb(252,119,0)" stroke="rgb(38,18,0)" stroke-width="0.6" stroke-linejoin="round"/>
<polygon points="475.5,630.8 487.7,628.2 475.5,624.7 463.3,627.4" fill="rgb(253,125,0)" stroke="rgb(38,19,0)" stroke-width="0.6" stroke-linejoin="round"/>
<polygon points="572.9,638.8 585.1,635.7 573,630.1 560.8,633.2" fill="rgb(249,179,0)" stroke="rgb(37,27,0)" stroke-width="0.6" stroke-linejoin="round"/>
<polygon points="110.3,660.7 122.5,659.4 110.8,663.3 98.6,664.8" fill="rgb(162,249,0)" stroke="rgb(24,37,0)" stroke-width="0.6" stroke-linejoin="round"/>
<polygon points="134.3,655.8 146.6,654.4 134.7,657.9 122.5,659.4" fill="rgb(190,248,0)" stroke="rgb(29,37,0)" stroke-width="0.6" stroke-linejoin="round"/>
<polygon points="158.4,651.3 170.7,649.9 158.8,652.9 146.6,654.4" fill="rgb(216,246,0)" stroke="rgb(32,37,0)" stroke-width="0.6" stroke-linejoin="round"/>
<polygon points="206.9,643.6 219.1,642 207.1,644 194.9,645.7" fill="rgb(243,220,0)" stroke="rgb(37,33,0)" stroke-width="0.6" stroke-linejoin="round"/>
<polygon points="231.2,640.3 243.4,638.6 231.3,640.2 219.1,642" fill="rgb(247,196,0)" stroke="rgb(37,29,0)" stroke-width="0.6" stroke-linejoin="round"/>
<polygon points="255.5,637.5 267.7,635.7 255.6,636.7 243.4,638.6" fill="rgb(249,176,0)" stroke="rgb(37,26,0)" stroke-width="0.6" stroke-linejoin="round"/>
<polygon points="304.3,633 316.5,631.1 304.3,631.2 292.1,633.2" fill="rgb(254,145,0)" stroke="rgb(38,22,0)" stroke-width="0.6" stroke-linejoin="round"/>
<polygon points="328.8,631.5 341,629.4 328.8,629 316.5,631.1" fill="rgb(255,133,0)" stroke="rgb(38,20,0)" stroke-width="0.6" stroke-linejoin="round"/>
<polygon points="353.2,630.3 365.4,628.2 353.2,627.2 341,629.4" fill="rgb(253,124,0)" stroke="rgb(38,19,0)" stroke-width="0.6" stroke-linejoin="round"/>
<polygon points="402.2,629.2 414.4,626.9 402.1,625 389.9,627.3" fill="rgb(251,116,0)" stroke="rgb(38,17,0)" stroke-width="0.6" stroke-linejoin="round"/>
<polygon points="426.6,629.4 438.8,626.9 426.6,624.4 414.4,626.9" fill="rgb(251,116,0)" stroke="rgb(38,17,0)" stroke-width="0.6" stroke-linejoin="round"/>
<polygon points="499.9,632.2 512.1,629.5 499.9,625.4 487.7,628.2" fill="rgb(255,135,0)" stroke="rgb(38,20,0)" stroke-width="0.6" stroke-linejoin="round"/>
<polygon points="524.3,634 536.5,631.1 524.3,626.6 512.1,629.5" fill="rgb(253,147,0)" stroke="rgb(38,22,0)" stroke-width="0.6" stroke-linejoin="round"/>
<polygon points="548.6,636.2 560.8,633.2 548.7,628.1 536.5,631.1" fill="rgb(251,161,0)" stroke="rgb(38,24,0)" stroke-width="0.6" stroke-linejoin="round"/>
<polygon points="98.1,661.9 110.3,660.7 98.6,664.8 86.4,666" fill="rgb(170,249,0)" stroke="rgb(26,37,0)" stroke-width="0.6" stroke-linejoin="round"/>
<polygon points="170.4,648.6 182.6,647.2 170.7,649.9 158.4,651.3" fill="rgb(241,236,0)" stroke="rgb(36,35,0)" stroke-width="0.6" stroke-linejoin="round"/>
<polygon points="194.6,645 206.9,643.6 194.9,645.7 182.6,647.2" fill="rgb(245,210,0)" stroke="rgb(37,32,0)" stroke-width="0.6" stroke-linejoin="round"/>
<polygon points="267.7,636.7 279.9,635 267.7,635.7 255.5,637.5" fill="rgb(253,151,0)" stroke="rgb(38,23,0)" stroke-width="0.6" stroke-linejoin="round"/>
<polygon points="292.1,634.8 304.3,633 292.1,633.2 279.9,635" fill="rgb(255,137,0)" stroke="rgb(38,21,0)" stroke-width="0.6" stroke-linejoin="round"/>
<polygon points="365.5,631.6 377.7,629.6 365.4,628.2 353.2,630.3" fill="rgb(250,112,0)" stroke="rgb(37,17,0)" stroke-width="0.6" stroke-linejoin="round"/>
<polygon points="389.9,631.4 402.2,629.2 389.9,627.3 377.7,629.6" fill="rgb(249,109,0)" stroke="rgb(37,16,0)" stroke-width="0.6" stroke-linejoin="round"/>
<polygon points="463.3,633.3 475.5,630.8 463.3,627.4 451.1,629.9" fill="rgb(252,120,0)" stroke="rgb(38,18,0)" stroke-width="0.6" stroke-linejoin="round"/>
<polygon points="487.7,634.8 499.9,632.2 487.7,628.2 475.5,630.8" fill="rgb(254,130,0)" stroke="rgb(38,19,0)" stroke-width="0.6" stroke-linejoin="round"/>
<polygon points="536.4,639 548.6,636.2 536.5,631.1 524.3,634" fill="rgb(252,157,0)" stroke="rgb(38,24,0)" stroke-width="0.6" stroke-linejoin="round"/>
<polygon points="560.7,641.7 572.9,638.8 560.8,633.2 548.6,636.2" fill="rgb(250,175,0)" stroke="rgb(37,26,0)" stroke-width="0.6" stroke-linejoin="round"/>
<polygon points="585,644.9 597.1,641.8 585.1,635.7 572.9,638.8" fill="rgb(247,196,0)" stroke="rgb(37,29,0)" stroke-width="0.6" stroke-linejoin="round"/>
<polygon points="122.1,657.1 134.3,655.8 122.5,659.4 110.3,660.7" fill="rgb(198,247,0)" stroke="rgb(30,37,0)" stroke-width="0.6" stroke-linejoin="round"/>
<polygon points="146.2,652.6 158.4,651.3 146.6,654.4 134.3,655.8" fill="rgb(224,246,0)" stroke="rgb(34,37,0)" stroke-width="0.6" stroke-linejoin="round"/>
<polygon points="218.9,641.8 231.2,640.3 219.1,642 206.9,643.6" fill="rgb(248,188,0)" stroke="rgb(37,28,0)" stroke-width="0.6" stroke-linejoin="round"/>
<polygon points="243.3,639.1 255.5,637.5 243.4,638.6 231.2,640.3" fill="rgb(251,168,0)" stroke="rgb(38,25,0)" stroke-width="0.6" stroke-linejoin="round"/>
<polygon points="316.5,633.3 328.8,631.5 316.5,631.1 304.3,633" fill="rgb(253,126,0)" stroke="rgb(38,19,0)" stroke-width="0.6" stroke-linejoin="round"/>
<polygon points="341,632.3 353.2,630.3 341,629.4 328.8,631.5" fill="rgb(251,117,0)" stroke="rgb(38,18,0)" stroke-width="0.6" stroke-linejoin="round"/>
<polygon points="414.4,631.6 426.6,629.4 414.4,626.9 402.2,629.2" fill="rgb(250,110,0)" stroke="rgb(37,16,0)" stroke-width="0.6" stroke-linejoin="round"/>
<polygon points="438.9,632.2 451.1,629.9 438.8,626.9 426.6,629.4" fill="rgb(250,113,0)" stroke="rgb(38,17,0)" stroke-width="0.6" stroke-linejoin="round"/>
<polygon points="512.1,636.7 524.3,634 512.1,629.5 499.9,632.2" fill="rgb(254,142,0)" stroke="rgb(38,21,0)" stroke-width="0.6" stroke-linejoin="round"/>
<polygon points="109.8,658.1 122.1,657.1 110.3,660.7 98.1,661.9" fill="rgb(207,247,0)" stroke="rgb(31,37,0)" stroke-width="0.6" stroke-linejoin="round"/>
<polygon points="133.9,653.8 146.2,652.6 134.3,655.8 122.1,657.1" fill="rgb(233,245,0)" stroke="rgb(35,37,0)" stroke-width="0.6" stroke-linejoin="round"/>
<polygon points="158.1,649.8 170.4,648.6 158.4,651.3 146.2,652.6" fill="rgb(243,226,0)" stroke="rgb(36,34,0)" stroke-width="0.6" stroke-linejoin="round"/>
<polygon points="182.4,646.3 194.6,645 182.6,647.2 170.4,648.6" fill="rgb(246,200,0)" stroke="rgb(37,30,0)" stroke-width="0.6" stroke-linejoin="round"/>
<polygon points="206.7,643.2 218.9,641.8 206.9,643.6 194.6,645" fill="rgb(249,178,0)" stroke="rgb(37,27,0)" stroke-width="0.6" stroke-linejoin="round"/>
<polygon points="255.4,638.3 267.7,636.7 255.5,637.5 243.3,639.1" fill="rgb(254,142,0)" stroke="rgb(38,21,0)" stroke-width="0.6" stroke-linejoin="round"/>
<polygon points="279.8,636.4 292.1,634.8 279.9,635 267.7,636.7" fill="rgb(254,128,0)" stroke="rgb(38,19,0)" stroke-width="0.6" stroke-linejoin="round"/>
<polygon points="304.3,635 316.5,633.3 304.3,633 292.1,634.8" fill="rgb(251,117,0)" stroke="rgb(38,18,0)" stroke-width="0.6" stroke-linejoin="round"/>
<polygon points="328.7,634.1 341,632.3 328.8,631.5 316.5,633.3" fill="rgb(249,109,0)" stroke="rgb(37,16,0)" stroke-width="0.6" stroke-linejoin="round"/>
<polygon points="353.2,633.5 365.5,631.6 353.2,630.3 341,632.3" fill="rgb(248,104,0)" stroke="rgb(37,16,0)" stroke-width="0.6" stroke-linejoin="round"/>
<polygon points="377.7,633.4 389.9,631.4 377.7,629.6 365.5,631.6" fill="rgb(248,102,0)" stroke="rgb(37,15,0)" stroke-width="0.6" stroke-linejoin="round"/>
<polygon points="402.2,633.7 414.4,631.6 402.2,629.2 389.9,631.4" fill="rgb(248,103,0)" stroke="rgb(37,15,0)" stroke-width="0.6" stroke-linejoin="round"/>
<polygon points="451.1,635.6 463.3,633.3 451.1,629.9 438.9,632.2" fill="rgb(250,114,0)" stroke="rgb(38,17,0)" stroke-width="0.6" stroke-linejoin="round"/>
<polygon points="475.5,637.2 487.7,634.8 475.5,630.8 463.3,633.3" fill="rgb(253,124,0)" stroke="rgb(38,19,0)" stroke-width="0.6" stroke-linejoin="round"/>
<polygon points="499.9,639.2 512.1,636.7 499.9,632.2 487.7,634.8" fill="rgb(255,137,0)" stroke="rgb(38,20,0)" stroke-width="0.6" stroke-linejoin="round"/>
<polygon points="524.3,641.6 536.4,639 524.3,634 512.1,636.7" fill="rgb(253,152,0)" stroke="rgb(38,23,0)" stroke-width="0.6" stroke-linejoin="round"/>
<polygon points="548.6,644.5 560.7,641.7 548.6,636.2 536.4,639" fill="rgb(250,170,0)" stroke="rgb(38,26,0)" stroke-width="0.6" stroke-linejoin="round"/>
<polygon points="572.8,647.7 585,644.9 572.9,638.8 560.7,641.7" fill="rgb(247,191,0)" stroke="rgb(37,29,0)" stroke-width="0.6" stroke-linejoin="round"/>
<polygon points="231,640.5 243.3,639.1 231.2,640.3 218.9,641.8" fill="rgb(252,159,0)" stroke="rgb(38,24,0)" stroke-width="0.6" stroke-linejoin="round"/>
<polygon points="426.6,634.4 438.9,632.2 426.6,629.4 414.4,631.6" fill="rgb(249,107,0)" stroke="rgb(37,16,0)" stroke-width="0.6" stroke-linejoin="round"/>
<polygon points="170.1,647.4 182.4,646.3 170.4,648.6 158.1,649.8" fill="rgb(248,190,0)" stroke="rgb(37,28,0)" stroke-width="0.6" stroke-linejoin="round"/>
<polygon points="267.6,637.9 279.8,636.4 267.7,636.7 255.4,638.3" fill="rgb(251,118,0)" stroke="rgb(38,18,0)" stroke-width="0.6" stroke-linejoin="round"/>
<polygon points="365.5,635.2 377.7,633.4 365.5,631.6 353.2,633.5" fill="rgb(246,93,0)" stroke="rgb(37,14,0)" stroke-width="0.6" stroke-linejoin="round"/>
<polygon points="414.4,636.4 426.6,634.4 414.4,631.6 402.2,633.7" fill="rgb(247,99,0)" stroke="rgb(37,15,0)" stroke-width="0.6" stroke-linejoin="round"/>
<polygon points="463.3,639.4 475.5,637.2 463.3,633.3 451.1,635.6" fill="rgb(251,117,0)" stroke="rgb(38,17,0)" stroke-width="0.6" stroke-linejoin="round"/>
<polygon points="560.6,650.4 572.8,647.7 560.7,641.7 548.6,644.5" fill="rgb(248,186,0)" stroke="rgb(37,28,0)" stroke-width="0.6" stroke-linejoin="round"/>
<polygon points="121.7,654.7 133.9,653.8 122.1,657.1 109.8,658.1" fill="rgb(240,242,0)" stroke="rgb(36,36,0)" stroke-width="0.6" stroke-linejoin="round"/>
<polygon points="145.9,650.8 158.1,649.8 146.2,652.6 133.9,653.8" fill="rgb(244,214,0)" stroke="rgb(37,32,0)" stroke-width="0.6" stroke-linejoin="round"/>
<polygon points="194.4,644.4 206.7,643.2 194.6,645 182.4,646.3" fill="rgb(251,168,0)" stroke="rgb(38,25,0)" stroke-width="0.6" stroke-linejoin="round"/>
<polygon points="218.7,641.8 231,640.5 218.9,641.8 206.7,643.2" fill="rgb(253,149,0)" stroke="rgb(38,22,0)" stroke-width="0.6" stroke-linejoin="round"/>
<polygon points="243.1,639.6 255.4,638.3 243.3,639.1 231,640.5" fill="rgb(254,132,0)" stroke="rgb(38,20,0)" stroke-width="0.6" stroke-linejoin="round"/>
<polygon points="292,636.6 304.3,635 292.1,634.8 279.8,636.4" fill="rgb(249,108,0)" stroke="rgb(37,16,0)" stroke-width="0.6" stroke-linejoin="round"/>
<polygon points="316.5,635.7 328.7,634.1 316.5,633.3 304.3,635" fill="rgb(247,100,0)" stroke="rgb(37,15,0)" stroke-width="0.6" stroke-linejoin="round"/>
<polygon points="341,635.2 353.2,633.5 341,632.3 328.7,634.1" fill="rgb(246,95,0)" stroke="rgb(37,14,0)" stroke-width="0.6" stroke-linejoin="round"/>
<polygon points="389.9,635.6 402.2,633.7 389.9,631.4 377.7,633.4" fill="rgb(246,95,0)" stroke="rgb(37,14,0)" stroke-width="0.6" stroke-linejoin="round"/>
<polygon points="438.9,637.7 451.1,635.6 438.9,632.2 426.6,634.4" fill="rgb(249,106,0)" stroke="rgb(37,16,0)" stroke-width="0.6" stroke-linejoin="round"/>
<polygon points="487.7,641.5 499.9,639.2 487.7,634.8 475.5,637.2" fill="rgb(254,130,0)" stroke="rgb(38,20,0)" stroke-width="0.6" stroke-linejoin="round"/>
<polygon points="512.1,644.1 524.3,641.6 512.1,636.7 499.9,639.2" fill="rgb(253,146,0)" stroke="rgb(38,22,0)" stroke-width="0.6" stroke-linejoin="round"/>
<polygon points="536.4,647 548.6,644.5 536.4,639 524.3,641.6" fill="rgb(251,165,0)" stroke="rgb(38,25,0)" stroke-width="0.6" stroke-linejoin="round"/>
<polygon points="133.6,651.7 145.9,650.8 133.9,653.8 121.7,654.7" fill="rgb(246,202,0)" stroke="rgb(37,30,0)" stroke-width="0.6" stroke-linejoin="round"/>
<polygon points="230.9,640.8 243.1,639.6 231,640.5 218.7,641.8" fill="rgb(252,121,0)" stroke="rgb(38,18,0)" stroke-width="0.6" stroke-linejoin="round"/>
<polygon points="328.7,636.8 341,635.2 328.7,634.1 316.5,635.7" fill="rgb(244,85,0)" stroke="rgb(37,13,0)" stroke-width="0.6" stroke-linejoin="round"/>
<polygon points="426.7,639.7 438.9,637.7 426.6,634.4 414.4,636.4" fill="rgb(247,98,0)" stroke="rgb(37,15,0)" stroke-width="0.6" stroke-linejoin="round"/>
<polygon points="524.2,649.5 536.4,647 524.3,641.6 512.1,644.1" fill="rgb(252,158,0)" stroke="rgb(38,24,0)" stroke-width="0.6" stroke-linejoin="round"/>
<polygon points="157.8,648.3 170.1,647.4 158.1,649.8 145.9,650.8" fill="rgb(249,178,0)" stroke="rgb(37,27,0)" stroke-width="0.6" stroke-linejoin="round"/>
<polygon points="182.1,645.4 194.4,644.4 182.4,646.3 170.1,647.4" fill="rgb(252,156,0)" stroke="rgb(38,23,0)" stroke-width="0.6" stroke-linejoin="round"/>
<polygon points="206.5,642.9 218.7,641.8 206.7,643.2 194.4,644.4" fill="rgb(255,137,0)" stroke="rgb(38,21,0)" stroke-width="0.6" stroke-linejoin="round"/>
<polygon points="255.3,639.1 267.6,637.9 255.4,638.3 243.1,639.6" fill="rgb(249,108,0)" stroke="rgb(37,16,0)" stroke-width="0.6" stroke-linejoin="round"/>
<polygon points="279.7,637.9 292,636.6 279.8,636.4 267.6,637.9" fill="rgb(247,97,0)" stroke="rgb(37,15,0)" stroke-width="0.6" stroke-linejoin="round"/>
<polygon points="353.2,636.8 365.5,635.2 353.2,633.5 341,635.2" fill="rgb(244,84,0)" stroke="rgb(37,13,0)" stroke-width="0.6" stroke-linejoin="round"/>
<polygon points="377.7,637.3 389.9,635.6 377.7,633.4 365.5,635.2" fill="rgb(244,86,0)" stroke="rgb(37,13,0)" stroke-width="0.6" stroke-linejoin="round"/>
<polygon points="402.2,638.3 414.4,636.4 402.2,633.7 389.9,635.6" fill="rgb(245,90,0)" stroke="rgb(37,14,0)" stroke-width="0.6" stroke-linejoin="round"/>
<polygon points="451.1,641.5 463.3,639.4 451.1,635.6 438.9,637.7" fill="rgb(249,109,0)" stroke="rgb(37,16,0)" stroke-width="0.6" stroke-linejoin="round"/>
<polygon points="475.5,643.7 487.7,641.5 475.5,637.2 463.3,639.4" fill="rgb(252,123,0)" stroke="rgb(38,18,0)" stroke-width="0.6" stroke-linejoin="round"/>
<polygon points="548.5,653 560.6,650.4 548.6,644.5 536.4,647" fill="rgb(249,180,0)" stroke="rgb(37,27,0)" stroke-width="0.6" stroke-linejoin="round"/>
<polygon points="304.2,637.1 316.5,635.7 304.3,635 292,636.6" fill="rgb(245,90,0)" stroke="rgb(37,13,0)" stroke-width="0.6" stroke-linejoin="round"/>
<polygon points="499.9,646.4 512.1,644.1 499.9,639.2 487.7,641.5" fill="rgb(254,139,0)" stroke="rgb(38,21,0)" stroke-width="0.6" stroke-linejoin="round"/>
<polygon points="145.5,649.1 157.8,648.3 145.9,650.8 133.6,651.7" fill="rgb(251,165,0)" stroke="rgb(38,25,0)" stroke-width="0.6" stroke-linejoin="round"/>
<polygon points="218.6,641.8 230.9,640.8 218.7,641.8 206.5,642.9" fill="rgb(249,109,0)" stroke="rgb(37,16,0)" stroke-width="0.6" stroke-linejoin="round"/>
<polygon points="243,640.2 255.3,639.1 243.1,639.6 230.9,640.8" fill="rgb(246,96,0)" stroke="rgb(37,14,0)" stroke-width="0.6" stroke-linejoin="round"/>
<polygon points="292,638.4 304.2,637.1 292,636.6 279.7,637.9" fill="rgb(243,79,0)" stroke="rgb(36,12,0)" stroke-width="0.6" stroke-linejoin="round"/>
<polygon points="316.5,638.1 328.7,636.8 316.5,635.7 304.2,637.1" fill="rgb(242,75,0)" stroke="rgb(36,11,0)" stroke-width="0.6" stroke-linejoin="round"/>
<polygon points="341,638.3 353.2,636.8 341,635.2 328.7,636.8" fill="rgb(242,74,0)" stroke="rgb(36,11,0)" stroke-width="0.6" stroke-linejoin="round"/>
<polygon points="414.4,641.4 426.7,639.7 414.4,636.4 402.2,638.3" fill="rgb(245,89,0)" stroke="rgb(37,13,0)" stroke-width="0.6" stroke-linejoin="round"/>
<polygon points="438.9,643.4 451.1,641.5 438.9,637.7 426.7,639.7" fill="rgb(247,100,0)" stroke="rgb(37,15,0)" stroke-width="0.6" stroke-linejoin="round"/>
<polygon points="487.7,648.5 499.9,646.4 487.7,641.5 475.5,643.7" fill="rgb(254,131,0)" stroke="rgb(38,20,0)" stroke-width="0.6" stroke-linejoin="round"/>
<polygon points="512,651.7 524.2,649.5 512.1,644.1 499.9,646.4" fill="rgb(253,151,0)" stroke="rgb(38,23,0)" stroke-width="0.6" stroke-linejoin="round"/>
<polygon points="536.3,655.3 548.5,653 536.4,647 524.2,649.5" fill="rgb(250,173,0)" stroke="rgb(37,26,0)" stroke-width="0.6" stroke-linejoin="round"/>
<polygon points="169.8,646.2 182.1,645.4 170.1,647.4 157.8,648.3" fill="rgb(254,144,0)" stroke="rgb(38,22,0)" stroke-width="0.6" stroke-linejoin="round"/>
<polygon points="194.2,643.8 206.5,642.9 194.4,644.4 182.1,645.4" fill="rgb(253,125,0)" stroke="rgb(38,19,0)" stroke-width="0.6" stroke-linejoin="round"/>
<polygon points="267.5,639.1 279.7,637.9 267.6,637.9 255.3,639.1" fill="rgb(244,86,0)" stroke="rgb(37,13,0)" stroke-width="0.6" stroke-linejoin="round"/>
<polygon points="365.5,638.9 377.7,637.3 365.5,635.2 353.2,636.8" fill="rgb(242,76,0)" stroke="rgb(36,11,0)" stroke-width="0.6" stroke-linejoin="round"/>
<polygon points="390,639.9 402.2,638.3 389.9,635.6 377.7,637.3" fill="rgb(243,81,0)" stroke="rgb(36,12,0)" stroke-width="0.6" stroke-linejoin="round"/>
<polygon points="463.3,645.7 475.5,643.7 463.3,639.4 451.1,641.5" fill="rgb(250,114,0)" stroke="rgb(38,17,0)" stroke-width="0.6" stroke-linejoin="round"/>
<polygon points="157.5,646.9 169.8,646.2 157.8,648.3 145.5,649.1" fill="rgb(254,130,0)" stroke="rgb(38,20,0)" stroke-width="0.6" stroke-linejoin="round"/>
<polygon points="181.9,644.5 194.2,643.8 182.1,645.4 169.8,646.2" fill="rgb(250,112,0)" stroke="rgb(37,17,0)" stroke-width="0.6" stroke-linejoin="round"/>
<polygon points="206.3,642.6 218.6,641.8 206.5,642.9 194.2,643.8" fill="rgb(246,96,0)" stroke="rgb(37,14,0)" stroke-width="0.6" stroke-linejoin="round"/>
<polygon points="230.7,641.1 243,640.2 230.9,640.8 218.6,641.8" fill="rgb(244,83,0)" stroke="rgb(37,12,0)" stroke-width="0.6" stroke-linejoin="round"/>
<polygon points="255.2,640.1 267.5,639.1 255.3,639.1 243,640.2" fill="rgb(242,73,0)" stroke="rgb(36,11,0)" stroke-width="0.6" stroke-linejoin="round"/>
<polygon points="279.7,639.5 292,638.4 279.7,637.9 267.5,639.1" fill="rgb(240,67,0)" stroke="rgb(36,10,0)" stroke-width="0.6" stroke-linejoin="round"/>
<polygon points="304.2,639.3 316.5,638.1 304.2,637.1 292,638.4" fill="rgb(239,63,0)" stroke="rgb(36,9,0)" stroke-width="0.6" stroke-linejoin="round"/>
<polygon points="328.7,639.6 341,638.3 328.7,636.8 316.5,638.1" fill="rgb(239,62,0)" stroke="rgb(36,9,0)" stroke-width="0.6" stroke-linejoin="round"/>
<polygon points="353.2,640.3 365.5,638.9 353.2,636.8 341,638.3" fill="rgb(240,65,0)" stroke="rgb(36,10,0)" stroke-width="0.6" stroke-linejoin="round"/>
<polygon points="402.2,643 414.4,641.4 402.2,638.3 390,639.9" fill="rgb(243,79,0)" stroke="rgb(36,12,0)" stroke-width="0.6" stroke-linejoin="round"/>
<polygon points="426.7,645.1 438.9,643.4 426.7,639.7 414.4,641.4" fill="rgb(245,90,0)" stroke="rgb(37,14,0)" stroke-width="0.6" stroke-linejoin="round"/>
<polygon points="451.1,647.5 463.3,645.7 451.1,641.5 438.9,643.4" fill="rgb(248,105,0)" stroke="rgb(37,16,0)" stroke-width="0.6" stroke-linejoin="round"/>
<polygon points="475.5,650.4 487.7,648.5 475.5,643.7 463.3,645.7" fill="rgb(252,122,0)" stroke="rgb(38,18,0)" stroke-width="0.6" stroke-linejoin="round"/>
<polygon points="499.9,653.8 512,651.7 499.9,646.4 487.7,648.5" fill="rgb(254,143,0)" stroke="rgb(38,21,0)" stroke-width="0.6" stroke-linejoin="round"/>
<polygon points="524.2,657.5 536.3,655.3 524.2,649.5 512,651.7" fill="rgb(251,165,0)" stroke="rgb(38,25,0)" stroke-width="0.6" stroke-linejoin="round"/>
<polygon points="377.7,641.4 390,639.9 377.7,637.3 365.5,638.9" fill="rgb(241,70,0)" stroke="rgb(36,11,0)" stroke-width="0.6" stroke-linejoin="round"/>
<polygon points="218.4,641.8 230.7,641.1 218.6,641.8 206.3,642.6" fill="rgb(241,69,0)" stroke="rgb(36,10,0)" stroke-width="0.6" stroke-linejoin="round"/>
<polygon points="316.4,640.7 328.7,639.6 316.5,638.1 304.2,639.3" fill="rgb(237,50,0)" stroke="rgb(35,8,0)" stroke-width="0.6" stroke-linejoin="round"/>
<polygon points="365.5,642.7 377.7,641.4 365.5,638.9 353.2,640.3" fill="rgb(238,59,0)" stroke="rgb(36,9,0)" stroke-width="0.6" stroke-linejoin="round"/>
<polygon points="512,659.6 524.2,657.5 512,651.7 499.9,653.8" fill="rgb(252,156,0)" stroke="rgb(38,23,0)" stroke-width="0.6" stroke-linejoin="round"/>
<polygon points="169.5,645 181.9,644.5 169.8,646.2 157.5,646.9" fill="rgb(247,97,0)" stroke="rgb(37,15,0)" stroke-width="0.6" stroke-linejoin="round"/>
<polygon points="193.9,643.2 206.3,642.6 194.2,643.8 181.9,644.5" fill="rgb(243,82,0)" stroke="rgb(37,12,0)" stroke-width="0.6" stroke-linejoin="round"/>
<polygon points="242.9,640.9 255.2,640.1 243,640.2 230.7,641.1" fill="rgb(239,60,0)" stroke="rgb(36,9,0)" stroke-width="0.6" stroke-linejoin="round"/>
<polygon points="267.4,640.4 279.7,639.5 267.5,639.1 255.2,640.1" fill="rgb(237,54,0)" stroke="rgb(36,8,0)" stroke-width="0.6" stroke-linejoin="round"/>
<polygon points="291.9,640.3 304.2,639.3 292,638.4 279.7,639.5" fill="rgb(237,50,0)" stroke="rgb(35,8,0)" stroke-width="0.6" stroke-linejoin="round"/>
<polygon points="340.9,641.5 353.2,640.3 341,638.3 328.7,639.6" fill="rgb(237,53,0)" stroke="rgb(36,8,0)" stroke-width="0.6" stroke-linejoin="round"/>
<polygon points="390,644.4 402.2,643 390,639.9 377.7,641.4" fill="rgb(240,68,0)" stroke="rgb(36,10,0)" stroke-width="0.6" stroke-linejoin="round"/>
<polygon points="414.4,646.6 426.7,645.1 414.4,641.4 402.2,643" fill="rgb(243,79,0)" stroke="rgb(36,12,0)" stroke-width="0.6" stroke-linejoin="round"/>
<polygon points="438.9,649.2 451.1,647.5 438.9,643.4 426.7,645.1" fill="rgb(246,94,0)" stroke="rgb(37,14,0)" stroke-width="0.6" stroke-linejoin="round"/>
<polygon points="463.3,652.2 475.5,650.4 463.3,645.7 451.1,647.5" fill="rgb(250,112,0)" stroke="rgb(38,17,0)" stroke-width="0.6" stroke-linejoin="round"/>
<polygon points="487.7,655.7 499.9,653.8 487.7,648.5 475.5,650.4" fill="rgb(255,133,0)" stroke="rgb(38,20,0)" stroke-width="0.6" stroke-linejoin="round"/>
<polygon points="181.6,643.7 193.9,643.2 181.9,644.5 169.5,645" fill="rgb(240,67,0)" stroke="rgb(36,10,0)" stroke-width="0.6" stroke-linejoin="round"/>
<polygon points="377.7,645.7 390,644.4 377.7,641.4 365.5,642.7" fill="rgb(238,55,0)" stroke="rgb(36,8,0)" stroke-width="0.6" stroke-linejoin="round"/>
<polygon points="475.5,657.4 487.7,655.7 475.5,650.4 463.3,652.2" fill="rgb(252,123,0)" stroke="rgb(38,18,0)" stroke-width="0.6" stroke-linejoin="round"/>
<polygon points="206.1,642.4 218.4,641.8 206.3,642.6 193.9,643.2" fill="rgb(238,55,0)" stroke="rgb(36,8,0)" stroke-width="0.6" stroke-linejoin="round"/>
<polygon points="230.6,641.5 242.9,640.9 230.7,641.1 218.4,641.8" fill="rgb(236,46,0)" stroke="rgb(35,7,0)" stroke-width="0.6" stroke-linejoin="round"/>
<polygon points="255.1,641.1 267.4,640.4 255.2,640.1 242.9,640.9" fill="rgb(234,40,0)" stroke="rgb(35,6,0)" stroke-width="0.6" stroke-linejoin="round"/>
<polygon points="279.6,641.1 291.9,640.3 279.7,639.5 267.4,640.4" fill="rgb(234,37,0)" stroke="rgb(35,6,0)" stroke-width="0.6" stroke-linejoin="round"/>
<polygon points="304.1,641.6 316.4,640.7 304.2,639.3 291.9,640.3" fill="rgb(234,37,0)" stroke="rgb(35,6,0)" stroke-width="0.6" stroke-linejoin="round"/>
<polygon points="328.7,642.5 340.9,641.5 328.7,639.6 316.4,640.7" fill="rgb(234,40,0)" stroke="rgb(35,6,0)" stroke-width="0.6" stroke-linejoin="round"/>
<polygon points="353.2,643.9 365.5,642.7 353.2,640.3 340.9,641.5" fill="rgb(236,46,0)" stroke="rgb(35,7,0)" stroke-width="0.6" stroke-linejoin="round"/>
<polygon points="402.2,647.9 414.4,646.6 402.2,643 390,644.4" fill="rgb(240,68,0)" stroke="rgb(36,10,0)" stroke-width="0.6" stroke-linejoin="round"/>
<polygon points="426.7,650.6 438.9,649.2 426.7,645.1 414.4,646.6" fill="rgb(244,83,0)" stroke="rgb(37,12,0)" stroke-width="0.6" stroke-linejoin="round"/>
<polygon points="499.8,661.4 512,659.6 499.9,653.8 487.7,655.7" fill="rgb(253,147,0)" stroke="rgb(38,22,0)" stroke-width="0.6" stroke-linejoin="round"/>
<polygon points="451.1,653.8 463.3,652.2 451.1,647.5 438.9,649.2" fill="rgb(248,101,0)" stroke="rgb(37,15,0)" stroke-width="0.6" stroke-linejoin="round"/>
<polygon points="193.7,642.7 206.1,642.4 193.9,643.2 181.6,643.7" fill="rgb(234,39,0)" stroke="rgb(35,6,0)" stroke-width="0.6" stroke-linejoin="round"/>
<polygon points="267.3,641.7 279.6,641.1 267.4,640.4 255.1,641.1" fill="rgb(231,22,0)" stroke="rgb(35,3,0)" stroke-width="0.6" stroke-linejoin="round"/>
<polygon points="291.8,642.3 304.1,641.6 291.9,640.3 279.6,641.1" fill="rgb(231,23,0)" stroke="rgb(35,3,0)" stroke-width="0.6" stroke-linejoin="round"/>
<polygon points="340.9,644.8 353.2,643.9 340.9,641.5 328.7,642.5" fill="rgb(233,33,0)" stroke="rgb(35,5,0)" stroke-width="0.6" stroke-linejoin="round"/>
<polygon points="365.5,646.7 377.7,645.7 365.5,642.7 353.2,643.9" fill="rgb(235,43,0)" stroke="rgb(35,6,0)" stroke-width="0.6" stroke-linejoin="round"/>
<polygon points="390,649.1 402.2,647.9 390,644.4 377.7,645.7" fill="rgb(238,55,0)" stroke="rgb(36,8,0)" stroke-width="0.6" stroke-linejoin="round"/>
<polygon points="463.3,658.9 475.5,657.4 463.3,652.2 451.1,653.8" fill="rgb(250,111,0)" stroke="rgb(37,17,0)" stroke-width="0.6" stroke-linejoin="round"/>
<polygon points="487.6,663 499.8,661.4 487.7,655.7 475.5,657.4" fill="rgb(255,136,0)" stroke="rgb(38,20,0)" stroke-width="0.6" stroke-linejoin="round"/>
<polygon points="218.2,641.9 230.6,641.5 218.4,641.8 206.1,642.4" fill="rgb(232,31,0)" stroke="rgb(35,5,0)" stroke-width="0.6" stroke-linejoin="round"/>
<polygon points="242.7,641.6 255.1,641.1 242.9,640.9 230.6,641.5" fill="rgb(231,25,0)" stroke="rgb(35,4,0)" stroke-width="0.6" stroke-linejoin="round"/>
<polygon points="316.4,643.3 328.7,642.5 316.4,640.7 304.1,641.6" fill="rgb(231,26,0)" stroke="rgb(35,4,0)" stroke-width="0.6" stroke-linejoin="round"/>
<polygon points="414.5,651.9 426.7,650.6 414.4,646.6 402.2,647.9" fill="rgb(241,71,0)" stroke="rgb(36,11,0)" stroke-width="0.6" stroke-linejoin="round"/>
<polygon points="438.9,655.2 451.1,653.8 438.9,649.2 426.7,650.6" fill="rgb(245,89,0)" stroke="rgb(37,13,0)" stroke-width="0.6" stroke-linejoin="round"/>
<polygon points="205.9,642.2 218.2,641.9 206.1,642.4 193.7,642.7" fill="rgb(230,20,0)" stroke="rgb(34,3,0)" stroke-width="0.6" stroke-linejoin="round"/>
<polygon points="230.4,641.9 242.7,641.6 230.6,641.5 218.2,641.9" fill="rgb(230,20,0)" stroke="rgb(34,3,0)" stroke-width="0.6" stroke-linejoin="round"/>
<polygon points="255,642.2 267.3,641.7 255.1,641.1 242.7,641.6" fill="rgb(230,20,0)" stroke="rgb(34,3,0)" stroke-width="0.6" stroke-linejoin="round"/>
<polygon points="279.5,642.8 291.8,642.3 279.6,641.1 267.3,641.7" fill="rgb(230,20,0)" stroke="rgb(34,3,0)" stroke-width="0.6" stroke-linejoin="round"/>
<polygon points="304.1,644 316.4,643.3 304.1,641.6 291.8,642.3" fill="rgb(230,20,0)" stroke="rgb(34,3,0)" stroke-width="0.6" stroke-linejoin="round"/>
<polygon points="328.7,645.5 340.9,644.8 328.7,642.5 316.4,643.3" fill="rgb(230,20,0)" stroke="rgb(34,3,0)" stroke-width="0.6" stroke-linejoin="round"/>
<polygon points="353.2,647.6 365.5,646.7 353.2,643.9 340.9,644.8" fill="rgb(232,29,0)" stroke="rgb(35,4,0)" stroke-width="0.6" stroke-linejoin="round"/>
<polygon points="377.7,650.1 390,649.1 377.7,645.7 365.5,646.7" fill="rgb(235,42,0)" stroke="rgb(35,6,0)" stroke-width="0.6" stroke-linejoin="round"/>
<polygon points="402.2,653 414.5,651.9 402.2,647.9 390,649.1" fill="rgb(238,58,0)" stroke="rgb(36,9,0)" stroke-width="0.6" stroke-linejoin="round"/>
<polygon points="426.7,656.4 438.9,655.2 426.7,650.6 414.5,651.9" fill="rgb(242,77,0)" stroke="rgb(36,11,0)" stroke-width="0.6" stroke-linejoin="round"/>
<polygon points="451.1,660.2 463.3,658.9 451.1,653.8 438.9,655.2" fill="rgb(247,99,0)" stroke="rgb(37,15,0)" stroke-width="0.6" stroke-linejoin="round"/>
<polygon points="475.5,664.5 487.6,663 475.5,657.4 463.3,658.9" fill="rgb(253,124,0)" stroke="rgb(38,19,0)" stroke-width="0.6" stroke-linejoin="round"/>
<polygon points="267.2,643.2 279.5,642.8 267.3,641.7 255,642.2" fill="rgb(230,20,0)" stroke="rgb(34,3,0)" stroke-width="0.6" stroke-linejoin="round"/>
<polygon points="365.5,650.8 377.7,650.1 365.5,646.7 353.2,647.6" fill="rgb(232,27,0)" stroke="rgb(35,4,0)" stroke-width="0.6" stroke-linejoin="round"/>
<polygon points="414.5,657.4 426.7,656.4 414.5,651.9 402.2,653" fill="rgb(239,63,0)" stroke="rgb(36,9,0)" stroke-width="0.6" stroke-linejoin="round"/>
<polygon points="218.1,642.1 230.4,641.9 218.2,641.9 205.9,642.2" fill="rgb(230,20,0)" stroke="rgb(34,3,0)" stroke-width="0.6" stroke-linejoin="round"/>
<polygon points="242.6,642.4 255,642.2 242.7,641.6 230.4,641.9" fill="rgb(230,20,0)" stroke="rgb(34,3,0)" stroke-width="0.6" stroke-linejoin="round"/>
<polygon points="291.8,644.4 304.1,644 291.8,642.3 279.5,642.8" fill="rgb(230,20,0)" stroke="rgb(34,3,0)" stroke-width="0.6" stroke-linejoin="round"/>
<polygon points="316.4,646.1 328.7,645.5 316.4,643.3 304.1,644" fill="rgb(230,20,0)" stroke="rgb(34,3,0)" stroke-width="0.6" stroke-linejoin="round"/>
<polygon points="340.9,648.2 353.2,647.6 340.9,644.8 328.7,645.5" fill="rgb(230,20,0)" stroke="rgb(34,3,0)" stroke-width="0.6" stroke-linejoin="round"/>
<polygon points="390,653.9 402.2,653 390,649.1 377.7,650.1" fill="rgb(235,43,0)" stroke="rgb(35,7,0)" stroke-width="0.6" stroke-linejoin="round"/>
<polygon points="438.9,661.4 451.1,660.2 438.9,655.2 426.7,656.4" fill="rgb(244,85,0)" stroke="rgb(37,13,0)" stroke-width="0.6" stroke-linejoin="round"/>
<polygon points="463.3,665.8 475.5,664.5 463.3,658.9 451.1,660.2" fill="rgb(250,111,0)" stroke="rgb(37,17,0)" stroke-width="0.6" stroke-linejoin="round"/>
<polygon points="426.7,662.3 438.9,661.4 426.7,656.4 414.5,657.4" fill="rgb(241,71,0)" stroke="rgb(36,11,0)" stroke-width="0.6" stroke-linejoin="round"/>
<polygon points="230.3,642.5 242.6,642.4 230.4,641.9 218.1,642.1" fill="rgb(230,20,0)" stroke="rgb(34,3,0)" stroke-width="0.6" stroke-linejoin="round"/>
<polygon points="254.9,643.3 267.2,643.2 255,642.2 242.6,642.4" fill="rgb(230,20,0)" stroke="rgb(34,3,0)" stroke-width="0.6" stroke-linejoin="round"/>
<polygon points="279.5,644.7 291.8,644.4 279.5,642.8 267.2,643.2" fill="rgb(230,20,0)" stroke="rgb(34,3,0)" stroke-width="0.6" stroke-linejoin="round"/>
<polygon points="304,646.5 316.4,646.1 304.1,644 291.8,644.4" fill="rgb(230,20,0)" stroke="rgb(34,3,0)" stroke-width="0.6" stroke-linejoin="round"/>
<polygon points="328.6,648.7 340.9,648.2 328.7,645.5 316.4,646.1" fill="rgb(230,20,0)" stroke="rgb(34,3,0)" stroke-width="0.6" stroke-linejoin="round"/>
<polygon points="353.2,651.4 365.5,650.8 353.2,647.6 340.9,648.2" fill="rgb(230,20,0)" stroke="rgb(34,3,0)" stroke-width="0.6" stroke-linejoin="round"/>
<polygon points="377.7,654.6 390,653.9 377.7,650.1 365.5,650.8" fill="rgb(232,28,0)" stroke="rgb(35,4,0)" stroke-width="0.6" stroke-linejoin="round"/>
<polygon points="402.2,658.2 414.5,657.4 402.2,653 390,653.9" fill="rgb(236,48,0)" stroke="rgb(35,7,0)" stroke-width="0.6" stroke-linejoin="round"/>
<polygon points="451.1,666.9 463.3,665.8 451.1,660.2 438.9,661.4" fill="rgb(247,97,0)" stroke="rgb(37,15,0)" stroke-width="0.6" stroke-linejoin="round"/>
<polygon points="340.9,651.8 353.2,651.4 340.9,648.2 328.6,648.7" fill="rgb(230,20,0)" stroke="rgb(34,3,0)" stroke-width="0.6" stroke-linejoin="round"/>
<polygon points="390,658.9 402.2,658.2 390,653.9 377.7,654.6" fill="rgb(233,33,0)" stroke="rgb(35,5,0)" stroke-width="0.6" stroke-linejoin="round"/>
<polygon points="438.9,667.7 451.1,666.9 438.9,661.4 426.7,662.3" fill="rgb(243,82,0)" stroke="rgb(37,12,0)" stroke-width="0.6" stroke-linejoin="round"/>
<polygon points="242.5,643.3 254.9,643.3 242.6,642.4 230.3,642.5" fill="rgb(230,20,0)" stroke="rgb(34,3,0)" stroke-width="0.6" stroke-linejoin="round"/>
<polygon points="267.1,644.7 279.5,644.7 267.2,643.2 254.9,643.3" fill="rgb(230,20,0)" stroke="rgb(34,3,0)" stroke-width="0.6" stroke-linejoin="round"/>
<polygon points="316.3,649 328.6,648.7 316.4,646.1 304,646.5" fill="rgb(230,20,0)" stroke="rgb(34,3,0)" stroke-width="0.6" stroke-linejoin="round"/>
<polygon points="414.5,663.1 426.7,662.3 414.5,657.4 402.2,658.2" fill="rgb(238,56,0)" stroke="rgb(36,8,0)" stroke-width="0.6" stroke-linejoin="round"/>
<polygon points="291.7,646.6 304,646.5 291.8,644.4 279.5,644.7" fill="rgb(230,20,0)" stroke="rgb(34,3,0)" stroke-width="0.6" stroke-linejoin="round"/>
<polygon points="365.5,655.1 377.7,654.6 365.5,650.8 353.2,651.4" fill="rgb(230,20,0)" stroke="rgb(34,3,0)" stroke-width="0.6" stroke-linejoin="round"/>
<polygon points="402.2,663.6 414.5,663.1 402.2,658.2 390,658.9" fill="rgb(234,39,0)" stroke="rgb(35,6,0)" stroke-width="0.6" stroke-linejoin="round"/>
<polygon points="254.7,644.6 267.1,644.7 254.9,643.3 242.5,643.3" fill="rgb(230,20,0)" stroke="rgb(34,3,0)" stroke-width="0.6" stroke-linejoin="round"/>
<polygon points="279.4,646.6 291.7,646.6 279.5,644.7 267.1,644.7" fill="rgb(230,20,0)" stroke="rgb(34,3,0)" stroke-width="0.6" stroke-linejoin="round"/>
<polygon points="304,649.1 316.3,649 304,646.5 291.7,646.6" fill="rgb(230,20,0)" stroke="rgb(34,3,0)" stroke-width="0.6" stroke-linejoin="round"/>
<polygon points="328.6,652 340.9,651.8 328.6,648.7 316.3,649" fill="rgb(230,20,0)" stroke="rgb(34,3,0)" stroke-width="0.6" stroke-linejoin="round"/>
<polygon points="353.2,655.4 365.5,655.1 353.2,651.4 340.9,651.8" fill="rgb(230,20,0)" stroke="rgb(34,3,0)" stroke-width="0.6" stroke-linejoin="round"/>
<polygon points="377.7,659.3 390,658.9 377.7,654.6 365.5,655.1" fill="rgb(230,20,0)" stroke="rgb(34,3,0)" stroke-width="0.6" stroke-linejoin="round"/>
<polygon points="426.7,668.4 438.9,667.7 426.7,662.3 414.5,663.1" fill="rgb(240,66,0)" stroke="rgb(36,10,0)" stroke-width="0.6" stroke-linejoin="round"/>
<polygon points="414.4,668.9 426.7,668.4 414.5,663.1 402.2,663.6" fill="rgb(236,49,0)" stroke="rgb(35,7,0)" stroke-width="0.6" stroke-linejoin="round"/>
<polygon points="267,646.4 279.4,646.6 267.1,644.7 254.7,644.6" fill="rgb(230,20,0)" stroke="rgb(34,3,0)" stroke-width="0.6" stroke-linejoin="round"/>
<polygon points="291.7,648.9 304,649.1 291.7,646.6 279.4,646.6" fill="rgb(230,20,0)" stroke="rgb(34,3,0)" stroke-width="0.6" stroke-linejoin="round"/>
<polygon points="316.3,652 328.6,652 316.3,649 304,649.1" fill="rgb(230,20,0)" stroke="rgb(34,3,0)" stroke-width="0.6" stroke-linejoin="round"/>
<polygon points="340.9,655.5 353.2,655.4 340.9,651.8 328.6,652" fill="rgb(230,20,0)" stroke="rgb(34,3,0)" stroke-width="0.6" stroke-linejoin="round"/>
<polygon points="390,664 402.2,663.6 390,658.9 377.7,659.3" fill="rgb(231,22,0)" stroke="rgb(35,3,0)" stroke-width="0.6" stroke-linejoin="round"/>
<polygon points="365.4,659.5 377.7,659.3 365.5,655.1 353.2,655.4" fill="rgb(230,20,0)" stroke="rgb(34,3,0)" stroke-width="0.6" stroke-linejoin="round"/>
<polygon points="279.3,648.6 291.7,648.9 279.4,646.6 267,646.4" fill="rgb(230,20,0)" stroke="rgb(34,3,0)" stroke-width="0.6" stroke-linejoin="round"/>
<polygon points="303.9,651.8 316.3,652 304,649.1 291.7,648.9" fill="rgb(230,20,0)" stroke="rgb(34,3,0)" stroke-width="0.6" stroke-linejoin="round"/>
<polygon points="328.6,655.4 340.9,655.5 328.6,652 316.3,652" fill="rgb(230,20,0)" stroke="rgb(34,3,0)" stroke-width="0.6" stroke-linejoin="round"/>
<polygon points="353.2,659.6 365.4,659.5 353.2,655.4 340.9,655.5" fill="rgb(230,20,0)" stroke="rgb(34,3,0)" stroke-width="0.6" stroke-linejoin="round"/>
<polygon points="377.7,664.2 390,664 377.7,659.3 365.4,659.5" fill="rgb(230,20,0)" stroke="rgb(34,3,0)" stroke-width="0.6" stroke-linejoin="round"/>
<polygon points="402.2,669.2 414.4,668.9 402.2,663.6 390,664" fill="rgb(233,32,0)" stroke="rgb(35,5,0)" stroke-width="0.6" stroke-linejoin="round"/>
<polygon points="291.6,651.4 303.9,651.8 291.7,648.9 279.3,648.6" fill="rgb(230,20,0)" stroke="rgb(34,3,0)" stroke-width="0.6" stroke-linejoin="round"/>
<polygon points="316.2,655.1 328.6,655.4 316.3,652 303.9,651.8" fill="rgb(230,20,0)" stroke="rgb(34,3,0)" stroke-width="0.6" stroke-linejoin="round"/>
<polygon points="340.9,659.4 353.2,659.6 340.9,655.5 328.6,655.4" fill="rgb(230,20,0)" stroke="rgb(34,3,0)" stroke-width="0.6" stroke-linejoin="round"/>
<polygon points="365.4,664.1 377.7,664.2 365.4,659.5 353.2,659.6" fill="rgb(230,20,0)" stroke="rgb(34,3,0)" stroke-width="0.6" stroke-linejoin="round"/>
<polygon points="390,669.3 402.2,669.2 390,664 377.7,664.2" fill="rgb(230,20,0)" stroke="rgb(34,3,0)" stroke-width="0.6" stroke-linejoin="round"/>
<polygon points="303.9,654.6 316.2,655.1 303.9,651.8 291.6,651.4" fill="rgb(230,20,0)" stroke="rgb(34,3,0)" stroke-width="0.6" stroke-linejoin="round"/>
<polygon points="328.5,659 340.9,659.4 328.6,655.4 316.2,655.1" fill="rgb(230,20,0)" stroke="rgb(34,3,0)" stroke-width="0.6" stroke-linejoin="round"/>
<polygon points="353.1,663.8 365.4,664.1 353.2,659.6 340.9,659.4" fill="rgb(230,20,0)" stroke="rgb(34,3,0)" stroke-width="0.6" stroke-linejoin="round"/>
<polygon points="377.7,669.2 390,669.3 377.7,664.2 365.4,664.1" fill="rgb(230,20,0)" stroke="rgb(34,3,0)" stroke-width="0.6" stroke-linejoin="round"/>
<polygon points="316.2,658.4 328.5,659 316.2,655.1 303.9,654.6" fill="rgb(230,20,0)" stroke="rgb(34,3,0)" stroke-width="0.6" stroke-linejoin="round"/>
<polygon points="340.8,663.4 353.1,663.8 340.9,659.4 328.5,659" fill="rgb(230,20,0)" stroke="rgb(34,3,0)" stroke-width="0.6" stroke-linejoin="round"/>
<polygon points="365.4,668.8 377.7,669.2 365.4,664.1 353.1,663.8" fill="rgb(230,20,0)" stroke="rgb(34,3,0)" stroke-width="0.6" stroke-linejoin="round"/>
<polygon points="328.5,662.7 340.8,663.4 328.5,659 316.2,658.4" fill="rgb(230,20,0)" stroke="rgb(34,3,0)" stroke-width="0.6" stroke-linejoin="round"/>
<polygon points="353.1,668.3 365.4,668.8 353.1,663.8 340.8,663.4" fill="rgb(230,20,0)" stroke="rgb(34,3,0)" stroke-width="0.6" stroke-linejoin="round"/>
<polygon points="340.8,667.5 353.1,668.3 340.8,663.4 328.5,662.7" fill="rgb(230,20,0)" stroke="rgb(34,3,0)" stroke-width="0.6" stroke-linejoin="round"/>
<line x1="85.5" y1="654.6" x2="85.5" y2="666" stroke="#6a6a70" stroke-width="1.3"/>
<line x1="341.1" y1="590.6" x2="341.1" y2="606" stroke="#6a6a70" stroke-width="1.3"/>
<circle cx="85.5" cy="654.6" r="4.6" fill="#c40000" stroke="#6a0000" stroke-width="1"/>
<circle cx="596.2" cy="654.1" r="4.7" fill="#f2d5c4" stroke="#b87a58" stroke-width="1.1"/>
<circle cx="341.1" cy="688" r="4.7" fill="#f2d5c4" stroke="#b87a58" stroke-width="1.1"/>
<circle cx="341.1" cy="590.6" r="4.6" fill="#c40000" stroke="#6a0000" stroke-width="1"/>
<circle cx="341.1" cy="626.6" r="4.6" fill="#c40000" stroke="#6a0000" stroke-width="1"/>
<circle cx="341.1" cy="622.4" r="4.6" fill="#c40000" stroke="#6a0000" stroke-width="1"/>
<text x="65" y="783.5" font-size="15.6" font-family="Liberation Sans, sans-serif" fill="#111" stroke="#111" stroke-width="0.45" textLength="18.2" lengthAdjust="spacingAndGlyphs">65</text>
<text x="63" y="744.9" font-size="15.6" font-family="Liberation Sans, sans-serif" fill="#111" stroke="#111" stroke-width="0.45" textLength="18.2" lengthAdjust="spacingAndGlyphs">70</text>
<text x="60.9" y="706.3" font-size="15.6" font-family="Liberation Sans, sans-serif" fill="#111" stroke="#111" stroke-width="0.45" textLength="18.2" lengthAdjust="spacingAndGlyphs">75</text>
<text x="59" y="667.6" font-size="15.6" font-family="Liberation Sans, sans-serif" fill="#111" stroke="#111" stroke-width="0.45" textLength="18" lengthAdjust="spacingAndGlyphs">80</text>
<text x="57" y="629" font-size="15.6" font-family="Liberation Sans, sans-serif" fill="#111" stroke="#111" stroke-width="0.45" textLength="18" lengthAdjust="spacingAndGlyphs">85</text>
<text x="54.7" y="590.3" font-size="15.6" font-family="Liberation Sans, sans-serif" fill="#111" stroke="#111" stroke-width="0.45" textLength="18.2" lengthAdjust="spacingAndGlyphs">90</text>
<text x="52.7" y="551.7" font-size="15.6" font-family="Liberation Sans, sans-serif" fill="#111" stroke="#111" stroke-width="0.45" textLength="18.2" lengthAdjust="spacingAndGlyphs">95</text>
<text x="313.2" y="982.9" font-size="15.6" font-family="Liberation Sans, sans-serif" fill="#111" stroke="#111" stroke-width="0.45" textLength="18.2" lengthAdjust="spacingAndGlyphs">25</text>
<text x="264.6" y="961.6" font-size="15.6" font-family="Liberation Sans, sans-serif" fill="#111" stroke="#111" stroke-width="0.45" textLength="18" lengthAdjust="spacingAndGlyphs">30</text>
<text x="215.8" y="940.3" font-size="15.6" font-family="Liberation Sans, sans-serif" fill="#111" stroke="#111" stroke-width="0.45" textLength="18" lengthAdjust="spacingAndGlyphs">35</text>
<text x="167.3" y="919.1" font-size="15.6" font-family="Liberation Sans, sans-serif" fill="#111" stroke="#111" stroke-width="0.45" textLength="17.7" lengthAdjust="spacingAndGlyphs">40</text>
<text x="118.5" y="897.8" font-size="15.6" font-family="Liberation Sans, sans-serif" fill="#111" stroke="#111" stroke-width="0.45" textLength="17.7" lengthAdjust="spacingAndGlyphs">45</text>
<text x="69.3" y="876.5" font-size="15.6" font-family="Liberation Sans, sans-serif" fill="#111" stroke="#111" stroke-width="0.45" textLength="18" lengthAdjust="spacingAndGlyphs">50</text>
<text x="350.5" y="982.9" font-size="15.6" font-family="Liberation Sans, sans-serif" fill="#111" stroke="#111" stroke-width="0.45" textLength="17.7" lengthAdjust="spacingAndGlyphs">40</text>
<text x="411.7" y="956.3" font-size="15.6" font-family="Liberation Sans, sans-serif" fill="#111" stroke="#111" stroke-width="0.45" textLength="17.7" lengthAdjust="spacingAndGlyphs">45</text>
<text x="472.6" y="929.6" font-size="15.6" font-family="Liberation Sans, sans-serif" fill="#111" stroke="#111" stroke-width="0.45" textLength="18" lengthAdjust="spacingAndGlyphs">50</text>
<text x="533.8" y="903" font-size="15.6" font-family="Liberation Sans, sans-serif" fill="#111" stroke="#111" stroke-width="0.45" textLength="18" lengthAdjust="spacingAndGlyphs">55</text>
<text x="594.8" y="876.4" font-size="15.6" font-family="Liberation Sans, sans-serif" fill="#111" stroke="#111" stroke-width="0.45" textLength="18.2" lengthAdjust="spacingAndGlyphs">60</text>
<polygon points="331.3,1530.1 580.2,1414.3 331.3,1323.4 82.3,1414.4" fill="#666666"/>
<line x1="141.6" y1="1314.9" x2="132.2" y2="1069.2" stroke="#5a5a5a" stroke-width="1.3"/>
<line x1="204.8" y1="1294.1" x2="198.4" y2="1054.7" stroke="#5a5a5a" stroke-width="1.3"/>
<line x1="268" y1="1273.3" x2="264.7" y2="1040.1" stroke="#5a5a5a" stroke-width="1.3"/>
<line x1="533.4" y1="1319" x2="543.1" y2="1072.2" stroke="#5a5a5a" stroke-width="1.3"/>
<line x1="482.9" y1="1302.4" x2="490.1" y2="1060.5" stroke="#5a5a5a" stroke-width="1.3"/>
<line x1="432.3" y1="1285.7" x2="437" y2="1048.9" stroke="#5a5a5a" stroke-width="1.3"/>
<line x1="381.8" y1="1269.1" x2="384" y2="1037.2" stroke="#5a5a5a" stroke-width="1.3"/>
<line x1="78.4" y1="1335.7" x2="331.2" y2="1252.5" stroke="#5a5a5a" stroke-width="1.3"/>
<line x1="331.2" y1="1252.5" x2="584" y2="1335.6" stroke="#5a5a5a" stroke-width="1.3"/>
<line x1="76.3" y1="1293.7" x2="331.2" y2="1214.7" stroke="#5a5a5a" stroke-width="1.3"/>
<line x1="331.2" y1="1214.7" x2="586" y2="1293.6" stroke="#5a5a5a" stroke-width="1.3"/>
<line x1="74.3" y1="1251.7" x2="331.1" y2="1176.9" stroke="#5a5a5a" stroke-width="1.3"/>
<line x1="331.1" y1="1176.9" x2="588.1" y2="1251.7" stroke="#5a5a5a" stroke-width="1.3"/>
<line x1="72.2" y1="1209.7" x2="331.1" y2="1139" stroke="#5a5a5a" stroke-width="1.3"/>
<line x1="331.1" y1="1139" x2="590.1" y2="1209.7" stroke="#5a5a5a" stroke-width="1.3"/>
<line x1="70.1" y1="1167.8" x2="331" y2="1101.2" stroke="#5a5a5a" stroke-width="1.3"/>
<line x1="331" y1="1101.2" x2="592.1" y2="1167.7" stroke="#5a5a5a" stroke-width="1.3"/>
<line x1="68.1" y1="1125.8" x2="331" y2="1063.4" stroke="#5a5a5a" stroke-width="1.3"/>
<line x1="331" y1="1063.4" x2="594.2" y2="1125.8" stroke="#5a5a5a" stroke-width="1.3"/>
<line x1="66" y1="1083.8" x2="330.9" y2="1025.6" stroke="#5a5a5a" stroke-width="1.3"/>
<line x1="330.9" y1="1025.6" x2="596.2" y2="1083.8" stroke="#5a5a5a" stroke-width="1.3"/>
<line x1="82.3" y1="1414.4" x2="66" y2="1083.8" stroke="#5a5a5a" stroke-width="1.3"/>
<line x1="331.3" y1="1323.4" x2="330.9" y2="1025.6" stroke="#5a5a5a" stroke-width="1.3"/>
<line x1="580.2" y1="1414.3" x2="596.2" y2="1083.8" stroke="#5a5a5a" stroke-width="1.3"/>
<polyline points="82.3,1414.4 331.3,1530.1 580.2,1414.3" fill="none" stroke="#303030" stroke-width="1.1"/>
<polyline points="82.3,1414.4 331.3,1323.4 580.2,1414.3" fill="none" stroke="#303030" stroke-width="1.0"/>
<polyline points="116.5,1401.9 116.2,1402.6 115.5,1403.9 115.5,1404 114.9,1405.4 114.6,1406 114.3,1406.8 113.7,1408 113.6,1408.2 113,1409.6 112.8,1410.1 112.4,1411.1 111.9,1412.1 111.8,1412.5 111.1,1413.9 111.1,1414.1 110.5,1415.4 110.2,1416.2 109.9,1416.8 109.3,1418.2 109.3,1418.3 108.7,1419.7 108.5,1420.3 108.1,1421.2 107.6,1422.3 107.5,1422.6 106.9,1424.1 106.8,1424.4 106.3,1425.5" fill="none" stroke="rgb(27,194,40)" stroke-width="1.8" stroke-linejoin="round"/>
<polyline points="156.5,1387.3 156,1388.3 155.5,1389.3 155.3,1389.7 154.6,1391.1 154.5,1391.3 154,1392.4 153.5,1393.4 153.3,1393.8 152.6,1395.2 152.5,1395.4 151.9,1396.6 151.5,1397.5 151.3,1398 150.6,1399.4 150.5,1399.5 149.9,1400.7 149.6,1401.6 149.3,1402.1 148.6,1403.5 148.6,1403.6 148,1405 147.6,1405.7 147.3,1406.4 146.7,1407.7 146.7,1407.8 146,1409.2 145.8,1409.8 145.4,1410.6 144.8,1411.8 144.8,1412 144.1,1413.5 143.9,1413.9 143.5,1414.9 143,1416 142.9,1416.3 142.2,1417.8 142.1,1418 141.6,1419.2 141.2,1420.1 141,1420.7 140.4,1422.1 140.4,1422.1 139.8,1423.6 139.5,1424.2 139.2,1425 138.6,1426.3 138.5,1426.5 137.9,1428 137.8,1428.3 137.3,1429.4 136.9,1430.4 136.7,1430.9 136.1,1432.4 136.1,1432.5 135.6,1433.9 135.3,1434.6 135,1435.3 134.5,1436.6 134.4,1436.8 133.8,1438.3" fill="none" stroke="rgb(27,194,40)" stroke-width="1.8" stroke-linejoin="round"/>
<polyline points="204.1,1369.9 203.6,1370.8 202.9,1371.9 202.8,1372.1 202.1,1373.4 201.7,1374 201.3,1374.7 200.5,1376.1 200.5,1376.1 199.8,1377.4 199.4,1378.1 199.1,1378.7 198.3,1380 198.2,1380.2 197.6,1381.4 197.1,1382.3 196.8,1382.7 196.1,1384 196,1384.3 195.4,1385.4 194.8,1386.4 194.7,1386.7 194,1388.1 193.7,1388.5 193.2,1389.4 192.7,1390.6 192.5,1390.8 191.8,1392.2 191.6,1392.6 191.1,1393.5 190.5,1394.7 190.4,1394.9 189.7,1396.3 189.5,1396.8 189,1397.7 188.4,1398.8 188.3,1399 187.6,1400.4 187.4,1400.9 186.9,1401.8 186.4,1403 186.3,1403.2 185.6,1404.6 185.4,1405.1 184.9,1406 184.4,1407.1 184.2,1407.4 183.6,1408.8 183.4,1409.2 182.9,1410.2 182.4,1411.3 182.3,1411.6 181.6,1413.1 181.5,1413.4 180.9,1414.5 180.5,1415.4 180.3,1415.9 179.6,1417.3 179.6,1417.5 179,1418.8 178.6,1419.6 178.4,1420.2 177.7,1421.7 177.7,1421.7 177.1,1423.1 176.8,1423.8 176.5,1424.6 175.9,1425.9 175.8,1426 175.2,1427.5 175,1427.9 174.6,1428.9 174.1,1430 174,1430.4 173.4,1431.9 173.3,1432.1 172.8,1433.4 172.4,1434.2 172.1,1434.8 171.6,1436.3 171.5,1436.3 170.9,1437.8 170.7,1438.4 170.4,1439.3 169.9,1440.5 169.8,1440.8 169.2,1442.3 169.1,1442.6 168.6,1443.8 168.3,1444.7 168,1445.3 167.5,1446.8 167.4,1446.8 166.9,1448.3 166.7,1448.9 166.3,1449.8 165.9,1450.9 165.7,1451.4 165.2,1452.9" fill="none" stroke="rgb(45,199,34)" stroke-width="1.8" stroke-linejoin="round"/>
<polyline points="266.2,1347.2 265.6,1348 264.7,1349.2 264.6,1349.3 263.8,1350.4 263,1351.5 262.9,1351.6 262.1,1352.9 261.5,1353.6 261.2,1354.1 260.3,1355.3 260,1355.8 259.4,1356.6 258.5,1357.8 258.5,1357.9 257.7,1359.1 257,1360.1 256.8,1360.3 256,1361.6 255.5,1362.2 255.1,1362.8 254.3,1364.1 254.1,1364.4 253.4,1365.4 252.6,1366.5 252.6,1366.6 251.7,1367.9 251.2,1368.6 250.9,1369.2 250.1,1370.5 249.9,1370.8 249.2,1371.8 248.5,1372.9 248.4,1373.1 247.6,1374.3 247.2,1375 246.8,1375.6 246,1376.9 245.8,1377.2 245.2,1378.3 244.5,1379.3 244.4,1379.6 243.6,1380.9 243.3,1381.4 242.8,1382.2 242,1383.5 242,1383.6 241.2,1384.8 240.7,1385.7 240.5,1386.2 239.7,1387.5 239.5,1387.8 238.9,1388.8 238.3,1389.9 238.2,1390.2 237.4,1391.5 237.1,1392.1 236.6,1392.9 235.9,1394.2 235.9,1394.2 235.2,1395.6 234.8,1396.3 234.4,1396.9 233.7,1398.3 233.6,1398.4 232.9,1399.7 232.5,1400.5 232.2,1401.1 231.5,1402.4 231.4,1402.7 230.8,1403.8 230.3,1404.8 230,1405.2 229.3,1406.6 229.2,1406.9 228.6,1408 228.1,1409 227.9,1409.4 227.2,1410.8 227,1411.1 226.5,1412.2 226,1413.2 225.8,1413.6 225.1,1415 225,1415.4 224.5,1416.4 224,1417.5 223.8,1417.9 223.1,1419.3 223,1419.6 222.4,1420.7 222,1421.7 221.8,1422.1 221.1,1423.6 221,1423.8 220.4,1425 220,1425.9 219.8,1426.5 219.1,1427.9 219.1,1428 218.5,1429.4 218.2,1430.1 217.8,1430.8 217.2,1432.3 217.2,1432.3 216.6,1433.8 216.3,1434.4 215.9,1435.2 215.4,1436.5 215.3,1436.7 214.7,1438.2 214.5,1438.6 214.1,1439.7 213.7,1440.7 213.5,1441.2 212.9,1442.7 212.8,1442.8 212.3,1444.2 212,1444.9 211.7,1445.7 211.1,1447.1 211.1,1447.2 210.5,1448.7 210.3,1449.2 209.9,1450.2 209.5,1451.3 209.3,1451.7 208.7,1453.3 208.7,1453.4 208.2,1454.8 207.9,1455.5 207.6,1456.3 207.1,1457.6 207,1457.9 206.5,1459.4 206.4,1459.7 205.9,1461 205.6,1461.8 205.4,1462.5 204.9,1464 204.8,1464.1 204.3,1465.6 204.1,1466.1 203.7,1467.2 203.4,1468.2 203.2,1468.8 202.7,1470.3 202.7,1470.3" fill="none" stroke="rgb(154,224,0)" stroke-width="1.8" stroke-linejoin="round"/>
<polyline points="529.8,1437.8 529.9,1437.3 530.2,1435.8 530.3,1435.6 530.6,1434 530.6,1433.8 530.9,1432.4 531,1431.9 531.3,1430.8 531.4,1430 531.6,1429.1 531.8,1428.1 531.9,1427.5 532.2,1426.1 532.2,1425.9 532.5,1424.2 532.5,1424.2 532.8,1422.6 532.8,1422.4 533.1,1421 533.1,1420.5 533.3,1419.4 533.5,1418.6 533.6,1417.7 533.7,1416.7 533.8,1416.1 534,1414.9 534.1,1414.5 534.3,1413.1 534.3,1412.8 534.5,1411.2 534.6,1411.2 534.8,1409.6 534.8,1409.4 535,1408 535,1407.6 535.2,1406.3 535.2,1405.8 535.3,1404.7 535.4,1404 535.5,1403.1 535.6,1402.2 535.7,1401.4 535.8,1400.5 535.8,1399.8 535.9,1398.7 536,1398.2" fill="none" stroke="rgb(220,188,0)" stroke-width="1.8" stroke-linejoin="round"/>
<polyline points="352.1,1331 350.8,1332.1 349.6,1333.1 349,1333.7 348.3,1334.2 347.1,1335.3 345.9,1336.4 345.9,1336.4 344.6,1337.5 343.4,1338.6 343,1339 342.2,1339.7 341,1340.8 340.2,1341.6 339.8,1341.9 338.7,1343 337.5,1344.2 337.5,1344.2 336.4,1345.3 335.2,1346.4 334.9,1346.7 334.1,1347.6 332.9,1348.7 332.5,1349.2 331.8,1349.9 330.7,1351 330.1,1351.7 329.6,1352.2 328.5,1353.3 327.7,1354.2 327.4,1354.5 326.3,1355.7 325.5,1356.6 325.3,1356.9 324.2,1358 323.3,1359 323.2,1359.2 322.1,1360.4 321.2,1361.4 321.1,1361.6 320,1362.8 319.2,1363.8 319,1364 318,1365.2 317.2,1366.2 317,1366.5 316,1367.7 315.2,1368.6 315,1368.9 314,1370.1 313.4,1370.9 313,1371.4 312,1372.6 311.5,1373.2 311.1,1373.8 310.1,1375.1 309.7,1375.6 309.1,1376.3 308.2,1377.6 308,1377.9 307.3,1378.9 306.3,1380.1 306.3,1380.2 305.4,1381.4 304.6,1382.5 304.5,1382.7 303.6,1383.9 303,1384.8 302.7,1385.2 301.8,1386.5 301.4,1387 300.9,1387.8 300,1389.1 299.8,1389.3 299.1,1390.4 298.3,1391.6 298.2,1391.7 297.3,1393 296.8,1393.8 296.5,1394.3 295.6,1395.7 295.4,1396.1 294.8,1397 293.9,1398.3 293.9,1398.3 293.1,1399.7 292.5,1400.6 292.3,1401 291.4,1402.3 291.2,1402.8 290.6,1403.7 289.8,1405 289.8,1405 289,1406.4 288.5,1407.2 288.2,1407.8 287.4,1409.1 287.2,1409.4 286.6,1410.5 286,1411.6 285.8,1411.9 285.1,1413.2 284.7,1413.9 284.3,1414.6 283.5,1416 283.5,1416.1 282.8,1417.4 282.3,1418.3 282,1418.8 281.3,1420.2 281.2,1420.4 280.5,1421.6 280,1422.6 279.8,1423 279.1,1424.5 278.9,1424.8 278.4,1425.9 277.8,1427 277.6,1427.3 276.9,1428.8 276.7,1429.2 276.2,1430.2 275.7,1431.4 275.5,1431.6 274.8,1433.1 274.6,1433.5 274.2,1434.5 273.6,1435.7 273.5,1436 272.8,1437.5 272.6,1437.9 272.1,1438.9 271.6,1440 271.5,1440.4 270.8,1441.9 270.7,1442.2 270.2,1443.4 269.7,1444.3 269.5,1444.8 268.9,1446.3 268.8,1446.5 268.3,1447.8 267.9,1448.6 267.6,1449.3 267,1450.8 267,1450.8 266.4,1452.4 266.2,1452.9 265.8,1453.9 265.3,1455.1 265.2,1455.4 264.6,1456.9 264.5,1457.2 264,1458.5 263.7,1459.4 263.4,1460 262.9,1461.5 262.9,1461.5 262.3,1463.1 262.1,1463.6 261.7,1464.7 261.3,1465.8 261.2,1466.2 260.6,1467.8 260.6,1467.9 260.1,1469.3 259.8,1470 259.5,1470.9 259.1,1472.2 259,1472.5 258.5,1474.1 258.4,1474.3 258,1475.7 257.7,1476.4 257.5,1477.3 257.1,1478.5 257,1478.9 256.5,1480.5 256.4,1480.6 256,1482.1 255.8,1482.8 255.5,1483.7 255.1,1484.9 255,1485.4 254.5,1487 254.5,1487 254.1,1488.6 253.9,1489.1 253.6,1490.3 253.4,1491.2 253.2,1491.9 252.8,1493.3 252.7,1493.6" fill="none" stroke="rgb(220,188,0)" stroke-width="1.8" stroke-linejoin="round"/>
<circle cx="78.4" cy="1335.7" r="2.2" fill="#000"/>
<circle cx="76.3" cy="1293.7" r="2.2" fill="#000"/>
<circle cx="74.3" cy="1251.7" r="2.2" fill="#000"/>
<circle cx="72.2" cy="1209.7" r="2.2" fill="#000"/>
<circle cx="70.1" cy="1167.8" r="2.2" fill="#000"/>
<circle cx="68.1" cy="1125.8" r="2.2" fill="#000"/>
<circle cx="66" cy="1083.8" r="2.2" fill="#000"/>
<circle cx="331.3" cy="1530.1" r="2.2" fill="#000"/>
<circle cx="281.5" cy="1507" r="2.2" fill="#000"/>
<circle cx="231.7" cy="1483.8" r="2.2" fill="#000"/>
<circle cx="181.9" cy="1460.7" r="2.2" fill="#000"/>
<circle cx="132.1" cy="1437.5" r="2.2" fill="#000"/>
<circle cx="82.3" cy="1414.4" r="2.2" fill="#000"/>
<circle cx="331.3" cy="1530.1" r="2.2" fill="#000"/>
<circle cx="393.5" cy="1501.1" r="2.2" fill="#000"/>
<circle cx="455.8" cy="1472.2" r="2.2" fill="#000"/>
<circle cx="518" cy="1443.2" r="2.2" fill="#000"/>
<circle cx="580.2" cy="1414.3" r="2.2" fill="#000"/>
<polygon points="331,1121.5 343.4,1116.7 331,1117.1 318.6,1122.2" fill="rgb(240,243,0)" stroke="rgb(36,36,0)" stroke-width="0.6" stroke-linejoin="round"/>
<polygon points="318.7,1126.6 331,1121.5 318.6,1122.2 306.3,1127.5" fill="rgb(233,245,0)" stroke="rgb(35,37,0)" stroke-width="0.6" stroke-linejoin="round"/>
<polygon points="343.4,1121.2 355.8,1116.6 343.4,1116.7 331,1121.5" fill="rgb(244,219,0)" stroke="rgb(37,33,0)" stroke-width="0.6" stroke-linejoin="round"/>
<polygon points="306.3,1132 318.7,1126.6 306.3,1127.5 293.9,1133.1" fill="rgb(223,246,0)" stroke="rgb(33,37,0)" stroke-width="0.6" stroke-linejoin="round"/>
<polygon points="331,1126 343.4,1121.2 331,1121.5 318.7,1126.6" fill="rgb(242,229,0)" stroke="rgb(36,34,0)" stroke-width="0.6" stroke-linejoin="round"/>
<polygon points="355.9,1121.3 368.3,1116.9 355.8,1116.6 343.4,1121.2" fill="rgb(246,199,0)" stroke="rgb(37,30,0)" stroke-width="0.6" stroke-linejoin="round"/>
<polygon points="368.3,1121.7 380.7,1117.6 368.3,1116.9 355.9,1121.3" fill="rgb(249,181,0)" stroke="rgb(37,27,0)" stroke-width="0.6" stroke-linejoin="round"/>
<polygon points="293.9,1137.6 306.3,1132 293.9,1133.1 281.6,1139" fill="rgb(211,247,0)" stroke="rgb(32,37,0)" stroke-width="0.6" stroke-linejoin="round"/>
<polygon points="318.7,1131.2 331,1126 318.7,1126.6 306.3,1132" fill="rgb(241,240,0)" stroke="rgb(36,36,0)" stroke-width="0.6" stroke-linejoin="round"/>
<polygon points="343.5,1125.9 355.9,1121.3 343.4,1121.2 331,1126" fill="rgb(245,207,0)" stroke="rgb(37,31,0)" stroke-width="0.6" stroke-linejoin="round"/>
<polygon points="281.6,1143.5 293.9,1137.6 281.6,1139 269.3,1145.2" fill="rgb(198,247,0)" stroke="rgb(30,37,0)" stroke-width="0.6" stroke-linejoin="round"/>
<polygon points="306.3,1136.6 318.7,1131.2 306.3,1132 293.9,1137.6" fill="rgb(233,245,0)" stroke="rgb(35,37,0)" stroke-width="0.6" stroke-linejoin="round"/>
<polygon points="331.1,1130.7 343.5,1125.9 331,1126 318.7,1131.2" fill="rgb(244,216,0)" stroke="rgb(37,32,0)" stroke-width="0.6" stroke-linejoin="round"/>
<polygon points="355.9,1126.1 368.3,1121.7 355.9,1121.3 343.5,1125.9" fill="rgb(248,187,0)" stroke="rgb(37,28,0)" stroke-width="0.6" stroke-linejoin="round"/>
<polygon points="380.7,1122.5 393.2,1118.7 380.7,1117.6 368.3,1121.7" fill="rgb(251,165,0)" stroke="rgb(38,25,0)" stroke-width="0.6" stroke-linejoin="round"/>
<polygon points="293.9,1142.2 306.3,1136.6 293.9,1137.6 281.6,1143.5" fill="rgb(222,246,0)" stroke="rgb(33,37,0)" stroke-width="0.6" stroke-linejoin="round"/>
<polygon points="269.3,1149.7 281.6,1143.5 269.3,1145.2 257,1151.6" fill="rgb(184,248,0)" stroke="rgb(28,37,0)" stroke-width="0.6" stroke-linejoin="round"/>
<polygon points="318.7,1135.9 331.1,1130.7 318.7,1131.2 306.3,1136.6" fill="rgb(242,228,0)" stroke="rgb(36,34,0)" stroke-width="0.6" stroke-linejoin="round"/>
<polygon points="343.5,1130.7 355.9,1126.1 343.5,1125.9 331.1,1130.7" fill="rgb(247,195,0)" stroke="rgb(37,29,0)" stroke-width="0.6" stroke-linejoin="round"/>
<polygon points="393.2,1123.8 405.6,1120.2 393.2,1118.7 380.7,1122.5" fill="rgb(253,153,0)" stroke="rgb(38,23,0)" stroke-width="0.6" stroke-linejoin="round"/>
<polygon points="368.3,1126.7 380.7,1122.5 368.3,1121.7 355.9,1126.1" fill="rgb(250,170,0)" stroke="rgb(38,25,0)" stroke-width="0.6" stroke-linejoin="round"/>
<polygon points="331.1,1135.6 343.5,1130.7 331.1,1130.7 318.7,1135.9" fill="rgb(246,204,0)" stroke="rgb(37,31,0)" stroke-width="0.6" stroke-linejoin="round"/>
<polygon points="256.9,1156.1 269.3,1149.7 257,1151.6 244.7,1158.3" fill="rgb(169,249,0)" stroke="rgb(25,37,0)" stroke-width="0.6" stroke-linejoin="round"/>
<polygon points="281.6,1148.1 293.9,1142.2 281.6,1143.5 269.3,1149.7" fill="rgb(209,247,0)" stroke="rgb(31,37,0)" stroke-width="0.6" stroke-linejoin="round"/>
<polygon points="306.3,1141.3 318.7,1135.9 306.3,1136.6 293.9,1142.2" fill="rgb(241,240,0)" stroke="rgb(36,36,0)" stroke-width="0.6" stroke-linejoin="round"/>
<polygon points="355.9,1131.1 368.3,1126.7 355.9,1126.1 343.5,1130.7" fill="rgb(249,176,0)" stroke="rgb(37,26,0)" stroke-width="0.6" stroke-linejoin="round"/>
<polygon points="380.8,1127.7 393.2,1123.8 380.7,1122.5 368.3,1126.7" fill="rgb(252,155,0)" stroke="rgb(38,23,0)" stroke-width="0.6" stroke-linejoin="round"/>
<polygon points="405.6,1125.4 418.1,1122 405.6,1120.2 393.2,1123.8" fill="rgb(254,142,0)" stroke="rgb(38,21,0)" stroke-width="0.6" stroke-linejoin="round"/>
<polygon points="244.7,1162.9 256.9,1156.1 244.7,1158.3 232.4,1165.3" fill="rgb(153,250,0)" stroke="rgb(23,37,0)" stroke-width="0.6" stroke-linejoin="round"/>
<polygon points="269.2,1154.4 281.6,1148.1 269.3,1149.7 256.9,1156.1" fill="rgb(196,247,0)" stroke="rgb(29,37,0)" stroke-width="0.6" stroke-linejoin="round"/>
<polygon points="318.7,1140.8 331.1,1135.6 318.7,1135.9 306.3,1141.3" fill="rgb(244,215,0)" stroke="rgb(37,32,0)" stroke-width="0.6" stroke-linejoin="round"/>
<polygon points="343.5,1135.7 355.9,1131.1 343.5,1130.7 331.1,1135.6" fill="rgb(248,184,0)" stroke="rgb(37,28,0)" stroke-width="0.6" stroke-linejoin="round"/>
<polygon points="368.3,1131.8 380.8,1127.7 368.3,1126.7 355.9,1131.1" fill="rgb(252,160,0)" stroke="rgb(38,24,0)" stroke-width="0.6" stroke-linejoin="round"/>
<polygon points="393.2,1129.1 405.6,1125.4 393.2,1123.8 380.8,1127.7" fill="rgb(254,144,0)" stroke="rgb(38,22,0)" stroke-width="0.6" stroke-linejoin="round"/>
<polygon points="293.9,1147 306.3,1141.3 293.9,1142.2 281.6,1148.1" fill="rgb(232,245,0)" stroke="rgb(35,37,0)" stroke-width="0.6" stroke-linejoin="round"/>
<polygon points="418.1,1127.5 430.5,1124.3 418.1,1122 405.6,1125.4" fill="rgb(255,135,0)" stroke="rgb(38,20,0)" stroke-width="0.6" stroke-linejoin="round"/>
<polygon points="232.4,1169.9 244.7,1162.9 232.4,1165.3 220.2,1172.6" fill="rgb(130,244,7)" stroke="rgb(20,37,1)" stroke-width="0.6" stroke-linejoin="round"/>
<polygon points="281.6,1152.9 293.9,1147 281.6,1148.1 269.2,1154.4" fill="rgb(220,246,0)" stroke="rgb(33,37,0)" stroke-width="0.6" stroke-linejoin="round"/>
<polygon points="306.3,1146.2 318.7,1140.8 306.3,1141.3 293.9,1147" fill="rgb(242,228,0)" stroke="rgb(36,34,0)" stroke-width="0.6" stroke-linejoin="round"/>
<polygon points="405.7,1130.9 418.1,1127.5 405.6,1125.4 393.2,1129.1" fill="rgb(255,134,0)" stroke="rgb(38,20,0)" stroke-width="0.6" stroke-linejoin="round"/>
<polygon points="430.6,1130 443,1127.1 430.5,1124.3 418.1,1127.5" fill="rgb(254,130,0)" stroke="rgb(38,19,0)" stroke-width="0.6" stroke-linejoin="round"/>
<polygon points="256.9,1160.9 269.2,1154.4 256.9,1156.1 244.7,1162.9" fill="rgb(181,248,0)" stroke="rgb(27,37,0)" stroke-width="0.6" stroke-linejoin="round"/>
<polygon points="331.1,1140.6 343.5,1135.7 331.1,1135.6 318.7,1140.8" fill="rgb(247,193,0)" stroke="rgb(37,29,0)" stroke-width="0.6" stroke-linejoin="round"/>
<polygon points="355.9,1136.2 368.3,1131.8 355.9,1131.1 343.5,1135.7" fill="rgb(251,166,0)" stroke="rgb(38,25,0)" stroke-width="0.6" stroke-linejoin="round"/>
<polygon points="380.8,1133 393.2,1129.1 380.8,1127.7 368.3,1131.8" fill="rgb(253,146,0)" stroke="rgb(38,22,0)" stroke-width="0.6" stroke-linejoin="round"/>
<polygon points="293.9,1151.9 306.3,1146.2 293.9,1147 281.6,1152.9" fill="rgb(240,242,0)" stroke="rgb(36,36,0)" stroke-width="0.6" stroke-linejoin="round"/>
<polygon points="220.1,1177.2 232.4,1169.9 220.2,1172.6 208,1180.1" fill="rgb(105,237,17)" stroke="rgb(16,36,3)" stroke-width="0.6" stroke-linejoin="round"/>
<polygon points="244.6,1167.6 256.9,1160.9 244.7,1162.9 232.4,1169.9" fill="rgb(164,249,0)" stroke="rgb(25,37,0)" stroke-width="0.6" stroke-linejoin="round"/>
<polygon points="269.2,1159.2 281.6,1152.9 269.2,1154.4 256.9,1160.9" fill="rgb(206,247,0)" stroke="rgb(31,37,0)" stroke-width="0.6" stroke-linejoin="round"/>
<polygon points="318.7,1145.8 331.1,1140.6 318.7,1140.8 306.3,1146.2" fill="rgb(246,204,0)" stroke="rgb(37,31,0)" stroke-width="0.6" stroke-linejoin="round"/>
<polygon points="343.5,1140.9 355.9,1136.2 343.5,1135.7 331.1,1140.6" fill="rgb(250,174,0)" stroke="rgb(37,26,0)" stroke-width="0.6" stroke-linejoin="round"/>
<polygon points="368.4,1137.1 380.8,1133 368.3,1131.8 355.9,1136.2" fill="rgb(253,151,0)" stroke="rgb(38,23,0)" stroke-width="0.6" stroke-linejoin="round"/>
<polygon points="393.2,1134.5 405.7,1130.9 393.2,1129.1 380.8,1133" fill="rgb(255,135,0)" stroke="rgb(38,20,0)" stroke-width="0.6" stroke-linejoin="round"/>
<polygon points="418.1,1133.1 430.6,1130 418.1,1127.5 405.7,1130.9" fill="rgb(253,128,0)" stroke="rgb(38,19,0)" stroke-width="0.6" stroke-linejoin="round"/>
<polygon points="443,1132.9 455.4,1130.2 443,1127.1 430.6,1130" fill="rgb(253,128,0)" stroke="rgb(38,19,0)" stroke-width="0.6" stroke-linejoin="round"/>
<polygon points="306.3,1151.3 318.7,1145.8 306.3,1146.2 293.9,1151.9" fill="rgb(244,216,0)" stroke="rgb(37,32,0)" stroke-width="0.6" stroke-linejoin="round"/>
<polygon points="355.9,1141.5 368.4,1137.1 355.9,1136.2 343.5,1140.9" fill="rgb(252,156,0)" stroke="rgb(38,23,0)" stroke-width="0.6" stroke-linejoin="round"/>
<polygon points="207.9,1184.9 220.1,1177.2 208,1180.1 195.8,1188" fill="rgb(78,229,27)" stroke="rgb(12,34,4)" stroke-width="0.6" stroke-linejoin="round"/>
<polygon points="232.4,1174.7 244.6,1167.6 232.4,1169.9 220.1,1177.2" fill="rgb(146,249,2)" stroke="rgb(22,37,0)" stroke-width="0.6" stroke-linejoin="round"/>
<polygon points="256.9,1165.7 269.2,1159.2 256.9,1160.9 244.6,1167.6" fill="rgb(191,248,0)" stroke="rgb(29,37,0)" stroke-width="0.6" stroke-linejoin="round"/>
<polygon points="281.5,1157.9 293.9,1151.9 281.6,1152.9 269.2,1159.2" fill="rgb(230,246,0)" stroke="rgb(34,37,0)" stroke-width="0.6" stroke-linejoin="round"/>
<polygon points="331.1,1145.8 343.5,1140.9 331.1,1140.6 318.7,1145.8" fill="rgb(249,183,0)" stroke="rgb(37,27,0)" stroke-width="0.6" stroke-linejoin="round"/>
<polygon points="380.8,1138.4 393.2,1134.5 380.8,1133 368.4,1137.1" fill="rgb(255,138,0)" stroke="rgb(38,21,0)" stroke-width="0.6" stroke-linejoin="round"/>
<polygon points="405.7,1136.5 418.1,1133.1 405.7,1130.9 393.2,1134.5" fill="rgb(253,127,0)" stroke="rgb(38,19,0)" stroke-width="0.6" stroke-linejoin="round"/>
<polygon points="455.4,1136.2 467.8,1133.8 455.4,1130.2 443,1132.9" fill="rgb(253,128,0)" stroke="rgb(38,19,0)" stroke-width="0.6" stroke-linejoin="round"/>
<polygon points="430.6,1135.8 443,1132.9 430.6,1130 418.1,1133.1" fill="rgb(252,123,0)" stroke="rgb(38,19,0)" stroke-width="0.6" stroke-linejoin="round"/>
<polygon points="269.2,1164.2 281.5,1157.9 269.2,1159.2 256.9,1165.7" fill="rgb(216,246,0)" stroke="rgb(32,37,0)" stroke-width="0.6" stroke-linejoin="round"/>
<polygon points="368.4,1142.6 380.8,1138.4 368.4,1137.1 355.9,1141.5" fill="rgb(254,142,0)" stroke="rgb(38,21,0)" stroke-width="0.6" stroke-linejoin="round"/>
<polygon points="393.3,1140.2 405.7,1136.5 393.2,1134.5 380.8,1138.4" fill="rgb(253,128,0)" stroke="rgb(38,19,0)" stroke-width="0.6" stroke-linejoin="round"/>
<polygon points="467.9,1140 480.3,1137.8 467.8,1133.8 455.4,1136.2" fill="rgb(254,131,0)" stroke="rgb(38,20,0)" stroke-width="0.6" stroke-linejoin="round"/>
<polygon points="195.7,1192.8 207.9,1184.9 195.8,1188 183.6,1196.2" fill="rgb(50,221,38)" stroke="rgb(7,33,6)" stroke-width="0.6" stroke-linejoin="round"/>
<polygon points="220.1,1182.1 232.4,1174.7 220.1,1177.2 207.9,1184.9" fill="rgb(121,241,11)" stroke="rgb(18,36,2)" stroke-width="0.6" stroke-linejoin="round"/>
<polygon points="244.6,1172.6 256.9,1165.7 244.6,1167.6 232.4,1174.7" fill="rgb(175,249,0)" stroke="rgb(26,37,0)" stroke-width="0.6" stroke-linejoin="round"/>
<polygon points="293.9,1157 306.3,1151.3 293.9,1151.9 281.5,1157.9" fill="rgb(242,230,0)" stroke="rgb(36,35,0)" stroke-width="0.6" stroke-linejoin="round"/>
<polygon points="318.7,1151 331.1,1145.8 318.7,1145.8 306.3,1151.3" fill="rgb(247,193,0)" stroke="rgb(37,29,0)" stroke-width="0.6" stroke-linejoin="round"/>
<polygon points="343.5,1146.2 355.9,1141.5 343.5,1140.9 331.1,1145.8" fill="rgb(251,164,0)" stroke="rgb(38,25,0)" stroke-width="0.6" stroke-linejoin="round"/>
<polygon points="418.2,1138.9 430.6,1135.8 418.1,1133.1 405.7,1136.5" fill="rgb(252,121,0)" stroke="rgb(38,18,0)" stroke-width="0.6" stroke-linejoin="round"/>
<polygon points="443,1138.8 455.4,1136.2 443,1132.9 430.6,1135.8" fill="rgb(252,122,0)" stroke="rgb(38,18,0)" stroke-width="0.6" stroke-linejoin="round"/>
<polygon points="183.6,1201 195.7,1192.8 183.6,1196.2 171.5,1204.7" fill="rgb(30,215,45)" stroke="rgb(4,32,7)" stroke-width="0.6" stroke-linejoin="round"/>
<polygon points="207.9,1189.8 220.1,1182.1 207.9,1184.9 195.7,1192.8" fill="rgb(94,234,21)" stroke="rgb(14,35,3)" stroke-width="0.6" stroke-linejoin="round"/>
<polygon points="232.3,1179.7 244.6,1172.6 232.4,1174.7 220.1,1182.1" fill="rgb(158,250,0)" stroke="rgb(24,37,0)" stroke-width="0.6" stroke-linejoin="round"/>
<polygon points="256.9,1170.8 269.2,1164.2 256.9,1165.7 244.6,1172.6" fill="rgb(202,247,0)" stroke="rgb(30,37,0)" stroke-width="0.6" stroke-linejoin="round"/>
<polygon points="281.5,1163 293.9,1157 281.5,1157.9 269.2,1164.2" fill="rgb(239,245,0)" stroke="rgb(36,37,0)" stroke-width="0.6" stroke-linejoin="round"/>
<polygon points="306.3,1156.5 318.7,1151 306.3,1151.3 293.9,1157" fill="rgb(245,206,0)" stroke="rgb(37,31,0)" stroke-width="0.6" stroke-linejoin="round"/>
<polygon points="331.1,1151.2 343.5,1146.2 331.1,1145.8 318.7,1151" fill="rgb(250,173,0)" stroke="rgb(37,26,0)" stroke-width="0.6" stroke-linejoin="round"/>
<polygon points="380.8,1144.1 393.3,1140.2 380.8,1138.4 368.4,1142.6" fill="rgb(254,130,0)" stroke="rgb(38,20,0)" stroke-width="0.6" stroke-linejoin="round"/>
<polygon points="405.7,1142.3 418.2,1138.9 405.7,1136.5 393.3,1140.2" fill="rgb(252,120,0)" stroke="rgb(38,18,0)" stroke-width="0.6" stroke-linejoin="round"/>
<polygon points="430.6,1141.7 443,1138.8 430.6,1135.8 418.2,1138.9" fill="rgb(251,118,0)" stroke="rgb(38,18,0)" stroke-width="0.6" stroke-linejoin="round"/>
<polygon points="455.5,1142.4 467.9,1140 455.4,1136.2 443,1138.8" fill="rgb(252,123,0)" stroke="rgb(38,19,0)" stroke-width="0.6" stroke-linejoin="round"/>
<polygon points="356,1147 368.4,1142.6 355.9,1141.5 343.5,1146.2" fill="rgb(253,148,0)" stroke="rgb(38,22,0)" stroke-width="0.6" stroke-linejoin="round"/>
<polygon points="480.3,1144.2 492.7,1142.3 480.3,1137.8 467.9,1140" fill="rgb(255,137,0)" stroke="rgb(38,21,0)" stroke-width="0.6" stroke-linejoin="round"/>
<polygon points="171.4,1209.5 183.6,1201 171.5,1204.7 159.4,1213.4" fill="rgb(30,215,45)" stroke="rgb(4,32,7)" stroke-width="0.6" stroke-linejoin="round"/>
<polygon points="195.7,1197.7 207.9,1189.8 195.7,1192.8 183.6,1201" fill="rgb(66,226,31)" stroke="rgb(10,34,5)" stroke-width="0.6" stroke-linejoin="round"/>
<polygon points="220.1,1187.1 232.3,1179.7 220.1,1182.1 207.9,1189.8" fill="rgb(136,246,5)" stroke="rgb(20,37,1)" stroke-width="0.6" stroke-linejoin="round"/>
<polygon points="244.6,1177.6 256.9,1170.8 244.6,1172.6 232.3,1179.7" fill="rgb(186,248,0)" stroke="rgb(28,37,0)" stroke-width="0.6" stroke-linejoin="round"/>
<polygon points="269.2,1169.4 281.5,1163 269.2,1164.2 256.9,1170.8" fill="rgb(226,246,0)" stroke="rgb(34,37,0)" stroke-width="0.6" stroke-linejoin="round"/>
<polygon points="293.9,1162.3 306.3,1156.5 293.9,1157 281.5,1163" fill="rgb(244,219,0)" stroke="rgb(37,33,0)" stroke-width="0.6" stroke-linejoin="round"/>
<polygon points="343.5,1151.7 356,1147 343.5,1146.2 331.1,1151.2" fill="rgb(252,155,0)" stroke="rgb(38,23,0)" stroke-width="0.6" stroke-linejoin="round"/>
<polygon points="368.4,1148.2 380.8,1144.1 368.4,1142.6 356,1147" fill="rgb(255,134,0)" stroke="rgb(38,20,0)" stroke-width="0.6" stroke-linejoin="round"/>
<polygon points="418.2,1144.9 430.6,1141.7 418.2,1138.9 405.7,1142.3" fill="rgb(251,115,0)" stroke="rgb(38,17,0)" stroke-width="0.6" stroke-linejoin="round"/>
<polygon points="443.1,1145 455.5,1142.4 443,1138.8 430.6,1141.7" fill="rgb(251,117,0)" stroke="rgb(38,18,0)" stroke-width="0.6" stroke-linejoin="round"/>
<polygon points="467.9,1146.3 480.3,1144.2 467.9,1140 455.5,1142.4" fill="rgb(253,127,0)" stroke="rgb(38,19,0)" stroke-width="0.6" stroke-linejoin="round"/>
<polygon points="492.7,1148.9 505,1147.2 492.7,1142.3 480.3,1144.2" fill="rgb(254,145,0)" stroke="rgb(38,22,0)" stroke-width="0.6" stroke-linejoin="round"/>
<polygon points="318.7,1156.4 331.1,1151.2 318.7,1151 306.3,1156.5" fill="rgb(248,183,0)" stroke="rgb(37,27,0)" stroke-width="0.6" stroke-linejoin="round"/>
<polygon points="393.3,1146 405.7,1142.3 393.3,1140.2 380.8,1144.1" fill="rgb(252,121,0)" stroke="rgb(38,18,0)" stroke-width="0.6" stroke-linejoin="round"/>
<polygon points="505.1,1154 517.4,1152.6 505,1147.2 492.7,1148.9" fill="rgb(252,156,0)" stroke="rgb(38,23,0)" stroke-width="0.6" stroke-linejoin="round"/>
<polygon points="159.3,1218.4 171.4,1209.5 159.4,1213.4 147.4,1222.5" fill="rgb(30,215,45)" stroke="rgb(4,32,7)" stroke-width="0.6" stroke-linejoin="round"/>
<polygon points="183.5,1206 195.7,1197.7 183.6,1201 171.4,1209.5" fill="rgb(36,217,43)" stroke="rgb(5,33,6)" stroke-width="0.6" stroke-linejoin="round"/>
<polygon points="207.8,1194.8 220.1,1187.1 207.9,1189.8 195.7,1197.7" fill="rgb(109,238,15)" stroke="rgb(16,36,2)" stroke-width="0.6" stroke-linejoin="round"/>
<polygon points="232.3,1184.8 244.6,1177.6 232.3,1179.7 220.1,1187.1" fill="rgb(168,249,0)" stroke="rgb(25,37,0)" stroke-width="0.6" stroke-linejoin="round"/>
<polygon points="256.9,1176 269.2,1169.4 256.9,1170.8 244.6,1177.6" fill="rgb(211,247,0)" stroke="rgb(32,37,0)" stroke-width="0.6" stroke-linejoin="round"/>
<polygon points="281.5,1168.3 293.9,1162.3 281.5,1163 269.2,1169.4" fill="rgb(241,235,0)" stroke="rgb(36,35,0)" stroke-width="0.6" stroke-linejoin="round"/>
<polygon points="306.3,1161.9 318.7,1156.4 306.3,1156.5 293.9,1162.3" fill="rgb(247,195,0)" stroke="rgb(37,29,0)" stroke-width="0.6" stroke-linejoin="round"/>
<polygon points="331.1,1156.7 343.5,1151.7 331.1,1151.2 318.7,1156.4" fill="rgb(251,164,0)" stroke="rgb(38,25,0)" stroke-width="0.6" stroke-linejoin="round"/>
<polygon points="356,1152.7 368.4,1148.2 356,1147 343.5,1151.7" fill="rgb(254,140,0)" stroke="rgb(38,21,0)" stroke-width="0.6" stroke-linejoin="round"/>
<polygon points="380.9,1149.9 393.3,1146 380.8,1144.1 368.4,1148.2" fill="rgb(252,123,0)" stroke="rgb(38,18,0)" stroke-width="0.6" stroke-linejoin="round"/>
<polygon points="405.8,1148.3 418.2,1144.9 405.7,1142.3 393.3,1146" fill="rgb(250,114,0)" stroke="rgb(38,17,0)" stroke-width="0.6" stroke-linejoin="round"/>
<polygon points="430.6,1147.9 443.1,1145 430.6,1141.7 418.2,1144.9" fill="rgb(250,113,0)" stroke="rgb(38,17,0)" stroke-width="0.6" stroke-linejoin="round"/>
<polygon points="455.5,1148.7 467.9,1146.3 455.5,1142.4 443.1,1145" fill="rgb(252,119,0)" stroke="rgb(38,18,0)" stroke-width="0.6" stroke-linejoin="round"/>
<polygon points="480.3,1150.8 492.7,1148.9 480.3,1144.2 467.9,1146.3" fill="rgb(255,134,0)" stroke="rgb(38,20,0)" stroke-width="0.6" stroke-linejoin="round"/>
<polygon points="147.3,1227.6 159.3,1218.4 147.4,1222.5 135.4,1232" fill="rgb(30,215,45)" stroke="rgb(4,32,7)" stroke-width="0.6" stroke-linejoin="round"/>
<polygon points="171.4,1214.6 183.5,1206 171.4,1209.5 159.3,1218.4" fill="rgb(30,215,45)" stroke="rgb(4,32,7)" stroke-width="0.6" stroke-linejoin="round"/>
<polygon points="220,1192.2 232.3,1184.8 220.1,1187.1 207.8,1194.8" fill="rgb(150,250,0)" stroke="rgb(23,37,0)" stroke-width="0.6" stroke-linejoin="round"/>
<polygon points="244.5,1182.9 256.9,1176 244.6,1177.6 232.3,1184.8" fill="rgb(195,247,0)" stroke="rgb(29,37,0)" stroke-width="0.6" stroke-linejoin="round"/>
<polygon points="293.9,1167.7 306.3,1161.9 293.9,1162.3 281.5,1168.3" fill="rgb(245,209,0)" stroke="rgb(37,31,0)" stroke-width="0.6" stroke-linejoin="round"/>
<polygon points="318.7,1162 331.1,1156.7 318.7,1156.4 306.3,1161.9" fill="rgb(250,174,0)" stroke="rgb(37,26,0)" stroke-width="0.6" stroke-linejoin="round"/>
<polygon points="343.5,1157.4 356,1152.7 343.5,1151.7 331.1,1156.7" fill="rgb(253,147,0)" stroke="rgb(38,22,0)" stroke-width="0.6" stroke-linejoin="round"/>
<polygon points="368.4,1154.1 380.9,1149.9 368.4,1148.2 356,1152.7" fill="rgb(253,127,0)" stroke="rgb(38,19,0)" stroke-width="0.6" stroke-linejoin="round"/>
<polygon points="418.2,1151.1 430.6,1147.9 418.2,1144.9 405.8,1148.3" fill="rgb(249,110,0)" stroke="rgb(37,16,0)" stroke-width="0.6" stroke-linejoin="round"/>
<polygon points="467.9,1152.9 480.3,1150.8 467.9,1146.3 455.5,1148.7" fill="rgb(253,125,0)" stroke="rgb(38,19,0)" stroke-width="0.6" stroke-linejoin="round"/>
<polygon points="492.7,1155.6 505.1,1154 492.7,1148.9 480.3,1150.8" fill="rgb(254,144,0)" stroke="rgb(38,22,0)" stroke-width="0.6" stroke-linejoin="round"/>
<polygon points="195.6,1202.8 207.8,1194.8 195.7,1197.7 183.5,1206" fill="rgb(81,230,26)" stroke="rgb(12,34,4)" stroke-width="0.6" stroke-linejoin="round"/>
<polygon points="269.2,1174.7 281.5,1168.3 269.2,1169.4 256.9,1176" fill="rgb(235,245,0)" stroke="rgb(35,37,0)" stroke-width="0.6" stroke-linejoin="round"/>
<polygon points="393.3,1152 405.8,1148.3 393.3,1146 380.9,1149.9" fill="rgb(250,114,0)" stroke="rgb(38,17,0)" stroke-width="0.6" stroke-linejoin="round"/>
<polygon points="443.1,1151.4 455.5,1148.7 443.1,1145 430.6,1147.9" fill="rgb(250,113,0)" stroke="rgb(38,17,0)" stroke-width="0.6" stroke-linejoin="round"/>
<polygon points="517.4,1159.6 529.7,1158.4 517.4,1152.6 505.1,1154" fill="rgb(250,170,0)" stroke="rgb(38,25,0)" stroke-width="0.6" stroke-linejoin="round"/>
<polygon points="135.3,1237 147.3,1227.6 135.4,1232 123.4,1241.7" fill="rgb(30,215,45)" stroke="rgb(4,32,7)" stroke-width="0.6" stroke-linejoin="round"/>
<polygon points="183.4,1211.2 195.6,1202.8 183.5,1206 171.4,1214.6" fill="rgb(52,221,37)" stroke="rgb(8,33,6)" stroke-width="0.6" stroke-linejoin="round"/>
<polygon points="207.8,1200 220,1192.2 207.8,1194.8 195.6,1202.8" fill="rgb(124,242,10)" stroke="rgb(19,36,1)" stroke-width="0.6" stroke-linejoin="round"/>
<polygon points="232.3,1190.1 244.5,1182.9 232.3,1184.8 220,1192.2" fill="rgb(178,248,0)" stroke="rgb(27,37,0)" stroke-width="0.6" stroke-linejoin="round"/>
<polygon points="306.3,1167.5 318.7,1162 306.3,1161.9 293.9,1167.7" fill="rgb(248,186,0)" stroke="rgb(37,28,0)" stroke-width="0.6" stroke-linejoin="round"/>
<polygon points="331.1,1162.4 343.5,1157.4 331.1,1156.7 318.7,1162" fill="rgb(252,155,0)" stroke="rgb(38,23,0)" stroke-width="0.6" stroke-linejoin="round"/>
<polygon points="380.9,1155.9 393.3,1152 380.9,1149.9 368.4,1154.1" fill="rgb(251,116,0)" stroke="rgb(38,17,0)" stroke-width="0.6" stroke-linejoin="round"/>
<polygon points="405.8,1154.5 418.2,1151.1 405.8,1148.3 393.3,1152" fill="rgb(249,108,0)" stroke="rgb(37,16,0)" stroke-width="0.6" stroke-linejoin="round"/>
<polygon points="430.7,1154.3 443.1,1151.4 430.6,1147.9 418.2,1151.1" fill="rgb(249,108,0)" stroke="rgb(37,16,0)" stroke-width="0.6" stroke-linejoin="round"/>
<polygon points="480.3,1157.5 492.7,1155.6 480.3,1150.8 467.9,1152.9" fill="rgb(254,132,0)" stroke="rgb(38,20,0)" stroke-width="0.6" stroke-linejoin="round"/>
<polygon points="529.7,1165.6 542,1164.7 529.7,1158.4 517.4,1159.6" fill="rgb(248,186,0)" stroke="rgb(37,28,0)" stroke-width="0.6" stroke-linejoin="round"/>
<polygon points="159.3,1223.5 171.4,1214.6 159.3,1218.4 147.3,1227.6" fill="rgb(30,215,45)" stroke="rgb(4,32,7)" stroke-width="0.6" stroke-linejoin="round"/>
<polygon points="256.8,1181.3 269.2,1174.7 256.9,1176 244.5,1182.9" fill="rgb(220,246,0)" stroke="rgb(33,37,0)" stroke-width="0.6" stroke-linejoin="round"/>
<polygon points="281.5,1173.8 293.9,1167.7 281.5,1168.3 269.2,1174.7" fill="rgb(243,224,0)" stroke="rgb(36,34,0)" stroke-width="0.6" stroke-linejoin="round"/>
<polygon points="356,1158.5 368.4,1154.1 356,1152.7 343.5,1157.4" fill="rgb(254,132,0)" stroke="rgb(38,20,0)" stroke-width="0.6" stroke-linejoin="round"/>
<polygon points="455.5,1155.3 467.9,1152.9 455.5,1148.7 443.1,1151.4" fill="rgb(251,116,0)" stroke="rgb(38,17,0)" stroke-width="0.6" stroke-linejoin="round"/>
<polygon points="505.1,1161 517.4,1159.6 505.1,1154 492.7,1155.6" fill="rgb(252,155,0)" stroke="rgb(38,23,0)" stroke-width="0.6" stroke-linejoin="round"/>
<polygon points="123.3,1246.8 135.3,1237 123.4,1241.7 111.4,1251.7" fill="rgb(30,215,45)" stroke="rgb(4,32,7)" stroke-width="0.6" stroke-linejoin="round"/>
<polygon points="147.2,1232.7 159.3,1223.5 147.3,1227.6 135.3,1237" fill="rgb(30,215,45)" stroke="rgb(4,32,7)" stroke-width="0.6" stroke-linejoin="round"/>
<polygon points="171.3,1219.8 183.4,1211.2 171.4,1214.6 159.3,1223.5" fill="rgb(30,215,45)" stroke="rgb(4,32,7)" stroke-width="0.6" stroke-linejoin="round"/>
<polygon points="195.6,1208.1 207.8,1200 195.6,1202.8 183.4,1211.2" fill="rgb(96,234,20)" stroke="rgb(14,35,3)" stroke-width="0.6" stroke-linejoin="round"/>
<polygon points="220,1197.6 232.3,1190.1 220,1192.2 207.8,1200" fill="rgb(160,249,0)" stroke="rgb(24,37,0)" stroke-width="0.6" stroke-linejoin="round"/>
<polygon points="244.5,1188.3 256.8,1181.3 244.5,1182.9 232.3,1190.1" fill="rgb(205,247,0)" stroke="rgb(31,37,0)" stroke-width="0.6" stroke-linejoin="round"/>
<polygon points="269.2,1180.2 281.5,1173.8 269.2,1174.7 256.8,1181.3" fill="rgb(241,241,0)" stroke="rgb(36,36,0)" stroke-width="0.6" stroke-linejoin="round"/>
<polygon points="293.9,1173.3 306.3,1167.5 293.9,1167.7 281.5,1173.8" fill="rgb(246,199,0)" stroke="rgb(37,30,0)" stroke-width="0.6" stroke-linejoin="round"/>
<polygon points="318.7,1167.7 331.1,1162.4 318.7,1162 306.3,1167.5" fill="rgb(251,165,0)" stroke="rgb(38,25,0)" stroke-width="0.6" stroke-linejoin="round"/>
<polygon points="343.6,1163.3 356,1158.5 343.5,1157.4 331.1,1162.4" fill="rgb(254,139,0)" stroke="rgb(38,21,0)" stroke-width="0.6" stroke-linejoin="round"/>
<polygon points="368.4,1160.1 380.9,1155.9 368.4,1154.1 356,1158.5" fill="rgb(252,120,0)" stroke="rgb(38,18,0)" stroke-width="0.6" stroke-linejoin="round"/>
<polygon points="393.3,1158.1 405.8,1154.5 393.3,1152 380.9,1155.9" fill="rgb(249,109,0)" stroke="rgb(37,16,0)" stroke-width="0.6" stroke-linejoin="round"/>
<polygon points="418.2,1157.4 430.7,1154.3 418.2,1151.1 405.8,1154.5" fill="rgb(249,105,0)" stroke="rgb(37,16,0)" stroke-width="0.6" stroke-linejoin="round"/>
<polygon points="443.1,1157.9 455.5,1155.3 443.1,1151.4 430.7,1154.3" fill="rgb(250,110,0)" stroke="rgb(37,16,0)" stroke-width="0.6" stroke-linejoin="round"/>
<polygon points="468,1159.7 480.3,1157.5 467.9,1152.9 455.5,1155.3" fill="rgb(252,122,0)" stroke="rgb(38,18,0)" stroke-width="0.6" stroke-linejoin="round"/>
<polygon points="492.7,1162.6 505.1,1161 492.7,1155.6 480.3,1157.5" fill="rgb(254,143,0)" stroke="rgb(38,21,0)" stroke-width="0.6" stroke-linejoin="round"/>
<polygon points="517.4,1166.8 529.7,1165.6 517.4,1159.6 505.1,1161" fill="rgb(250,170,0)" stroke="rgb(38,25,0)" stroke-width="0.6" stroke-linejoin="round"/>
<polygon points="542,1172.2 554.3,1171.5 542,1164.7 529.7,1165.6" fill="rgb(245,205,0)" stroke="rgb(37,31,0)" stroke-width="0.6" stroke-linejoin="round"/>
<polygon points="111.3,1257 123.3,1246.8 111.4,1251.7 99.5,1262.1" fill="rgb(30,215,45)" stroke="rgb(4,32,7)" stroke-width="0.6" stroke-linejoin="round"/>
<polygon points="207.7,1205.4 220,1197.6 207.8,1200 195.6,1208.1" fill="rgb(137,246,5)" stroke="rgb(21,37,1)" stroke-width="0.6" stroke-linejoin="round"/>
<polygon points="256.8,1186.9 269.2,1180.2 256.8,1181.3 244.5,1188.3" fill="rgb(229,246,0)" stroke="rgb(34,37,0)" stroke-width="0.6" stroke-linejoin="round"/>
<polygon points="455.6,1162 468,1159.7 455.5,1155.3 443.1,1157.9" fill="rgb(250,114,0)" stroke="rgb(38,17,0)" stroke-width="0.6" stroke-linejoin="round"/>
<polygon points="135.2,1242.3 147.2,1232.7 135.3,1237 123.3,1246.8" fill="rgb(30,215,45)" stroke="rgb(4,32,7)" stroke-width="0.6" stroke-linejoin="round"/>
<polygon points="159.2,1228.8 171.3,1219.8 159.3,1223.5 147.2,1232.7" fill="rgb(30,215,45)" stroke="rgb(4,32,7)" stroke-width="0.6" stroke-linejoin="round"/>
<polygon points="183.4,1216.5 195.6,1208.1 183.4,1211.2 171.3,1219.8" fill="rgb(67,226,31)" stroke="rgb(10,34,5)" stroke-width="0.6" stroke-linejoin="round"/>
<polygon points="232.2,1195.5 244.5,1188.3 232.3,1190.1 220,1197.6" fill="rgb(188,248,0)" stroke="rgb(28,37,0)" stroke-width="0.6" stroke-linejoin="round"/>
<polygon points="281.5,1179.4 293.9,1173.3 281.5,1173.8 269.2,1180.2" fill="rgb(244,214,0)" stroke="rgb(37,32,0)" stroke-width="0.6" stroke-linejoin="round"/>
<polygon points="306.3,1173.3 318.7,1167.7 306.3,1167.5 293.9,1173.3" fill="rgb(249,177,0)" stroke="rgb(37,27,0)" stroke-width="0.6" stroke-linejoin="round"/>
<polygon points="331.1,1168.3 343.6,1163.3 331.1,1162.4 318.7,1167.7" fill="rgb(253,148,0)" stroke="rgb(38,22,0)" stroke-width="0.6" stroke-linejoin="round"/>
<polygon points="356,1164.6 368.4,1160.1 356,1158.5 343.6,1163.3" fill="rgb(253,125,0)" stroke="rgb(38,19,0)" stroke-width="0.6" stroke-linejoin="round"/>
<polygon points="380.9,1162.1 393.3,1158.1 380.9,1155.9 368.4,1160.1" fill="rgb(250,111,0)" stroke="rgb(37,17,0)" stroke-width="0.6" stroke-linejoin="round"/>
<polygon points="405.8,1160.8 418.2,1157.4 405.8,1154.5 393.3,1158.1" fill="rgb(248,104,0)" stroke="rgb(37,16,0)" stroke-width="0.6" stroke-linejoin="round"/>
<polygon points="430.7,1160.8 443.1,1157.9 430.7,1154.3 418.2,1157.4" fill="rgb(248,105,0)" stroke="rgb(37,16,0)" stroke-width="0.6" stroke-linejoin="round"/>
<polygon points="480.4,1164.5 492.7,1162.6 480.3,1157.5 468,1159.7" fill="rgb(254,131,0)" stroke="rgb(38,20,0)" stroke-width="0.6" stroke-linejoin="round"/>
<polygon points="505.1,1168.2 517.4,1166.8 505.1,1161 492.7,1162.6" fill="rgb(252,155,0)" stroke="rgb(38,23,0)" stroke-width="0.6" stroke-linejoin="round"/>
<polygon points="529.7,1173.1 542,1172.2 529.7,1165.6 517.4,1166.8" fill="rgb(248,187,0)" stroke="rgb(37,28,0)" stroke-width="0.6" stroke-linejoin="round"/>
<polygon points="554.3,1179.2 566.5,1178.8 554.3,1171.5 542,1172.2" fill="rgb(243,226,0)" stroke="rgb(36,34,0)" stroke-width="0.6" stroke-linejoin="round"/>
<polygon points="171.2,1225.2 183.4,1216.5 171.3,1219.8 159.2,1228.8" fill="rgb(36,217,43)" stroke="rgb(5,32,6)" stroke-width="0.6" stroke-linejoin="round"/>
<polygon points="269.2,1185.9 281.5,1179.4 269.2,1180.2 256.8,1186.9" fill="rgb(242,231,0)" stroke="rgb(36,35,0)" stroke-width="0.6" stroke-linejoin="round"/>
<polygon points="368.5,1166.3 380.9,1162.1 368.4,1160.1 356,1164.6" fill="rgb(250,114,0)" stroke="rgb(38,17,0)" stroke-width="0.6" stroke-linejoin="round"/>
<polygon points="443.1,1164.7 455.6,1162 443.1,1157.9 430.7,1160.8" fill="rgb(249,107,0)" stroke="rgb(37,16,0)" stroke-width="0.6" stroke-linejoin="round"/>
<polygon points="468,1166.6 480.4,1164.5 468,1159.7 455.6,1162" fill="rgb(252,121,0)" stroke="rgb(38,18,0)" stroke-width="0.6" stroke-linejoin="round"/>
<polygon points="566.5,1186.7 578.7,1186.5 566.5,1178.8 554.3,1179.2" fill="rgb(236,245,0)" stroke="rgb(35,37,0)" stroke-width="0.6" stroke-linejoin="round"/>
<polygon points="99.4,1267.4 111.3,1257 99.5,1262.1 87.7,1272.8" fill="rgb(30,215,45)" stroke="rgb(4,32,7)" stroke-width="0.6" stroke-linejoin="round"/>
<polygon points="123.2,1252.1 135.2,1242.3 123.3,1246.8 111.3,1257" fill="rgb(30,215,45)" stroke="rgb(4,32,7)" stroke-width="0.6" stroke-linejoin="round"/>
<polygon points="147.1,1238 159.2,1228.8 147.2,1232.7 135.2,1242.3" fill="rgb(30,215,45)" stroke="rgb(4,32,7)" stroke-width="0.6" stroke-linejoin="round"/>
<polygon points="195.5,1213.5 207.7,1205.4 195.6,1208.1 183.4,1216.5" fill="rgb(110,238,15)" stroke="rgb(16,36,2)" stroke-width="0.6" stroke-linejoin="round"/>
<polygon points="220,1203.1 232.2,1195.5 220,1197.6 207.7,1205.4" fill="rgb(170,249,0)" stroke="rgb(25,37,0)" stroke-width="0.6" stroke-linejoin="round"/>
<polygon points="244.5,1193.8 256.8,1186.9 244.5,1188.3 232.2,1195.5" fill="rgb(213,246,0)" stroke="rgb(32,37,0)" stroke-width="0.6" stroke-linejoin="round"/>
<polygon points="293.9,1179.1 306.3,1173.3 293.9,1173.3 281.5,1179.4" fill="rgb(247,190,0)" stroke="rgb(37,29,0)" stroke-width="0.6" stroke-linejoin="round"/>
<polygon points="318.7,1173.6 331.1,1168.3 318.7,1167.7 306.3,1173.3" fill="rgb(252,158,0)" stroke="rgb(38,24,0)" stroke-width="0.6" stroke-linejoin="round"/>
<polygon points="343.6,1169.3 356,1164.6 343.6,1163.3 331.1,1168.3" fill="rgb(254,132,0)" stroke="rgb(38,20,0)" stroke-width="0.6" stroke-linejoin="round"/>
<polygon points="393.4,1164.5 405.8,1160.8 393.3,1158.1 380.9,1162.1" fill="rgb(248,104,0)" stroke="rgb(37,16,0)" stroke-width="0.6" stroke-linejoin="round"/>
<polygon points="418.3,1164 430.7,1160.8 418.2,1157.4 405.8,1160.8" fill="rgb(248,101,0)" stroke="rgb(37,15,0)" stroke-width="0.6" stroke-linejoin="round"/>
<polygon points="492.7,1169.8 505.1,1168.2 492.7,1162.6 480.4,1164.5" fill="rgb(254,142,0)" stroke="rgb(38,21,0)" stroke-width="0.6" stroke-linejoin="round"/>
<polygon points="517.4,1174.2 529.7,1173.1 517.4,1166.8 505.1,1168.2" fill="rgb(250,171,0)" stroke="rgb(38,26,0)" stroke-width="0.6" stroke-linejoin="round"/>
<polygon points="542,1179.8 554.3,1179.2 542,1172.2 529.7,1173.1" fill="rgb(245,207,0)" stroke="rgb(37,31,0)" stroke-width="0.6" stroke-linejoin="round"/>
<polygon points="87.5,1278.2 99.4,1267.4 87.7,1272.8 75.9,1283.9" fill="rgb(30,215,45)" stroke="rgb(4,32,7)" stroke-width="0.6" stroke-linejoin="round"/>
<polygon points="159.1,1234.2 171.2,1225.2 159.2,1228.8 147.1,1238" fill="rgb(30,215,45)" stroke="rgb(4,32,7)" stroke-width="0.6" stroke-linejoin="round"/>
<polygon points="183.3,1221.9 195.5,1213.5 183.4,1216.5 171.2,1225.2" fill="rgb(81,230,26)" stroke="rgb(12,34,4)" stroke-width="0.6" stroke-linejoin="round"/>
<polygon points="256.8,1192.6 269.2,1185.9 256.8,1186.9 244.5,1193.8" fill="rgb(237,245,0)" stroke="rgb(36,37,0)" stroke-width="0.6" stroke-linejoin="round"/>
<polygon points="281.5,1185.3 293.9,1179.1 281.5,1179.4 269.2,1185.9" fill="rgb(245,205,0)" stroke="rgb(37,31,0)" stroke-width="0.6" stroke-linejoin="round"/>
<polygon points="356,1170.8 368.5,1166.3 356,1164.6 343.6,1169.3" fill="rgb(252,119,0)" stroke="rgb(38,18,0)" stroke-width="0.6" stroke-linejoin="round"/>
<polygon points="380.9,1168.5 393.4,1164.5 380.9,1162.1 368.5,1166.3" fill="rgb(249,106,0)" stroke="rgb(37,16,0)" stroke-width="0.6" stroke-linejoin="round"/>
<polygon points="455.6,1169 468,1166.6 455.6,1162 443.1,1164.7" fill="rgb(250,112,0)" stroke="rgb(38,17,0)" stroke-width="0.6" stroke-linejoin="round"/>
<polygon points="480.4,1171.7 492.7,1169.8 480.4,1164.5 468,1166.6" fill="rgb(254,131,0)" stroke="rgb(38,20,0)" stroke-width="0.6" stroke-linejoin="round"/>
<polygon points="529.7,1180.7 542,1179.8 529.7,1173.1 517.4,1174.2" fill="rgb(248,189,0)" stroke="rgb(37,28,0)" stroke-width="0.6" stroke-linejoin="round"/>
<polygon points="554.3,1187.1 566.5,1186.7 554.3,1179.2 542,1179.8" fill="rgb(242,229,0)" stroke="rgb(36,34,0)" stroke-width="0.6" stroke-linejoin="round"/>
<polygon points="578.7,1194.7 590.8,1194.8 578.7,1186.5 566.5,1186.7" fill="rgb(215,246,0)" stroke="rgb(32,37,0)" stroke-width="0.6" stroke-linejoin="round"/>
<polygon points="111.2,1262.3 123.2,1252.1 111.3,1257 99.4,1267.4" fill="rgb(30,215,45)" stroke="rgb(4,32,7)" stroke-width="0.6" stroke-linejoin="round"/>
<polygon points="135.1,1247.7 147.1,1238 135.2,1242.3 123.2,1252.1" fill="rgb(30,215,45)" stroke="rgb(4,32,7)" stroke-width="0.6" stroke-linejoin="round"/>
<polygon points="207.7,1210.9 220,1203.1 207.7,1205.4 195.5,1213.5" fill="rgb(150,250,0)" stroke="rgb(23,37,0)" stroke-width="0.6" stroke-linejoin="round"/>
<polygon points="232.2,1201.1 244.5,1193.8 232.2,1195.5 220,1203.1" fill="rgb(197,247,0)" stroke="rgb(29,37,0)" stroke-width="0.6" stroke-linejoin="round"/>
<polygon points="306.3,1179.2 318.7,1173.6 306.3,1173.3 293.9,1179.1" fill="rgb(250,169,0)" stroke="rgb(38,25,0)" stroke-width="0.6" stroke-linejoin="round"/>
<polygon points="331.2,1174.4 343.6,1169.3 331.1,1168.3 318.7,1173.6" fill="rgb(254,141,0)" stroke="rgb(38,21,0)" stroke-width="0.6" stroke-linejoin="round"/>
<polygon points="405.8,1167.4 418.3,1164 405.8,1160.8 393.4,1164.5" fill="rgb(247,100,0)" stroke="rgb(37,15,0)" stroke-width="0.6" stroke-linejoin="round"/>
<polygon points="430.7,1167.6 443.1,1164.7 430.7,1160.8 418.3,1164" fill="rgb(248,102,0)" stroke="rgb(37,15,0)" stroke-width="0.6" stroke-linejoin="round"/>
<polygon points="505.1,1175.6 517.4,1174.2 505.1,1168.2 492.7,1169.8" fill="rgb(252,156,0)" stroke="rgb(38,23,0)" stroke-width="0.6" stroke-linejoin="round"/>
<polygon points="99.3,1272.9 111.2,1262.3 99.4,1267.4 87.5,1278.2" fill="rgb(30,215,45)" stroke="rgb(4,32,7)" stroke-width="0.6" stroke-linejoin="round"/>
<polygon points="123.1,1257.6 135.1,1247.7 123.2,1252.1 111.2,1262.3" fill="rgb(30,215,45)" stroke="rgb(4,32,7)" stroke-width="0.6" stroke-linejoin="round"/>
<polygon points="147,1243.5 159.1,1234.2 147.1,1238 135.1,1247.7" fill="rgb(30,215,45)" stroke="rgb(4,32,7)" stroke-width="0.6" stroke-linejoin="round"/>
<polygon points="171.2,1230.7 183.3,1221.9 171.2,1225.2 159.1,1234.2" fill="rgb(50,221,38)" stroke="rgb(7,33,6)" stroke-width="0.6" stroke-linejoin="round"/>
<polygon points="195.5,1219.1 207.7,1210.9 195.5,1213.5 183.3,1221.9" fill="rgb(123,242,10)" stroke="rgb(18,36,2)" stroke-width="0.6" stroke-linejoin="round"/>
<polygon points="244.5,1199.6 256.8,1192.6 244.5,1193.8 232.2,1201.1" fill="rgb(222,246,0)" stroke="rgb(33,37,0)" stroke-width="0.6" stroke-linejoin="round"/>
<polygon points="269.2,1191.7 281.5,1185.3 269.2,1185.9 256.8,1192.6" fill="rgb(243,221,0)" stroke="rgb(36,33,0)" stroke-width="0.6" stroke-linejoin="round"/>
<polygon points="293.9,1185.1 306.3,1179.2 293.9,1179.1 281.5,1185.3" fill="rgb(249,182,0)" stroke="rgb(37,27,0)" stroke-width="0.6" stroke-linejoin="round"/>
<polygon points="318.7,1179.7 331.2,1174.4 318.7,1173.6 306.3,1179.2" fill="rgb(253,150,0)" stroke="rgb(38,23,0)" stroke-width="0.6" stroke-linejoin="round"/>
<polygon points="343.6,1175.6 356,1170.8 343.6,1169.3 331.2,1174.4" fill="rgb(253,126,0)" stroke="rgb(38,19,0)" stroke-width="0.6" stroke-linejoin="round"/>
<polygon points="368.5,1172.7 380.9,1168.5 368.5,1166.3 356,1170.8" fill="rgb(249,109,0)" stroke="rgb(37,16,0)" stroke-width="0.6" stroke-linejoin="round"/>
<polygon points="393.4,1171.1 405.8,1167.4 393.4,1164.5 380.9,1168.5" fill="rgb(247,100,0)" stroke="rgb(37,15,0)" stroke-width="0.6" stroke-linejoin="round"/>
<polygon points="443.2,1171.6 455.6,1169 443.1,1164.7 430.7,1167.6" fill="rgb(249,105,0)" stroke="rgb(37,16,0)" stroke-width="0.6" stroke-linejoin="round"/>
<polygon points="468,1173.8 480.4,1171.7 468,1166.6 455.6,1169" fill="rgb(252,120,0)" stroke="rgb(38,18,0)" stroke-width="0.6" stroke-linejoin="round"/>
<polygon points="492.7,1177.2 505.1,1175.6 492.7,1169.8 480.4,1171.7" fill="rgb(254,143,0)" stroke="rgb(38,21,0)" stroke-width="0.6" stroke-linejoin="round"/>
<polygon points="517.4,1181.8 529.7,1180.7 517.4,1174.2 505.1,1175.6" fill="rgb(250,172,0)" stroke="rgb(37,26,0)" stroke-width="0.6" stroke-linejoin="round"/>
<polygon points="542,1187.7 554.3,1187.1 542,1179.8 529.7,1180.7" fill="rgb(245,209,0)" stroke="rgb(37,31,0)" stroke-width="0.6" stroke-linejoin="round"/>
<polygon points="566.5,1194.9 578.7,1194.7 566.5,1186.7 554.3,1187.1" fill="rgb(233,245,0)" stroke="rgb(35,37,0)" stroke-width="0.6" stroke-linejoin="round"/>
<polygon points="219.9,1208.7 232.2,1201.1 220,1203.1 207.7,1210.9" fill="rgb(179,248,0)" stroke="rgb(27,37,0)" stroke-width="0.6" stroke-linejoin="round"/>
<polygon points="418.3,1170.7 430.7,1167.6 418.3,1164 405.8,1167.4" fill="rgb(247,99,0)" stroke="rgb(37,15,0)" stroke-width="0.6" stroke-linejoin="round"/>
<polygon points="159.1,1239.8 171.2,1230.7 159.1,1234.2 147,1243.5" fill="rgb(30,215,45)" stroke="rgb(4,32,7)" stroke-width="0.6" stroke-linejoin="round"/>
<polygon points="256.8,1198.5 269.2,1191.7 256.8,1192.6 244.5,1199.6" fill="rgb(241,239,0)" stroke="rgb(36,36,0)" stroke-width="0.6" stroke-linejoin="round"/>
<polygon points="356,1177.2 368.5,1172.7 356,1170.8 343.6,1175.6" fill="rgb(250,114,0)" stroke="rgb(38,17,0)" stroke-width="0.6" stroke-linejoin="round"/>
<polygon points="405.9,1174.2 418.3,1170.7 405.8,1167.4 393.4,1171.1" fill="rgb(247,97,0)" stroke="rgb(37,14,0)" stroke-width="0.6" stroke-linejoin="round"/>
<polygon points="455.6,1176.2 468,1173.8 455.6,1169 443.2,1171.6" fill="rgb(250,111,0)" stroke="rgb(37,17,0)" stroke-width="0.6" stroke-linejoin="round"/>
<polygon points="554.2,1195.2 566.5,1194.9 554.3,1187.1 542,1187.7" fill="rgb(242,233,0)" stroke="rgb(36,35,0)" stroke-width="0.6" stroke-linejoin="round"/>
<polygon points="111.1,1267.9 123.1,1257.6 111.2,1262.3 99.3,1272.9" fill="rgb(30,215,45)" stroke="rgb(4,32,7)" stroke-width="0.6" stroke-linejoin="round"/>
<polygon points="135,1253.2 147,1243.5 135.1,1247.7 123.1,1257.6" fill="rgb(30,215,45)" stroke="rgb(4,32,7)" stroke-width="0.6" stroke-linejoin="round"/>
<polygon points="183.3,1227.6 195.5,1219.1 183.3,1221.9 171.2,1230.7" fill="rgb(94,234,21)" stroke="rgb(14,35,3)" stroke-width="0.6" stroke-linejoin="round"/>
<polygon points="207.7,1216.6 219.9,1208.7 207.7,1210.9 195.5,1219.1" fill="rgb(159,249,0)" stroke="rgb(24,37,0)" stroke-width="0.6" stroke-linejoin="round"/>
<polygon points="232.2,1206.9 244.5,1199.6 232.2,1201.1 219.9,1208.7" fill="rgb(205,247,0)" stroke="rgb(31,37,0)" stroke-width="0.6" stroke-linejoin="round"/>
<polygon points="281.5,1191.3 293.9,1185.1 281.5,1185.3 269.2,1191.7" fill="rgb(247,197,0)" stroke="rgb(37,30,0)" stroke-width="0.6" stroke-linejoin="round"/>
<polygon points="306.3,1185.3 318.7,1179.7 306.3,1179.2 293.9,1185.1" fill="rgb(251,162,0)" stroke="rgb(38,24,0)" stroke-width="0.6" stroke-linejoin="round"/>
<polygon points="331.2,1180.6 343.6,1175.6 331.2,1174.4 318.7,1179.7" fill="rgb(255,134,0)" stroke="rgb(38,20,0)" stroke-width="0.6" stroke-linejoin="round"/>
<polygon points="381,1175 393.4,1171.1 380.9,1168.5 368.5,1172.7" fill="rgb(248,101,0)" stroke="rgb(37,15,0)" stroke-width="0.6" stroke-linejoin="round"/>
<polygon points="430.7,1174.5 443.2,1171.6 430.7,1167.6 418.3,1170.7" fill="rgb(247,100,0)" stroke="rgb(37,15,0)" stroke-width="0.6" stroke-linejoin="round"/>
<polygon points="480.4,1179.1 492.7,1177.2 480.4,1171.7 468,1173.8" fill="rgb(254,131,0)" stroke="rgb(38,20,0)" stroke-width="0.6" stroke-linejoin="round"/>
<polygon points="505.1,1183.2 517.4,1181.8 505.1,1175.6 492.7,1177.2" fill="rgb(252,157,0)" stroke="rgb(38,24,0)" stroke-width="0.6" stroke-linejoin="round"/>
<polygon points="529.7,1188.6 542,1187.7 529.7,1180.7 517.4,1181.8" fill="rgb(247,191,0)" stroke="rgb(37,29,0)" stroke-width="0.6" stroke-linejoin="round"/>
<polygon points="123,1263.2 135,1253.2 123.1,1257.6 111.1,1267.9" fill="rgb(30,215,45)" stroke="rgb(4,32,7)" stroke-width="0.6" stroke-linejoin="round"/>
<polygon points="219.9,1214.6 232.2,1206.9 219.9,1208.7 207.7,1216.6" fill="rgb(187,248,0)" stroke="rgb(28,37,0)" stroke-width="0.6" stroke-linejoin="round"/>
<polygon points="318.7,1186 331.2,1180.6 318.7,1179.7 306.3,1185.3" fill="rgb(254,144,0)" stroke="rgb(38,22,0)" stroke-width="0.6" stroke-linejoin="round"/>
<polygon points="418.3,1177.7 430.7,1174.5 418.3,1170.7 405.9,1174.2" fill="rgb(247,96,0)" stroke="rgb(37,14,0)" stroke-width="0.6" stroke-linejoin="round"/>
<polygon points="517.4,1189.7 529.7,1188.6 517.4,1181.8 505.1,1183.2" fill="rgb(250,174,0)" stroke="rgb(37,26,0)" stroke-width="0.6" stroke-linejoin="round"/>
<polygon points="147,1249.2 159.1,1239.8 147,1243.5 135,1253.2" fill="rgb(30,215,45)" stroke="rgb(4,32,7)" stroke-width="0.6" stroke-linejoin="round"/>
<polygon points="171.1,1236.4 183.3,1227.6 171.2,1230.7 159.1,1239.8" fill="rgb(63,225,33)" stroke="rgb(9,34,5)" stroke-width="0.6" stroke-linejoin="round"/>
<polygon points="195.4,1224.9 207.7,1216.6 195.5,1219.1 183.3,1227.6" fill="rgb(135,246,5)" stroke="rgb(20,37,1)" stroke-width="0.6" stroke-linejoin="round"/>
<polygon points="244.5,1205.5 256.8,1198.5 244.5,1199.6 232.2,1206.9" fill="rgb(229,246,0)" stroke="rgb(34,37,0)" stroke-width="0.6" stroke-linejoin="round"/>
<polygon points="269.2,1197.7 281.5,1191.3 269.2,1191.7 256.8,1198.5" fill="rgb(244,213,0)" stroke="rgb(37,32,0)" stroke-width="0.6" stroke-linejoin="round"/>
<polygon points="343.6,1182 356,1177.2 343.6,1175.6 331.2,1180.6" fill="rgb(252,120,0)" stroke="rgb(38,18,0)" stroke-width="0.6" stroke-linejoin="round"/>
<polygon points="368.5,1179.3 381,1175 368.5,1172.7 356,1177.2" fill="rgb(248,104,0)" stroke="rgb(37,16,0)" stroke-width="0.6" stroke-linejoin="round"/>
<polygon points="393.4,1177.9 405.9,1174.2 393.4,1171.1 381,1175" fill="rgb(247,96,0)" stroke="rgb(37,14,0)" stroke-width="0.6" stroke-linejoin="round"/>
<polygon points="443.2,1178.8 455.6,1176.2 443.2,1171.6 430.7,1174.5" fill="rgb(248,104,0)" stroke="rgb(37,16,0)" stroke-width="0.6" stroke-linejoin="round"/>
<polygon points="468,1181.2 480.4,1179.1 468,1173.8 455.6,1176.2" fill="rgb(252,120,0)" stroke="rgb(38,18,0)" stroke-width="0.6" stroke-linejoin="round"/>
<polygon points="542,1195.9 554.2,1195.2 542,1187.7 529.7,1188.6" fill="rgb(244,213,0)" stroke="rgb(37,32,0)" stroke-width="0.6" stroke-linejoin="round"/>
<polygon points="293.9,1191.2 306.3,1185.3 293.9,1185.1 281.5,1191.3" fill="rgb(250,175,0)" stroke="rgb(37,26,0)" stroke-width="0.6" stroke-linejoin="round"/>
<polygon points="492.8,1184.8 505.1,1183.2 492.7,1177.2 480.4,1179.1" fill="rgb(254,144,0)" stroke="rgb(38,22,0)" stroke-width="0.6" stroke-linejoin="round"/>
<polygon points="134.9,1258.9 147,1249.2 135,1253.2 123,1263.2" fill="rgb(30,215,45)" stroke="rgb(4,32,7)" stroke-width="0.6" stroke-linejoin="round"/>
<polygon points="207.6,1222.5 219.9,1214.6 207.7,1216.6 195.4,1224.9" fill="rgb(168,249,0)" stroke="rgb(25,37,0)" stroke-width="0.6" stroke-linejoin="round"/>
<polygon points="232.2,1212.9 244.5,1205.5 232.2,1206.9 219.9,1214.6" fill="rgb(213,247,0)" stroke="rgb(32,37,0)" stroke-width="0.6" stroke-linejoin="round"/>
<polygon points="281.5,1197.4 293.9,1191.2 281.5,1191.3 269.2,1197.7" fill="rgb(248,189,0)" stroke="rgb(37,28,0)" stroke-width="0.6" stroke-linejoin="round"/>
<polygon points="306.3,1191.6 318.7,1186 306.3,1185.3 293.9,1191.2" fill="rgb(252,155,0)" stroke="rgb(38,23,0)" stroke-width="0.6" stroke-linejoin="round"/>
<polygon points="331.2,1187.1 343.6,1182 331.2,1180.6 318.7,1186" fill="rgb(254,129,0)" stroke="rgb(38,19,0)" stroke-width="0.6" stroke-linejoin="round"/>
<polygon points="405.9,1181.1 418.3,1177.7 405.9,1174.2 393.4,1177.9" fill="rgb(246,94,0)" stroke="rgb(37,14,0)" stroke-width="0.6" stroke-linejoin="round"/>
<polygon points="430.8,1181.7 443.2,1178.8 430.7,1174.5 418.3,1177.7" fill="rgb(247,99,0)" stroke="rgb(37,15,0)" stroke-width="0.6" stroke-linejoin="round"/>
<polygon points="480.4,1186.7 492.8,1184.8 480.4,1179.1 468,1181.2" fill="rgb(254,132,0)" stroke="rgb(38,20,0)" stroke-width="0.6" stroke-linejoin="round"/>
<polygon points="505.1,1191 517.4,1189.7 505.1,1183.2 492.8,1184.8" fill="rgb(252,159,0)" stroke="rgb(38,24,0)" stroke-width="0.6" stroke-linejoin="round"/>
<polygon points="529.7,1196.7 542,1195.9 529.7,1188.6 517.4,1189.7" fill="rgb(247,194,0)" stroke="rgb(37,29,0)" stroke-width="0.6" stroke-linejoin="round"/>
<polygon points="159,1245.5 171.1,1236.4 159.1,1239.8 147,1249.2" fill="rgb(31,215,45)" stroke="rgb(5,32,7)" stroke-width="0.6" stroke-linejoin="round"/>
<polygon points="183.2,1233.4 195.4,1224.9 183.3,1227.6 171.1,1236.4" fill="rgb(106,237,16)" stroke="rgb(16,36,2)" stroke-width="0.6" stroke-linejoin="round"/>
<polygon points="256.8,1204.5 269.2,1197.7 256.8,1198.5 244.5,1205.5" fill="rgb(242,231,0)" stroke="rgb(36,35,0)" stroke-width="0.6" stroke-linejoin="round"/>
<polygon points="356.1,1183.8 368.5,1179.3 356,1177.2 343.6,1182" fill="rgb(249,109,0)" stroke="rgb(37,16,0)" stroke-width="0.6" stroke-linejoin="round"/>
<polygon points="381,1181.8 393.4,1177.9 381,1175 368.5,1179.3" fill="rgb(247,98,0)" stroke="rgb(37,15,0)" stroke-width="0.6" stroke-linejoin="round"/>
<polygon points="455.6,1183.5 468,1181.2 455.6,1176.2 443.2,1178.8" fill="rgb(250,111,0)" stroke="rgb(37,17,0)" stroke-width="0.6" stroke-linejoin="round"/>
<polygon points="146.9,1255 159,1245.5 147,1249.2 134.9,1258.9" fill="rgb(30,215,45)" stroke="rgb(4,32,7)" stroke-width="0.6" stroke-linejoin="round"/>
<polygon points="171.1,1242.3 183.2,1233.4 171.1,1236.4 159,1245.5" fill="rgb(76,228,28)" stroke="rgb(11,34,4)" stroke-width="0.6" stroke-linejoin="round"/>
<polygon points="195.4,1230.8 207.6,1222.5 195.4,1224.9 183.2,1233.4" fill="rgb(147,249,1)" stroke="rgb(22,37,0)" stroke-width="0.6" stroke-linejoin="round"/>
<polygon points="219.9,1220.6 232.2,1212.9 219.9,1214.6 207.6,1222.5" fill="rgb(195,248,0)" stroke="rgb(29,37,0)" stroke-width="0.6" stroke-linejoin="round"/>
<polygon points="244.5,1211.6 256.8,1204.5 244.5,1205.5 232.2,1212.9" fill="rgb(236,245,0)" stroke="rgb(35,37,0)" stroke-width="0.6" stroke-linejoin="round"/>
<polygon points="269.2,1204 281.5,1197.4 269.2,1197.7 256.8,1204.5" fill="rgb(245,205,0)" stroke="rgb(37,31,0)" stroke-width="0.6" stroke-linejoin="round"/>
<polygon points="293.9,1197.6 306.3,1191.6 293.9,1191.2 281.5,1197.4" fill="rgb(251,168,0)" stroke="rgb(38,25,0)" stroke-width="0.6" stroke-linejoin="round"/>
<polygon points="318.8,1192.4 331.2,1187.1 318.7,1186 306.3,1191.6" fill="rgb(255,138,0)" stroke="rgb(38,21,0)" stroke-width="0.6" stroke-linejoin="round"/>
<polygon points="343.6,1188.6 356.1,1183.8 343.6,1182 331.2,1187.1" fill="rgb(251,116,0)" stroke="rgb(38,17,0)" stroke-width="0.6" stroke-linejoin="round"/>
<polygon points="393.4,1184.8 405.9,1181.1 393.4,1177.9 381,1181.8" fill="rgb(246,94,0)" stroke="rgb(37,14,0)" stroke-width="0.6" stroke-linejoin="round"/>
<polygon points="418.3,1184.9 430.8,1181.7 418.3,1177.7 405.9,1181.1" fill="rgb(246,95,0)" stroke="rgb(37,14,0)" stroke-width="0.6" stroke-linejoin="round"/>
<polygon points="443.2,1186.2 455.6,1183.5 443.2,1178.8 430.8,1181.7" fill="rgb(248,104,0)" stroke="rgb(37,16,0)" stroke-width="0.6" stroke-linejoin="round"/>
<polygon points="468,1188.8 480.4,1186.7 468,1181.2 455.6,1183.5" fill="rgb(252,121,0)" stroke="rgb(38,18,0)" stroke-width="0.6" stroke-linejoin="round"/>
<polygon points="492.8,1192.6 505.1,1191 492.8,1184.8 480.4,1186.7" fill="rgb(254,146,0)" stroke="rgb(38,22,0)" stroke-width="0.6" stroke-linejoin="round"/>
<polygon points="517.4,1197.8 529.7,1196.7 517.4,1189.7 505.1,1191" fill="rgb(249,177,0)" stroke="rgb(37,27,0)" stroke-width="0.6" stroke-linejoin="round"/>
<polygon points="368.5,1186.1 381,1181.8 368.5,1179.3 356.1,1183.8" fill="rgb(248,101,0)" stroke="rgb(37,15,0)" stroke-width="0.6" stroke-linejoin="round"/>
<polygon points="207.6,1228.6 219.9,1220.6 207.6,1222.5 195.4,1230.8" fill="rgb(176,249,0)" stroke="rgb(26,37,0)" stroke-width="0.6" stroke-linejoin="round"/>
<polygon points="306.3,1198.1 318.8,1192.4 306.3,1191.6 293.9,1197.6" fill="rgb(253,149,0)" stroke="rgb(38,22,0)" stroke-width="0.6" stroke-linejoin="round"/>
<polygon points="356.1,1190.6 368.5,1186.1 356.1,1183.8 343.6,1188.6" fill="rgb(249,105,0)" stroke="rgb(37,16,0)" stroke-width="0.6" stroke-linejoin="round"/>
<polygon points="505.1,1199.1 517.4,1197.8 505.1,1191 492.8,1192.6" fill="rgb(251,162,0)" stroke="rgb(38,24,0)" stroke-width="0.6" stroke-linejoin="round"/>
<polygon points="158.9,1251.5 171.1,1242.3 159,1245.5 146.9,1255" fill="rgb(44,219,40)" stroke="rgb(7,33,6)" stroke-width="0.6" stroke-linejoin="round"/>
<polygon points="183.2,1239.4 195.4,1230.8 183.2,1233.4 171.1,1242.3" fill="rgb(118,241,12)" stroke="rgb(18,36,2)" stroke-width="0.6" stroke-linejoin="round"/>
<polygon points="232.2,1219 244.5,1211.6 232.2,1212.9 219.9,1220.6" fill="rgb(220,246,0)" stroke="rgb(33,37,0)" stroke-width="0.6" stroke-linejoin="round"/>
<polygon points="256.8,1210.8 269.2,1204 256.8,1204.5 244.5,1211.6" fill="rgb(243,223,0)" stroke="rgb(36,33,0)" stroke-width="0.6" stroke-linejoin="round"/>
<polygon points="281.5,1203.8 293.9,1197.6 281.5,1197.4 269.2,1204" fill="rgb(249,182,0)" stroke="rgb(37,27,0)" stroke-width="0.6" stroke-linejoin="round"/>
<polygon points="331.2,1193.7 343.6,1188.6 331.2,1187.1 318.8,1192.4" fill="rgb(253,124,0)" stroke="rgb(38,19,0)" stroke-width="0.6" stroke-linejoin="round"/>
<polygon points="381,1188.8 393.4,1184.8 381,1181.8 368.5,1186.1" fill="rgb(246,95,0)" stroke="rgb(37,14,0)" stroke-width="0.6" stroke-linejoin="round"/>
<polygon points="405.9,1188.3 418.3,1184.9 405.9,1181.1 393.4,1184.8" fill="rgb(246,93,0)" stroke="rgb(37,14,0)" stroke-width="0.6" stroke-linejoin="round"/>
<polygon points="430.8,1189.1 443.2,1186.2 430.8,1181.7 418.3,1184.9" fill="rgb(247,98,0)" stroke="rgb(37,15,0)" stroke-width="0.6" stroke-linejoin="round"/>
<polygon points="455.6,1191.1 468,1188.8 455.6,1183.5 443.2,1186.2" fill="rgb(250,112,0)" stroke="rgb(37,17,0)" stroke-width="0.6" stroke-linejoin="round"/>
<polygon points="480.4,1194.5 492.8,1192.6 480.4,1186.7 468,1188.8" fill="rgb(255,134,0)" stroke="rgb(38,20,0)" stroke-width="0.6" stroke-linejoin="round"/>
<polygon points="171,1248.3 183.2,1239.4 171.1,1242.3 158.9,1251.5" fill="rgb(88,232,23)" stroke="rgb(13,35,3)" stroke-width="0.6" stroke-linejoin="round"/>
<polygon points="368.5,1193.1 381,1188.8 368.5,1186.1 356.1,1190.6" fill="rgb(247,98,0)" stroke="rgb(37,15,0)" stroke-width="0.6" stroke-linejoin="round"/>
<polygon points="468,1196.6 480.4,1194.5 468,1188.8 455.6,1191.1" fill="rgb(252,123,0)" stroke="rgb(38,18,0)" stroke-width="0.6" stroke-linejoin="round"/>
<polygon points="195.4,1236.9 207.6,1228.6 195.4,1230.8 183.2,1239.4" fill="rgb(156,250,0)" stroke="rgb(23,37,0)" stroke-width="0.6" stroke-linejoin="round"/>
<polygon points="219.9,1226.8 232.2,1219 219.9,1220.6 207.6,1228.6" fill="rgb(202,247,0)" stroke="rgb(30,37,0)" stroke-width="0.6" stroke-linejoin="round"/>
<polygon points="244.5,1217.9 256.8,1210.8 244.5,1211.6 232.2,1219" fill="rgb(240,242,0)" stroke="rgb(36,36,0)" stroke-width="0.6" stroke-linejoin="round"/>
<polygon points="269.2,1210.4 281.5,1203.8 269.2,1204 256.8,1210.8" fill="rgb(246,198,0)" stroke="rgb(37,30,0)" stroke-width="0.6" stroke-linejoin="round"/>
<polygon points="293.9,1204.1 306.3,1198.1 293.9,1197.6 281.5,1203.8" fill="rgb(251,162,0)" stroke="rgb(38,24,0)" stroke-width="0.6" stroke-linejoin="round"/>
<polygon points="318.8,1199.1 331.2,1193.7 318.8,1192.4 306.3,1198.1" fill="rgb(255,133,0)" stroke="rgb(38,20,0)" stroke-width="0.6" stroke-linejoin="round"/>
<polygon points="343.6,1195.4 356.1,1190.6 343.6,1188.6 331.2,1193.7" fill="rgb(250,112,0)" stroke="rgb(37,17,0)" stroke-width="0.6" stroke-linejoin="round"/>
<polygon points="393.4,1192 405.9,1188.3 393.4,1184.8 381,1188.8" fill="rgb(246,92,0)" stroke="rgb(37,14,0)" stroke-width="0.6" stroke-linejoin="round"/>
<polygon points="418.3,1192.2 430.8,1189.1 418.3,1184.9 405.9,1188.3" fill="rgb(246,94,0)" stroke="rgb(37,14,0)" stroke-width="0.6" stroke-linejoin="round"/>
<polygon points="492.8,1200.7 505.1,1199.1 492.8,1192.6 480.4,1194.5" fill="rgb(253,148,0)" stroke="rgb(38,22,0)" stroke-width="0.6" stroke-linejoin="round"/>
<polygon points="443.2,1193.7 455.6,1191.1 443.2,1186.2 430.8,1189.1" fill="rgb(248,104,0)" stroke="rgb(37,16,0)" stroke-width="0.6" stroke-linejoin="round"/>
<polygon points="183.2,1245.6 195.4,1236.9 183.2,1239.4 171,1248.3" fill="rgb(129,244,8)" stroke="rgb(19,37,1)" stroke-width="0.6" stroke-linejoin="round"/>
<polygon points="256.8,1217.2 269.2,1210.4 256.8,1210.8 244.5,1217.9" fill="rgb(244,215,0)" stroke="rgb(37,32,0)" stroke-width="0.6" stroke-linejoin="round"/>
<polygon points="281.5,1210.4 293.9,1204.1 281.5,1203.8 269.2,1210.4" fill="rgb(249,176,0)" stroke="rgb(37,26,0)" stroke-width="0.6" stroke-linejoin="round"/>
<polygon points="331.2,1200.6 343.6,1195.4 331.2,1193.7 318.8,1199.1" fill="rgb(252,119,0)" stroke="rgb(38,18,0)" stroke-width="0.6" stroke-linejoin="round"/>
<polygon points="356.1,1197.6 368.5,1193.1 356.1,1190.6 343.6,1195.4" fill="rgb(248,102,0)" stroke="rgb(37,15,0)" stroke-width="0.6" stroke-linejoin="round"/>
<polygon points="381,1196 393.4,1192 381,1188.8 368.5,1193.1" fill="rgb(246,93,0)" stroke="rgb(37,14,0)" stroke-width="0.6" stroke-linejoin="round"/>
<polygon points="455.6,1198.9 468,1196.6 455.6,1191.1 443.2,1193.7" fill="rgb(250,113,0)" stroke="rgb(38,17,0)" stroke-width="0.6" stroke-linejoin="round"/>
<polygon points="480.4,1202.5 492.8,1200.7 480.4,1194.5 468,1196.6" fill="rgb(255,136,0)" stroke="rgb(38,20,0)" stroke-width="0.6" stroke-linejoin="round"/>
<polygon points="207.6,1234.8 219.9,1226.8 207.6,1228.6 195.4,1236.9" fill="rgb(183,248,0)" stroke="rgb(28,37,0)" stroke-width="0.6" stroke-linejoin="round"/>
<polygon points="232.1,1225.4 244.5,1217.9 232.2,1219 219.9,1226.8" fill="rgb(226,246,0)" stroke="rgb(34,37,0)" stroke-width="0.6" stroke-linejoin="round"/>
<polygon points="306.3,1204.8 318.8,1199.1 306.3,1198.1 293.9,1204.1" fill="rgb(254,144,0)" stroke="rgb(38,22,0)" stroke-width="0.6" stroke-linejoin="round"/>
<polygon points="405.9,1195.7 418.3,1192.2 405.9,1188.3 393.4,1192" fill="rgb(246,92,0)" stroke="rgb(37,14,0)" stroke-width="0.6" stroke-linejoin="round"/>
<polygon points="430.8,1196.6 443.2,1193.7 430.8,1189.1 418.3,1192.2" fill="rgb(247,98,0)" stroke="rgb(37,15,0)" stroke-width="0.6" stroke-linejoin="round"/>
<polygon points="195.4,1243.2 207.6,1234.8 195.4,1236.9 183.2,1245.6" fill="rgb(163,249,0)" stroke="rgb(25,37,0)" stroke-width="0.6" stroke-linejoin="round"/>
<polygon points="219.8,1233.1 232.1,1225.4 219.9,1226.8 207.6,1234.8" fill="rgb(209,247,0)" stroke="rgb(31,37,0)" stroke-width="0.6" stroke-linejoin="round"/>
<polygon points="244.5,1224.4 256.8,1217.2 244.5,1217.9 232.1,1225.4" fill="rgb(241,234,0)" stroke="rgb(36,35,0)" stroke-width="0.6" stroke-linejoin="round"/>
<polygon points="269.2,1216.9 281.5,1210.4 269.2,1210.4 256.8,1217.2" fill="rgb(247,192,0)" stroke="rgb(37,29,0)" stroke-width="0.6" stroke-linejoin="round"/>
<polygon points="293.9,1210.8 306.3,1204.8 293.9,1204.1 281.5,1210.4" fill="rgb(252,156,0)" stroke="rgb(38,23,0)" stroke-width="0.6" stroke-linejoin="round"/>
<polygon points="318.8,1206 331.2,1200.6 318.8,1199.1 306.3,1204.8" fill="rgb(254,129,0)" stroke="rgb(38,19,0)" stroke-width="0.6" stroke-linejoin="round"/>
<polygon points="343.7,1202.5 356.1,1197.6 343.6,1195.4 331.2,1200.6" fill="rgb(249,108,0)" stroke="rgb(37,16,0)" stroke-width="0.6" stroke-linejoin="round"/>
<polygon points="368.6,1200.3 381,1196 368.5,1193.1 356.1,1197.6" fill="rgb(246,96,0)" stroke="rgb(37,14,0)" stroke-width="0.6" stroke-linejoin="round"/>
<polygon points="393.5,1199.4 405.9,1195.7 393.4,1192 381,1196" fill="rgb(245,91,0)" stroke="rgb(37,14,0)" stroke-width="0.6" stroke-linejoin="round"/>
<polygon points="418.4,1199.8 430.8,1196.6 418.3,1192.2 405.9,1195.7" fill="rgb(246,94,0)" stroke="rgb(37,14,0)" stroke-width="0.6" stroke-linejoin="round"/>
<polygon points="443.2,1201.6 455.6,1198.9 443.2,1193.7 430.8,1196.6" fill="rgb(249,106,0)" stroke="rgb(37,16,0)" stroke-width="0.6" stroke-linejoin="round"/>
<polygon points="468,1204.6 480.4,1202.5 468,1196.6 455.6,1198.9" fill="rgb(253,125,0)" stroke="rgb(38,19,0)" stroke-width="0.6" stroke-linejoin="round"/>
<polygon points="256.8,1223.8 269.2,1216.9 256.8,1217.2 244.5,1224.4" fill="rgb(245,209,0)" stroke="rgb(37,31,0)" stroke-width="0.6" stroke-linejoin="round"/>
<polygon points="356.1,1204.8 368.6,1200.3 356.1,1197.6 343.7,1202.5" fill="rgb(247,100,0)" stroke="rgb(37,15,0)" stroke-width="0.6" stroke-linejoin="round"/>
<polygon points="405.9,1203.3 418.4,1199.8 405.9,1195.7 393.5,1199.4" fill="rgb(246,92,0)" stroke="rgb(37,14,0)" stroke-width="0.6" stroke-linejoin="round"/>
<polygon points="207.6,1241.3 219.8,1233.1 207.6,1234.8 195.4,1243.2" fill="rgb(190,248,0)" stroke="rgb(29,37,0)" stroke-width="0.6" stroke-linejoin="round"/>
<polygon points="232.1,1231.9 244.5,1224.4 232.1,1225.4 219.8,1233.1" fill="rgb(232,245,0)" stroke="rgb(35,37,0)" stroke-width="0.6" stroke-linejoin="round"/>
<polygon points="281.5,1217.1 293.9,1210.8 281.5,1210.4 269.2,1216.9" fill="rgb(250,170,0)" stroke="rgb(38,26,0)" stroke-width="0.6" stroke-linejoin="round"/>
<polygon points="306.4,1211.7 318.8,1206 306.3,1204.8 293.9,1210.8" fill="rgb(254,140,0)" stroke="rgb(38,21,0)" stroke-width="0.6" stroke-linejoin="round"/>
<polygon points="331.2,1207.6 343.7,1202.5 331.2,1200.6 318.8,1206" fill="rgb(251,116,0)" stroke="rgb(38,17,0)" stroke-width="0.6" stroke-linejoin="round"/>
<polygon points="381,1203.4 393.5,1199.4 381,1196 368.6,1200.3" fill="rgb(246,92,0)" stroke="rgb(37,14,0)" stroke-width="0.6" stroke-linejoin="round"/>
<polygon points="430.8,1204.4 443.2,1201.6 430.8,1196.6 418.4,1199.8" fill="rgb(247,99,0)" stroke="rgb(37,15,0)" stroke-width="0.6" stroke-linejoin="round"/>
<polygon points="455.6,1207 468,1204.6 455.6,1198.9 443.2,1201.6" fill="rgb(251,115,0)" stroke="rgb(38,17,0)" stroke-width="0.6" stroke-linejoin="round"/>
<polygon points="418.4,1207.6 430.8,1204.4 418.4,1199.8 405.9,1203.3" fill="rgb(246,95,0)" stroke="rgb(37,14,0)" stroke-width="0.6" stroke-linejoin="round"/>
<polygon points="219.8,1239.7 232.1,1231.9 219.8,1233.1 207.6,1241.3" fill="rgb(215,246,0)" stroke="rgb(32,37,0)" stroke-width="0.6" stroke-linejoin="round"/>
<polygon points="244.5,1231.1 256.8,1223.8 244.5,1224.4 232.1,1231.9" fill="rgb(242,227,0)" stroke="rgb(36,34,0)" stroke-width="0.6" stroke-linejoin="round"/>
<polygon points="269.2,1223.7 281.5,1217.1 269.2,1216.9 256.8,1223.8" fill="rgb(248,186,0)" stroke="rgb(37,28,0)" stroke-width="0.6" stroke-linejoin="round"/>
<polygon points="293.9,1217.7 306.4,1211.7 293.9,1210.8 281.5,1217.1" fill="rgb(253,152,0)" stroke="rgb(38,23,0)" stroke-width="0.6" stroke-linejoin="round"/>
<polygon points="318.8,1213 331.2,1207.6 318.8,1206 306.4,1211.7" fill="rgb(253,125,0)" stroke="rgb(38,19,0)" stroke-width="0.6" stroke-linejoin="round"/>
<polygon points="343.7,1209.7 356.1,1204.8 343.7,1202.5 331.2,1207.6" fill="rgb(249,106,0)" stroke="rgb(37,16,0)" stroke-width="0.6" stroke-linejoin="round"/>
<polygon points="368.6,1207.7 381,1203.4 368.6,1200.3 356.1,1204.8" fill="rgb(246,94,0)" stroke="rgb(37,14,0)" stroke-width="0.6" stroke-linejoin="round"/>
<polygon points="393.5,1207 405.9,1203.3 393.5,1199.4 381,1203.4" fill="rgb(245,91,0)" stroke="rgb(37,14,0)" stroke-width="0.6" stroke-linejoin="round"/>
<polygon points="443.2,1209.6 455.6,1207 443.2,1201.6 430.8,1204.4" fill="rgb(249,107,0)" stroke="rgb(37,16,0)" stroke-width="0.6" stroke-linejoin="round"/>
<polygon points="331.2,1214.9 343.7,1209.7 331.2,1207.6 318.8,1213" fill="rgb(250,113,0)" stroke="rgb(38,17,0)" stroke-width="0.6" stroke-linejoin="round"/>
<polygon points="381,1211 393.5,1207 381,1203.4 368.6,1207.7" fill="rgb(245,91,0)" stroke="rgb(37,14,0)" stroke-width="0.6" stroke-linejoin="round"/>
<polygon points="430.8,1212.5 443.2,1209.6 430.8,1204.4 418.4,1207.6" fill="rgb(248,101,0)" stroke="rgb(37,15,0)" stroke-width="0.6" stroke-linejoin="round"/>
<polygon points="232.1,1238.6 244.5,1231.1 232.1,1231.9 219.8,1239.7" fill="rgb(238,245,0)" stroke="rgb(36,37,0)" stroke-width="0.6" stroke-linejoin="round"/>
<polygon points="256.8,1230.7 269.2,1223.7 256.8,1223.8 244.5,1231.1" fill="rgb(246,203,0)" stroke="rgb(37,30,0)" stroke-width="0.6" stroke-linejoin="round"/>
<polygon points="306.4,1218.8 318.8,1213 306.4,1211.7 293.9,1217.7" fill="rgb(255,136,0)" stroke="rgb(38,20,0)" stroke-width="0.6" stroke-linejoin="round"/>
<polygon points="405.9,1211.1 418.4,1207.6 405.9,1203.3 393.5,1207" fill="rgb(246,92,0)" stroke="rgb(37,14,0)" stroke-width="0.6" stroke-linejoin="round"/>
<polygon points="281.6,1224.1 293.9,1217.7 281.5,1217.1 269.2,1223.7" fill="rgb(251,166,0)" stroke="rgb(38,25,0)" stroke-width="0.6" stroke-linejoin="round"/>
<polygon points="356.1,1212.3 368.6,1207.7 356.1,1204.8 343.7,1209.7" fill="rgb(247,98,0)" stroke="rgb(37,15,0)" stroke-width="0.6" stroke-linejoin="round"/>
<polygon points="393.5,1214.8 405.9,1211.1 393.5,1207 381,1211" fill="rgb(245,91,0)" stroke="rgb(37,14,0)" stroke-width="0.6" stroke-linejoin="round"/>
<polygon points="244.4,1237.9 256.8,1230.7 244.5,1231.1 232.1,1238.6" fill="rgb(243,221,0)" stroke="rgb(36,33,0)" stroke-width="0.6" stroke-linejoin="round"/>
<polygon points="269.2,1230.7 281.6,1224.1 269.2,1223.7 256.8,1230.7" fill="rgb(249,181,0)" stroke="rgb(37,27,0)" stroke-width="0.6" stroke-linejoin="round"/>
<polygon points="294,1224.9 306.4,1218.8 293.9,1217.7 281.6,1224.1" fill="rgb(253,148,0)" stroke="rgb(38,22,0)" stroke-width="0.6" stroke-linejoin="round"/>
<polygon points="318.8,1220.3 331.2,1214.9 318.8,1213 306.4,1218.8" fill="rgb(252,122,0)" stroke="rgb(38,18,0)" stroke-width="0.6" stroke-linejoin="round"/>
<polygon points="343.7,1217.1 356.1,1212.3 343.7,1209.7 331.2,1214.9" fill="rgb(248,104,0)" stroke="rgb(37,16,0)" stroke-width="0.6" stroke-linejoin="round"/>
<polygon points="368.6,1215.3 381,1211 368.6,1207.7 356.1,1212.3" fill="rgb(246,93,0)" stroke="rgb(37,14,0)" stroke-width="0.6" stroke-linejoin="round"/>
<polygon points="418.4,1215.6 430.8,1212.5 418.4,1207.6 405.9,1211.1" fill="rgb(247,97,0)" stroke="rgb(37,14,0)" stroke-width="0.6" stroke-linejoin="round"/>
<polygon points="405.9,1219.1 418.4,1215.6 405.9,1211.1 393.5,1214.8" fill="rgb(246,94,0)" stroke="rgb(37,14,0)" stroke-width="0.6" stroke-linejoin="round"/>
<polygon points="256.8,1237.7 269.2,1230.7 256.8,1230.7 244.4,1237.9" fill="rgb(246,198,0)" stroke="rgb(37,30,0)" stroke-width="0.6" stroke-linejoin="round"/>
<polygon points="281.6,1231.2 294,1224.9 281.6,1224.1 269.2,1230.7" fill="rgb(251,161,0)" stroke="rgb(38,24,0)" stroke-width="0.6" stroke-linejoin="round"/>
<polygon points="306.4,1226.1 318.8,1220.3 306.4,1218.8 294,1224.9" fill="rgb(255,133,0)" stroke="rgb(38,20,0)" stroke-width="0.6" stroke-linejoin="round"/>
<polygon points="331.3,1222.3 343.7,1217.1 331.2,1214.9 318.8,1220.3" fill="rgb(250,111,0)" stroke="rgb(37,17,0)" stroke-width="0.6" stroke-linejoin="round"/>
<polygon points="381.1,1218.8 393.5,1214.8 381,1211 368.6,1215.3" fill="rgb(246,91,0)" stroke="rgb(37,14,0)" stroke-width="0.6" stroke-linejoin="round"/>
<polygon points="356.1,1219.9 368.6,1215.3 356.1,1212.3 343.7,1217.1" fill="rgb(247,97,0)" stroke="rgb(37,15,0)" stroke-width="0.6" stroke-linejoin="round"/>
<polygon points="269.2,1237.9 281.6,1231.2 269.2,1230.7 256.8,1237.7" fill="rgb(249,177,0)" stroke="rgb(37,26,0)" stroke-width="0.6" stroke-linejoin="round"/>
<polygon points="294,1232.2 306.4,1226.1 294,1224.9 281.6,1231.2" fill="rgb(254,145,0)" stroke="rgb(38,22,0)" stroke-width="0.6" stroke-linejoin="round"/>
<polygon points="318.8,1227.8 331.3,1222.3 318.8,1220.3 306.4,1226.1" fill="rgb(252,120,0)" stroke="rgb(38,18,0)" stroke-width="0.6" stroke-linejoin="round"/>
<polygon points="343.7,1224.8 356.1,1219.9 343.7,1217.1 331.3,1222.3" fill="rgb(248,103,0)" stroke="rgb(37,15,0)" stroke-width="0.6" stroke-linejoin="round"/>
<polygon points="368.6,1223.1 381.1,1218.8 368.6,1215.3 356.1,1219.9" fill="rgb(246,93,0)" stroke="rgb(37,14,0)" stroke-width="0.6" stroke-linejoin="round"/>
<polygon points="393.5,1222.8 405.9,1219.1 393.5,1214.8 381.1,1218.8" fill="rgb(246,92,0)" stroke="rgb(37,14,0)" stroke-width="0.6" stroke-linejoin="round"/>
<polygon points="281.6,1238.6 294,1232.2 281.6,1231.2 269.2,1237.9" fill="rgb(252,158,0)" stroke="rgb(38,24,0)" stroke-width="0.6" stroke-linejoin="round"/>
<polygon points="306.4,1233.6 318.8,1227.8 306.4,1226.1 294,1232.2" fill="rgb(254,130,0)" stroke="rgb(38,20,0)" stroke-width="0.6" stroke-linejoin="round"/>
<polygon points="331.3,1230 343.7,1224.8 331.3,1222.3 318.8,1227.8" fill="rgb(250,110,0)" stroke="rgb(37,16,0)" stroke-width="0.6" stroke-linejoin="round"/>
<polygon points="356.2,1227.7 368.6,1223.1 356.1,1219.9 343.7,1224.8" fill="rgb(247,97,0)" stroke="rgb(37,15,0)" stroke-width="0.6" stroke-linejoin="round"/>
<polygon points="381.1,1226.9 393.5,1222.8 381.1,1218.8 368.6,1223.1" fill="rgb(246,92,0)" stroke="rgb(37,14,0)" stroke-width="0.6" stroke-linejoin="round"/>
<polygon points="294,1239.7 306.4,1233.6 294,1232.2 281.6,1238.6" fill="rgb(254,142,0)" stroke="rgb(38,21,0)" stroke-width="0.6" stroke-linejoin="round"/>
<polygon points="318.8,1235.5 331.3,1230 318.8,1227.8 306.4,1233.6" fill="rgb(251,118,0)" stroke="rgb(38,18,0)" stroke-width="0.6" stroke-linejoin="round"/>
<polygon points="343.7,1232.7 356.2,1227.7 343.7,1224.8 331.3,1230" fill="rgb(248,102,0)" stroke="rgb(37,15,0)" stroke-width="0.6" stroke-linejoin="round"/>
<polygon points="368.6,1231.2 381.1,1226.9 368.6,1223.1 356.2,1227.7" fill="rgb(246,94,0)" stroke="rgb(37,14,0)" stroke-width="0.6" stroke-linejoin="round"/>
<polygon points="306.4,1241.3 318.8,1235.5 306.4,1233.6 294,1239.7" fill="rgb(254,129,0)" stroke="rgb(38,19,0)" stroke-width="0.6" stroke-linejoin="round"/>
<polygon points="331.3,1237.9 343.7,1232.7 331.3,1230 318.8,1235.5" fill="rgb(249,109,0)" stroke="rgb(37,16,0)" stroke-width="0.6" stroke-linejoin="round"/>
<polygon points="356.2,1235.8 368.6,1231.2 356.2,1227.7 343.7,1232.7" fill="rgb(247,98,0)" stroke="rgb(37,15,0)" stroke-width="0.6" stroke-linejoin="round"/>
<polygon points="318.9,1243.4 331.3,1237.9 318.8,1235.5 306.4,1241.3" fill="rgb(251,118,0)" stroke="rgb(38,18,0)" stroke-width="0.6" stroke-linejoin="round"/>
<polygon points="343.7,1240.8 356.2,1235.8 343.7,1232.7 331.3,1237.9" fill="rgb(248,103,0)" stroke="rgb(37,15,0)" stroke-width="0.6" stroke-linejoin="round"/>
<polygon points="331.3,1246 343.7,1240.8 331.3,1237.9 318.9,1243.4" fill="rgb(249,109,0)" stroke="rgb(37,16,0)" stroke-width="0.6" stroke-linejoin="round"/>
<line x1="592.2" y1="1166.7" x2="592.2" y2="1194" stroke="#6a6a70" stroke-width="1.3"/>
<circle cx="77.3" cy="1311" r="4.7" fill="#f2d5c4" stroke="#b87a58" stroke-width="1.1"/>
<circle cx="592.2" cy="1166.7" r="4.6" fill="#c40000" stroke="#6a0000" stroke-width="1"/>
<circle cx="331.5" cy="1247" r="4.6" fill="#c40000" stroke="#6a0000" stroke-width="1"/>
<circle cx="330.9" cy="1161.3" r="4.6" fill="#c40000" stroke="#6a0000" stroke-width="1"/>
<circle cx="330.9" cy="1155.1" r="4.6" fill="#c40000" stroke="#6a0000" stroke-width="1"/>
<text x="50.3" y="1331" font-size="16.1" font-family="Liberation Sans, sans-serif" fill="#111" stroke="#111" stroke-width="0.45" textLength="18.5" lengthAdjust="spacingAndGlyphs">65</text>
<text x="48.2" y="1289" font-size="16.1" font-family="Liberation Sans, sans-serif" fill="#111" stroke="#111" stroke-width="0.45" textLength="18.5" lengthAdjust="spacingAndGlyphs">70</text>
<text x="46.1" y="1247" font-size="16.1" font-family="Liberation Sans, sans-serif" fill="#111" stroke="#111" stroke-width="0.45" textLength="18.5" lengthAdjust="spacingAndGlyphs">75</text>
<text x="44.2" y="1205" font-size="16.1" font-family="Liberation Sans, sans-serif" fill="#111" stroke="#111" stroke-width="0.45" textLength="18.4" lengthAdjust="spacingAndGlyphs">80</text>
<text x="42.2" y="1163.1" font-size="16.1" font-family="Liberation Sans, sans-serif" fill="#111" stroke="#111" stroke-width="0.45" textLength="18.4" lengthAdjust="spacingAndGlyphs">85</text>
<text x="39.9" y="1121.1" font-size="16.1" font-family="Liberation Sans, sans-serif" fill="#111" stroke="#111" stroke-width="0.45" textLength="18.5" lengthAdjust="spacingAndGlyphs">90</text>
<text x="37.9" y="1079.1" font-size="16.1" font-family="Liberation Sans, sans-serif" fill="#111" stroke="#111" stroke-width="0.45" textLength="18.5" lengthAdjust="spacingAndGlyphs">95</text>
<text x="303.2" y="1547.3" font-size="16.1" font-family="Liberation Sans, sans-serif" fill="#111" stroke="#111" stroke-width="0.45" textLength="18.5" lengthAdjust="spacingAndGlyphs">25</text>
<text x="253.5" y="1524.2" font-size="16.1" font-family="Liberation Sans, sans-serif" fill="#111" stroke="#111" stroke-width="0.45" textLength="18.4" lengthAdjust="spacingAndGlyphs">30</text>
<text x="203.7" y="1501" font-size="16.1" font-family="Liberation Sans, sans-serif" fill="#111" stroke="#111" stroke-width="0.45" textLength="18.4" lengthAdjust="spacingAndGlyphs">35</text>
<text x="154.3" y="1477.9" font-size="16.1" font-family="Liberation Sans, sans-serif" fill="#111" stroke="#111" stroke-width="0.45" textLength="18" lengthAdjust="spacingAndGlyphs">40</text>
<text x="104.5" y="1454.7" font-size="16.1" font-family="Liberation Sans, sans-serif" fill="#111" stroke="#111" stroke-width="0.45" textLength="18" lengthAdjust="spacingAndGlyphs">45</text>
<text x="54.3" y="1431.6" font-size="16.1" font-family="Liberation Sans, sans-serif" fill="#111" stroke="#111" stroke-width="0.45" textLength="18.4" lengthAdjust="spacingAndGlyphs">50</text>
<text x="340.8" y="1547.3" font-size="16.1" font-family="Liberation Sans, sans-serif" fill="#111" stroke="#111" stroke-width="0.45" textLength="18.5" lengthAdjust="spacingAndGlyphs">20</text>
<text x="403" y="1518.3" font-size="16.1" font-family="Liberation Sans, sans-serif" fill="#111" stroke="#111" stroke-width="0.45" textLength="18.5" lengthAdjust="spacingAndGlyphs">25</text>
<text x="465.4" y="1489.4" font-size="16.1" font-family="Liberation Sans, sans-serif" fill="#111" stroke="#111" stroke-width="0.45" textLength="18.4" lengthAdjust="spacingAndGlyphs">30</text>
<text x="527.6" y="1460.5" font-size="16.1" font-family="Liberation Sans, sans-serif" fill="#111" stroke="#111" stroke-width="0.45" textLength="18.4" lengthAdjust="spacingAndGlyphs">35</text>
<text x="590.2" y="1431.5" font-size="16.1" font-family="Liberation Sans, sans-serif" fill="#111" stroke="#111" stroke-width="0.45" textLength="18" lengthAdjust="spacingAndGlyphs">40</text>
<text x="0.1" y="24" font-size="25.8" font-family="Liberation Serif, sans-serif" font-weight="bold" fill="#111" textLength="32.9" lengthAdjust="spacingAndGlyphs">(a)</text>
<text x="-0.3" y="517.7" font-size="26.3" font-family="Liberation Serif, sans-serif" font-weight="bold" fill="#111" textLength="34.3" lengthAdjust="spacingAndGlyphs">(b)</text>
<text x="0.8" y="1042.8" font-size="26.3" font-family="Liberation Serif, sans-serif" font-weight="bold" fill="#111" textLength="31.4" lengthAdjust="spacingAndGlyphs">(c)</text>
<text x="48.8" y="440.1" font-size="15.1" font-family="Liberation Sans, sans-serif" fill="#111" stroke="#111" stroke-width="0.45" textLength="169.8" lengthAdjust="spacingAndGlyphs">B: Sonication Time (min)</text>
<text x="373.7" y="440.6" font-size="15.1" font-family="Liberation Sans, sans-serif" fill="#111" stroke="#111" stroke-width="0.45" textLength="216.9" lengthAdjust="spacingAndGlyphs">A: Sonication Temperature (°C)</text>
<text x="15" y="959.5" font-size="16.1" font-family="Liberation Sans, sans-serif" fill="#111" stroke="#111" stroke-width="0.45" textLength="220.1" lengthAdjust="spacingAndGlyphs">C: Ethanol Concentration(%)</text>
<text x="389.3" y="959.2" font-size="16.2" font-family="Liberation Sans, sans-serif" fill="#111" stroke="#111" stroke-width="0.45" textLength="236.1" lengthAdjust="spacingAndGlyphs">A: Sonication Temperature (°C)</text>
<text x="-0.3" y="1521.1" font-size="16.5" font-family="Liberation Sans, sans-serif" fill="#111" stroke="#111" stroke-width="0.45" textLength="222.7" lengthAdjust="spacingAndGlyphs">C: Ethanol Concentration(%)</text>
<text x="455.2" y="1521.1" font-size="16.5" font-family="Liberation Sans, sans-serif" fill="#111" stroke="#111" stroke-width="0.45" textLength="190.2" lengthAdjust="spacingAndGlyphs">B: Sonication Time (min)</text>
<text x="0" y="0" font-size="16.4" font-family="Liberation Sans, sans-serif" fill="#111" stroke="#111" stroke-width="0.45" textLength="103.6" lengthAdjust="spacingAndGlyphs" transform="translate(54,257.2) rotate(-90)">Argel DPPH (%)</text>
<text x="0" y="0" font-size="17.5" font-family="Liberation Sans, sans-serif" fill="#111" stroke="#111" stroke-width="0.45" textLength="108.3" lengthAdjust="spacingAndGlyphs" transform="translate(34.1,766.7) rotate(-90)">Argel DPPH (%)</text>
<text x="0" y="0" font-size="19" font-family="Liberation Sans, sans-serif" fill="#111" stroke="#111" stroke-width="0.45" textLength="117.9" lengthAdjust="spacingAndGlyphs" transform="translate(19,1312.9) rotate(-90)">Argel DPPH (%)</text>
</svg></body></html>
